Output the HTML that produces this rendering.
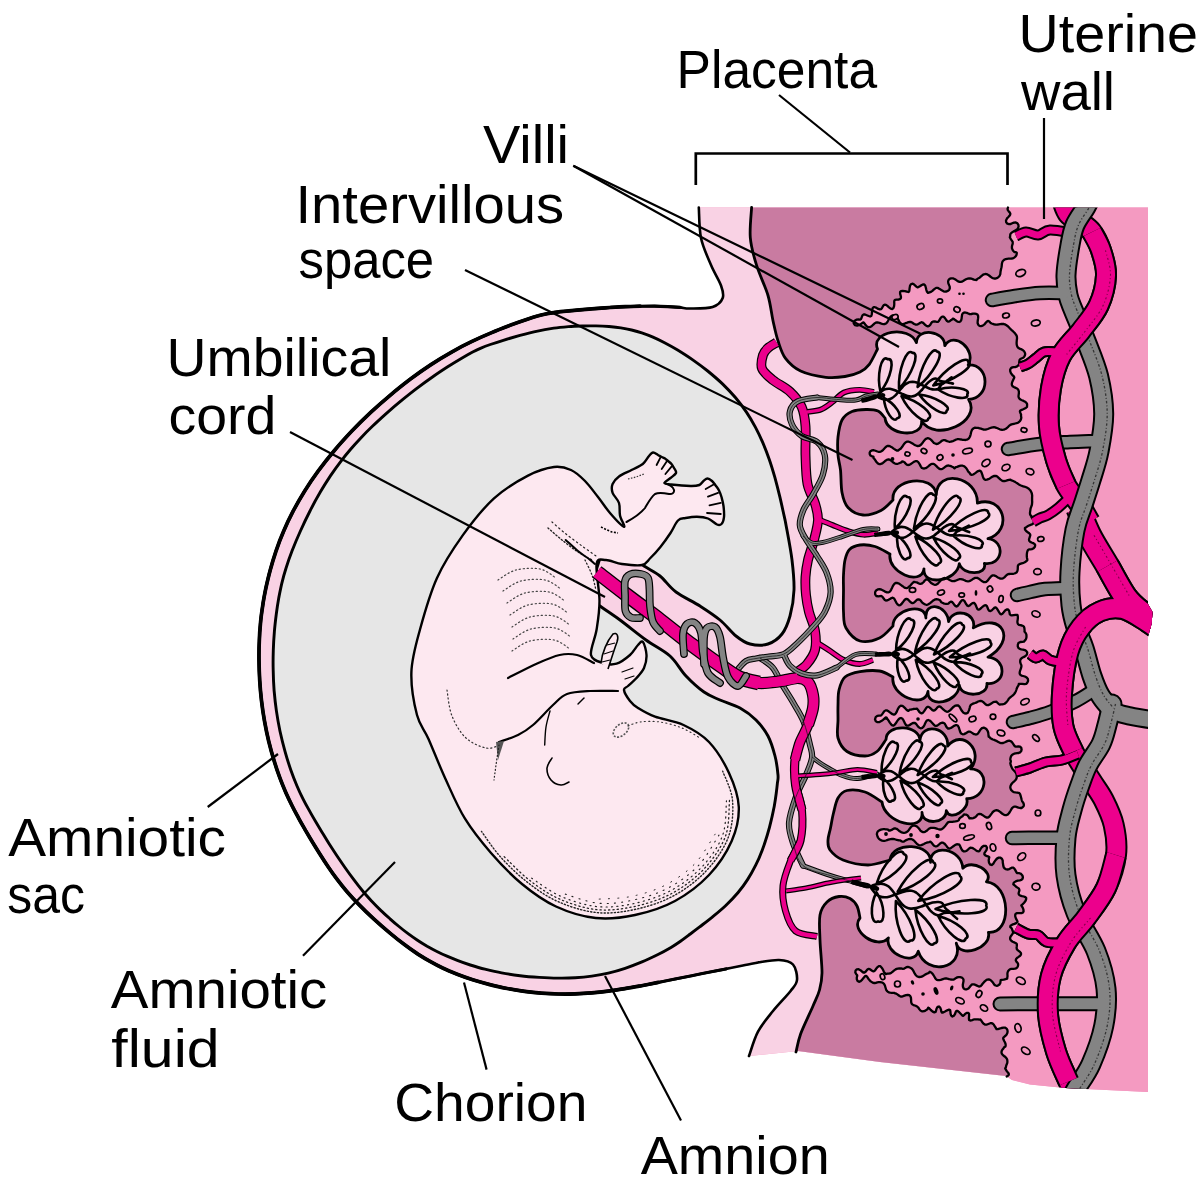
<!DOCTYPE html>
<html><head><meta charset="utf-8"><title>Placenta</title>
<style>html,body{margin:0;padding:0;background:#fff}svg{display:block}text{font-family:"Liberation Sans",sans-serif;fill:#000}</style>
</head><body>
<svg width="1200" height="1193" viewBox="0 0 1200 1193">
<rect width="1200" height="1193" fill="#fff"/>
<path d="M698.8 207.5C699.2 212.6 699 228.4 701 238C703 247.6 707.7 257.1 711 265C714.3 272.9 719 280 721 285.5C723 291 724.1 294.4 722.7 298C721.3 301.6 718.1 305.2 712.6 307C707.1 308.8 695.4 308.4 690 308.5C684.6 308.6 683.8 307.7 680.1 307.4C676.4 307.1 672.1 306.8 667.9 306.6C663.6 306.4 659.1 306.2 654.5 306.1C649.8 306.1 645 306.1 640.1 306.2C635.2 306.3 630.2 306.5 625.2 306.7C620.1 306.9 615.1 307.2 610 307.5C604.9 307.9 599.7 308.2 594.7 308.6C589.6 309 584.4 309.5 579.7 309.9C574.9 310.4 570.2 310.8 566.1 311.2C562.1 311.6 558.5 312 555.3 312.4C552.1 312.8 549.7 313.1 546.9 313.7C544 314.3 541.7 314.8 538.3 315.8C534.9 316.7 531.2 317.9 526.6 319.5C522 321 516.5 322.9 510.7 325.1C504.9 327.3 498.2 329.8 491.7 332.6C485.1 335.3 478.2 338.4 471.5 341.7C464.7 344.9 457.9 348.5 451.2 352.3C444.4 356.1 437.7 360.2 431 364.6C424.3 369 417.6 373.7 410.8 378.7C404.1 383.8 397.3 389.1 390.7 394.8C384 400.4 377.2 406.3 370.7 412.4C364.2 418.5 357.7 424.9 351.6 431.3C345.5 437.8 339.5 444.4 334 451C328.4 457.6 323.2 464.3 318.3 470.9C313.4 477.6 308.8 484.3 304.7 491C300.5 497.8 296.6 504.5 293.1 511.2C289.6 517.9 286.4 524.6 283.6 531.3C280.7 537.9 278.2 544.6 276 551.1C273.8 557.6 271.9 564 270.2 570.2C268.5 576.4 267.1 582.5 265.8 588.4C264.6 594.3 263.5 600 262.7 605.7C261.8 611.5 261 617.1 260.5 623C259.9 628.9 259.5 634.9 259.3 641.2C259 647.4 258.9 653.8 259 660.4C259.1 666.9 259.3 673.7 259.7 680.4C260.1 687.1 260.7 693.9 261.5 700.7C262.3 707.5 263.3 714.3 264.5 721.1C265.7 727.8 267.1 734.6 268.7 741.2C270.3 747.7 272.1 754.3 274 760.4C275.8 766.5 277.8 772.3 279.8 777.7C281.8 783.1 283.9 788.1 285.9 792.8C288 797.5 290.1 801.8 292.2 806C294.3 810.3 296.5 814.2 298.7 818.3C300.9 822.4 303.2 826.3 305.5 830.4C307.9 834.4 310.3 838.5 312.7 842.5C315.2 846.6 317.7 850.6 320.3 854.7C322.8 858.7 325.4 862.7 328.1 866.7C330.8 870.7 333.5 874.6 336.6 878.7C339.7 882.8 342.9 886.9 346.6 891.2C350.3 895.5 354.4 900 359 904.6C363.5 909.3 368.6 914.2 373.7 918.9C378.7 923.5 384.2 928.3 389.4 932.6C394.5 936.9 399.6 941 404.4 944.5C409.1 948.1 413.6 951.2 417.9 954.1C422.3 956.9 426.2 959.3 430.5 961.7C434.7 964.1 438.7 966.2 443.2 968.3C447.6 970.4 452.2 972.3 457.2 974.3C462.1 976.2 467.3 978.1 472.7 979.8C478.2 981.5 483.9 983.1 489.7 984.6C495.4 986 501.4 987.4 507.2 988.5C513 989.6 518.9 990.6 524.6 991.4C530.3 992.2 536 992.8 541.6 993.2C547.2 993.6 552.8 993.9 558.4 994C563.9 994.1 569.5 994.1 575 993.9C580.6 993.7 586.1 993.4 591.6 992.9C597.2 992.4 602.7 991.8 608.2 991.1C613.7 990.4 619.3 989.5 624.8 988.6C630.4 987.7 635.9 986.7 641.5 985.7C647 984.6 652.6 983.5 658.2 982.4C663.8 981.3 669.3 980.2 674.9 979.1C680.6 978 686.2 976.8 691.8 975.7C697.5 974.6 703.1 973.5 708.8 972.3C714.5 971.2 720.3 970 726 968.9C731.7 967.8 737.6 966.6 742.9 965.5C748.2 964.5 755.5 963 758 962.5C760.5 962 754.5 962.9 758 962.5C761.5 962.1 773.2 959.7 779 960C784.8 960.3 790 961.2 793 964.5C796 967.8 797.4 975.6 797 980C796.6 984.4 794.6 985.8 790.6 991C786.6 996.2 778.4 1004.2 773 1011C767.6 1017.8 762 1024.1 758 1031.6C754 1039.1 750.5 1051.9 749 1056L798 1051L880 1062L1006 1076L1012 1080L1030 1084.5L1065 1088L1148 1092L1148 207.5Z" fill="#F49AC1" stroke="none" stroke-width="0" />
<path d="M698.8 207.5C699.2 212.6 699 228.4 701 238C703 247.6 707.7 257.1 711 265C714.3 272.9 719 280 721 285.5C723 291 724.1 294.4 722.7 298C721.3 301.6 718.1 305.2 712.6 307C707.1 308.8 695.4 308.4 690 308.5C684.6 308.6 683.8 307.7 680.1 307.4C676.4 307.1 672.1 306.8 667.9 306.6C663.6 306.4 659.1 306.2 654.5 306.1C649.8 306.1 645 306.1 640.1 306.2C635.2 306.3 630.2 306.5 625.2 306.7C620.1 306.9 615.1 307.2 610 307.5C604.9 307.9 599.7 308.2 594.7 308.6C589.6 309 584.4 309.5 579.7 309.9C574.9 310.4 570.2 310.8 566.1 311.2C562.1 311.6 558.5 312 555.3 312.4C552.1 312.8 549.7 313.1 546.9 313.7C544 314.3 541.7 314.8 538.3 315.8C534.9 316.7 531.2 317.9 526.6 319.5C522 321 516.5 322.9 510.7 325.1C504.9 327.3 498.2 329.8 491.7 332.6C485.1 335.3 478.2 338.4 471.5 341.7C464.7 344.9 457.9 348.5 451.2 352.3C444.4 356.1 437.7 360.2 431 364.6C424.3 369 417.6 373.7 410.8 378.7C404.1 383.8 397.3 389.1 390.7 394.8C384 400.4 377.2 406.3 370.7 412.4C364.2 418.5 357.7 424.9 351.6 431.3C345.5 437.8 339.5 444.4 334 451C328.4 457.6 323.2 464.3 318.3 470.9C313.4 477.6 308.8 484.3 304.7 491C300.5 497.8 296.6 504.5 293.1 511.2C289.6 517.9 286.4 524.6 283.6 531.3C280.7 537.9 278.2 544.6 276 551.1C273.8 557.6 271.9 564 270.2 570.2C268.5 576.4 267.1 582.5 265.8 588.4C264.6 594.3 263.5 600 262.7 605.7C261.8 611.5 261 617.1 260.5 623C259.9 628.9 259.5 634.9 259.3 641.2C259 647.4 258.9 653.8 259 660.4C259.1 666.9 259.3 673.7 259.7 680.4C260.1 687.1 260.7 693.9 261.5 700.7C262.3 707.5 263.3 714.3 264.5 721.1C265.7 727.8 267.1 734.6 268.7 741.2C270.3 747.7 272.1 754.3 274 760.4C275.8 766.5 277.8 772.3 279.8 777.7C281.8 783.1 283.9 788.1 285.9 792.8C288 797.5 290.1 801.8 292.2 806C294.3 810.3 296.5 814.2 298.7 818.3C300.9 822.4 303.2 826.3 305.5 830.4C307.9 834.4 310.3 838.5 312.7 842.5C315.2 846.6 317.7 850.6 320.3 854.7C322.8 858.7 325.4 862.7 328.1 866.7C330.8 870.7 333.5 874.6 336.6 878.7C339.7 882.8 342.9 886.9 346.6 891.2C350.3 895.5 354.4 900 359 904.6C363.5 909.3 368.6 914.2 373.7 918.9C378.7 923.5 384.2 928.3 389.4 932.6C394.5 936.9 399.6 941 404.4 944.5C409.1 948.1 413.6 951.2 417.9 954.1C422.3 956.9 426.2 959.3 430.5 961.7C434.7 964.1 438.7 966.2 443.2 968.3C447.6 970.4 452.2 972.3 457.2 974.3C462.1 976.2 467.3 978.1 472.7 979.8C478.2 981.5 483.9 983.1 489.7 984.6C495.4 986 501.4 987.4 507.2 988.5C513 989.6 518.9 990.6 524.6 991.4C530.3 992.2 536 992.8 541.6 993.2C547.2 993.6 552.8 993.9 558.4 994C563.9 994.1 569.5 994.1 575 993.9C580.6 993.7 586.1 993.4 591.6 992.9C597.2 992.4 602.7 991.8 608.2 991.1C613.7 990.4 619.3 989.5 624.8 988.6C630.4 987.7 635.9 986.7 641.5 985.7C647 984.6 652.6 983.5 658.2 982.4C663.8 981.3 669.3 980.2 674.9 979.1C680.6 978 686.2 976.8 691.8 975.7C697.5 974.6 703.1 973.5 708.8 972.3C714.5 971.2 720.3 970 726 968.9C731.7 967.8 737.6 966.6 742.9 965.5C748.2 964.5 755.5 963 758 962.5C760.5 962 754.5 962.9 758 962.5C761.5 962.1 773.2 959.7 779 960C784.8 960.3 790 961.2 793 964.5C796 967.8 797.4 975.6 797 980C796.6 984.4 794.6 985.8 790.6 991C786.6 996.2 778.4 1004.2 773 1011C767.6 1017.8 762 1024.1 758 1031.6C754 1039.1 750.5 1051.9 749 1056L798 1051L880 1062L1006 1076L1040 1085L1040 207.5Z" fill="#F9D2E4"/>
<path d="M1008 207.5L1007.6 208.7L1007.7 209.9L1008.6 211.2L1009.7 212.4L1010.3 213.6L1010.2 214.7L1009.5 215.8L1008.4 217L1007 218.4L1006 220.4L1006.2 222.3L1007.4 223.7L1009.1 224.2L1010.7 224L1012.2 223.3L1013.9 222.6L1015.8 222.4L1017.4 223.3L1018.4 224.9L1018.6 226.6L1018 228.2L1017 229.4L1015.7 230.3L1014.2 231.1L1012.7 231.9L1011.5 232.8L1010.6 233.7L1010.2 234.9L1010.2 236.1L1009.8 237.3L1010.7 238.9L1011.7 240.4L1012.7 241.8L1012.7 242.9L1012.7 243.8L1012.4 244.7L1012.1 245.7L1011.9 247L1012 248.4L1012.6 249.9L1013.3 251L1014.1 251.8L1014.7 252.2L1015.5 252.1L1016.4 252.3L1016.8 252.9L1016.7 254L1016.3 255.3L1015.5 256.5L1014.5 257.4L1013.5 258.1L1012.3 258.5L1011 258.6L1009.7 258.6L1008.4 258.7L1007.1 258.8L1005.8 259.1L1004.6 259.5L1003.6 260.3L1002.7 261.2L1002.2 262.4L1001.9 263.7L1001.8 264.9L1001.7 266.1L1001.5 267.3L1001.2 268.5L1000.9 269.7L1000.7 270.8L1000.5 271.9L1000.4 273L1000.3 274.1L999.8 275.3L999.1 276.5L998 277.5L996.7 278.2L995.3 278.6L994 278.5L992.7 278.1L991.5 277.4L990.3 276.5L989.1 275.5L987.9 274.7L986.6 274.1L985.3 274L984 274.3L982.8 274.9L981.7 275.8L980.7 276.7L979.7 277.6L978.6 278.3L977.5 278.8L976.5 280L975.2 279.9L973.9 279.6L972.6 279.1L971.4 278.7L970.1 278.5L969 278.4L967.8 278.6L966.6 279L965.5 279.6L964.3 280.3L963.1 281L961.9 281.6L960.7 281.9L959.5 281.9L958.3 281.4L957.1 280.7L955.9 279.8L954.5 279L953 278.4L951.2 278.3L949.6 278.9L948.4 280.2L948.1 281.9L948.4 283.5L949.1 285.1L949.7 286.6L949.8 288.3L949.2 289.8L947.9 290.9L946.5 291.5L945 291.6L943.5 291.3L942.2 290.6L940.9 289.8L939.6 288.9L938.4 288.2L937.3 287.8L936.1 287.9L935 288.6L933.7 289.7L932.4 290.9L931 291.9L929.5 292.4L928 292.9L927 291.8L926.3 289.8L925.8 287.5L925.2 285.6L924.2 284.5L922.9 284.4L921.4 285.2L919.9 286.3L918.5 287.1L917.4 287.3L916.3 286.6L915 285.4L913.6 284.2L912.2 283.7L910.9 284.3L910 285.9L909.6 288.1L909.4 290.2L909.1 291.5L908.3 292L906.8 291.6L904.8 291.1L902.6 290.8L901 291.1L900.1 292.1L900.1 293.6L900.6 295.4L901 297L900.8 298.3L899.8 299.2L898.3 299.6L896.5 299.7L895.1 299.9L894.4 300.6L894.2 301.9L894.3 304L894.1 306.2L893.4 308.1L892.2 309L890.7 308.7L889 307.4L887.4 305.9L886 304.8L884.7 304.6L883.6 305.3L882.7 306.7L881.9 308.2L881 309.2L879.8 309.4L878.3 308.9L876.6 307.9L874.9 307.2L873.5 307.2L872.6 308.2L872.2 310.1L872 312.4L871.8 314.5L871.3 316L870.1 316.5L868.6 316L866.7 315.2L865 314.5L863.7 314.4L862.7 315.1L862 316.5L861.5 318L860.9 319.2L860 319.6L858.5 319.5L856.4 319.7L854.4 321L853.7 323.3L854.9 325.1L857.2 325.7L859.5 324.9L861.4 323.6L862.7 322.7L863.7 322.5L864.5 323.4L865.4 324.8L866.7 326.3L868 327.1L869.3 327.2L870.5 326.9L871.6 326.2L872.6 325.2L873.6 324.3L874.6 323.4L875.7 322.7L876.9 322.4L878.1 322.5L879.5 322.9L880.8 323.4L882.2 323.8L883.6 324.1L884.9 324L886 323.5L886.9 322.6L887.8 321.3L888.6 319.8L889.4 318.3L890.4 316.9L891.6 315.9L893 315.4L894.4 315.6L895.9 316.4L897.1 317.7L898.1 319.2L899 320.9L899.7 322.4L900.6 323.3L901.6 324L902.8 324.2L904.2 323.9L905.7 323.1L907.2 322.6L908.5 322.1L909.8 321.8L911 322L912.1 322.5L913.1 323.2L914.2 324L915.4 324.5L916.6 324.6L917.8 324.3L919.1 323.5L920.3 322.7L921.5 322.2L922.6 322.5L923.7 323.4L925 324.8L926.5 325.9L927.9 326.3L929.1 325.9L930.2 324.9L931 323.5L931.8 322.3L932.8 321.6L934.1 321.4L935.4 321.5L936.8 321.9L937.9 321.9L938.9 321L939.8 319.4L940.9 317.7L942.2 316.7L943.5 316.7L944.8 317.8L945.9 319.5L947 321L948.2 321.6L949.4 321.3L950.7 320.3L951.8 319.7L952.9 318.6L954.1 319.1L955.6 320.3L957.4 321.6L959.1 322L960.4 321.5L961.2 320.2L961.6 318.5L961.8 316.6L962.1 314.8L962.7 313.4L963.8 312.7L965.2 312.5L966.8 312.9L968.2 313.5L969.3 314L970.3 314.1L971.4 314L972.9 313.7L974.7 313.6L976.3 313.9L977.5 314.6L978.1 315.7L978.2 317.2L978 319L977.7 321L977.6 323L978.2 324.7L979.3 325.8L980.9 326.1L982.7 325.6L984.4 324.4L985.9 322.6L987.2 321.3L988.3 320.9L989.4 321.5L990.5 322.9L991.7 323.5L992.9 323.9L994.1 324.3L995.3 324.5L996.5 324.6L997.7 324.5L998.9 324.3L1000.1 324.1L1001.3 324L1002.6 323.9L1003.8 324L1004.9 324.4L1006.1 325L1007.1 325.7L1008.1 326.5L1008.9 327.3L1009.6 328.1L1010.2 328.7L1010.8 329.3L1011.4 329.9L1012.3 330.6L1013.2 331.5L1014.2 332.5L1015.2 333.6L1016 334.7L1016.6 335.7L1016.9 336.7L1017 337.7L1017 338.8L1016.8 340L1016.7 341.4L1016.6 343L1016.7 344.5L1017 345.8L1017.5 346.9L1018.2 347.8L1019.1 348.4L1020.3 348.9L1021.7 349.4L1023 350.2L1024.1 351.3L1024.9 352.7L1025.2 354.1L1024.9 355.5L1024.2 356.7L1023.2 357.8L1021.4 358.5L1020.1 359.2L1019.5 360.1L1019.4 361.3L1019.5 362.8L1019.1 364L1018.5 365.1L1017.6 366L1016.7 366.7L1015.2 367L1013.6 367.2L1012 367.5L1010.9 368.3L1010.2 369.5L1010.2 371.2L1010.8 372.9L1011.8 374.4L1013 375.6L1013.9 376.4L1014.3 377.2L1014.1 378.1L1013.5 379.3L1012.8 380.8L1012.1 382.4L1011.8 384L1012 385.3L1012.7 386.3L1013.8 387L1015.2 387.6L1016.5 388.2L1017.6 388.9L1018.3 389.9L1018.8 391.1L1018.9 392.4L1018.8 393.8L1018.6 395.2L1018.5 396.5L1018.8 397.7L1019.4 398.6L1020.5 399.5L1022 400.2L1023.6 400.9L1025.1 401.7L1026.4 402.8L1027.1 404L1027.1 405.5L1027 406.9L1025.3 408.3L1023.2 409.3L1021.3 410.1L1020.1 410.8L1019.9 411.7L1020.4 413L1021.1 414.6L1021 415.9L1021.3 417.5L1021.1 418.9L1020.6 420.1L1019.9 421.2L1019 422L1017.9 422.7L1016.6 423.2L1015.3 423.5L1013.9 423.8L1012.6 424.1L1011.5 424.4L1010.4 424.9L1009.5 425.5L1008.7 426.3L1007.9 427.1L1006.9 428L1005.9 428.7L1004.7 429.3L1003.5 429.7L1002.2 429.9L1001 429.6L999.8 429.3L998.6 428.8L997.5 428.3L996.3 427.8L995.1 427.4L993.9 427.2L992.7 427.3L991.5 427.6L990.3 428L989 428.5L987.8 429L986.5 429.3L985.4 429.6L984.3 429.6L983.3 429.5L982.2 429.1L981 428.7L979.6 428.3L978.1 427.9L976.6 427.8L974.8 427.6L973.7 428.3L972.7 429L971.9 430L971.4 431.3L971 432.7L970.7 434.2L970.3 435.7L969.7 437.1L968.9 438.3L967.9 439.2L966.8 439.7L965.5 440L964.1 439.9L962.7 439.8L961.4 439.5L960 439.3L958.8 439.2L957.6 439.2L956.4 439.5L955.3 439.9L954.2 440.5L953.1 441.1L951.9 441.3L950.8 441.7L949.6 441.8L948.4 441.5L947.1 441.1L945.9 440.6L944.8 440.2L943.6 440.1L942.4 440.5L941.2 441.3L940 442.4L938.7 443.3L937.5 443.9L936.3 444L935.1 443.5L933.9 443L932.8 441.7L931.6 440.4L930.4 439.2L929.1 438.5L927.8 438.2L926.6 438.5L925.4 439.3L924.3 440.5L923.2 441.9L922.2 443.3L921.2 444.5L920.1 445.4L919.1 445.9L917.9 446L916.7 445.8L915.3 445.2L913.9 444.4L912.5 443.5L911.1 442.7L909.7 442L908.4 441.7L907.2 441.7L906 442.1L905 442.9L904 444.1L903.1 445.4L902.2 446.8L901.2 448.1L900.2 449.1L899 449.8L898 450.7L896.7 450.5L895.4 449.8L894 448.9L892.6 447.8L891.2 446.9L889.9 446.2L888.6 445.9L887.4 446L886.3 446.6L885.2 447.6L884.2 448.7L883.2 449.8L882.1 450.8L881 451.5L879.9 451.8L878.7 451.8L877.4 451.5L876.1 451L874.7 450.5L873.3 450.2L871.8 450.4L870.5 451.2L869.7 452.5L869.7 454L870.4 455.4L871.6 456.1L872.7 456.5L873.5 456.7L873.5 457.9L874.2 458.7L874.9 459.7L875.8 461L876.7 462.3L877.8 463.4L879 464L880.3 464.1L881.6 463.7L882.9 462.9L884.2 461.8L885.5 460.7L886.7 459.9L887.9 459.5L889.1 459.5L890.2 460.1L891.4 460.9L892.6 461.9L893.7 462.8L894.9 463.5L896.1 463.8L897.3 463.8L898.5 463.5L899.7 463L901 462.5L902.2 461.5L903.4 461.6L904.6 462.4L905.7 463.6L906.8 464.7L907.9 465L909.1 464.9L910.4 464.3L911.7 463.4L913.1 462.4L914.5 461.5L915.8 461.1L917 461.2L918.1 461.9L919.1 463.3L920 464.9L920.9 466.6L921.9 468L923.1 468.3L924.3 468.5L925.6 468.2L926.9 467.4L928.3 466.3L929.6 465.2L930.9 464.3L932.1 463.8L933.3 463.8L934.4 464.3L935.5 465.2L936.7 466.4L937.9 467.6L939.1 468.6L940.3 469.2L941.5 469.2L942.7 468.7L943.9 467.8L945.1 466.9L946.2 466.1L947.4 465.6L948.6 465.5L949.8 465.8L951.1 466.2L952.2 466.8L953.4 467.3L954.5 468.3L955.8 467.2L957 466.9L958.3 466.4L959.6 465.9L961 465.6L962.3 465.7L963.5 466L964.6 466.6L965.6 467.5L966.5 468.5L967.3 469.8L968 471.1L968.8 472.2L969.8 473.1L970.5 474.4L971.7 474.9L973.2 474.5L974.9 473.4L976.6 472.1L978.2 471.1L979.6 470.7L980.7 471.1L981.5 472.4L982.2 474.3L982.8 476.4L983.5 478.2L984.4 479.4L985.6 479.8L986.9 479.7L988.3 479.2L989.8 478.4L991.2 477.4L992.6 476.6L993.9 476L995 475.8L996.2 476L997.3 476.6L998.4 477.6L999.5 478.6L1000.6 479.6L1001.7 480.4L1002.8 481L1004 481.1L1005.1 481L1006.4 480.6L1007.7 480.2L1009.1 479.8L1010.4 479.6L1011.4 480.4L1012.6 480.7L1013.7 481.2L1014.8 481.7L1015.8 482.4L1016.9 483.1L1017.9 483.7L1018.9 484.4L1019.9 485L1021 485.5L1022.1 485.9L1023.3 486.3L1024.4 486.6L1025.6 487L1026.7 487.5L1027.8 488.1L1028.8 488.8L1029.7 489.7L1030.5 490.6L1031.1 491.7L1031.6 492.8L1031.9 493.9L1032.1 494.9L1032.2 496L1032.1 497L1032.1 498.1L1032.1 499.3L1032.1 500.6L1032.2 501.9L1032.1 503.1L1032 504.3L1031.8 505.3L1031.4 506.3L1031 507.4L1030.6 508.5L1030.4 509.8L1030.2 511.2L1030 512.6L1030 513.8L1030.2 514.7L1030.8 515.6L1031.7 516.5L1032.5 517.6L1033.7 519.1L1034 520.6L1034 522L1033.5 523.2L1032.5 524.1L1031.1 524.7L1029.5 525.3L1028 526L1026.7 526.9L1024.9 528L1025 529.5L1026.2 531L1027.8 532.3L1029.2 533.3L1030.1 534.2L1030.3 535.3L1029.9 536.7L1029.4 538.1L1029 539.5L1029.2 540.7L1030.1 541.7L1031.5 542.5L1033.1 543.1L1034.5 543.9L1035.2 545.1L1034.9 546.7L1033.7 548.2L1031.9 549.1L1030.5 549.4L1029.4 549.4L1028.6 549.6L1027.9 550.2L1027.4 551.3L1027 552.8L1026.8 554.6L1026.8 556.3L1027 557.9L1027.3 559.2L1027.3 560.3L1026.6 560.9L1025.7 561.7L1024.3 562.5L1022.6 563.2L1020.9 563.7L1019.5 564.2L1018.5 564.8L1018 565.5L1017.8 566.6L1017.8 568.1L1017.7 569.7L1017.3 571.2L1016.6 572.5L1015.5 573.1L1014.3 573.5L1013.1 573.8L1011.8 573.9L1010.5 573.9L1009.2 574L1008 574.2L1007 574.8L1006 575.7L1005.1 576.6L1004.1 577.6L1003 578.3L1001.8 578.6L1000.5 578.6L999.2 578.1L997.9 577.4L996.5 576.6L995.2 575.8L994 575.4L992.8 575.4L991.7 575.9L990.6 576.9L989.5 578.2L988.5 579.6L987.4 580.9L986.3 581.8L985.1 582.2L983.9 582.1L982.6 581.5L981.3 580.6L980 579.6L978.8 578.7L977.6 578L976.4 577.8L975.2 577.9L974 578.4L972.8 579.1L971.7 579.9L970.5 580.6L969.3 581.1L968 581.3L966.8 581.2L965.6 580.8L964.5 580.2L963.3 579.7L962.1 579.3L960.9 579.1L959.7 579.2L958.5 579.5L957.3 580L956.1 580.5L954.9 581L953.7 581.2L952.5 581.2L951.3 580.8L950.1 580.2L948.8 579.5L947.6 578.8L946.3 578.3L945 578L943.8 578.2L942.7 578.7L941.6 579.6L940.5 580.8L939.4 582L938.4 583.1L937.3 584.1L936.2 584.7L935 584.8L933.7 584.5L932.4 583.8L931.1 583L929.7 581.4L928.3 580L927 579.3L925.9 579.5L924.8 580.5L923.7 582L922.6 583L921.5 583.7L920.3 583.9L919.1 583.6L917.8 582.9L916.6 582.3L915.4 582.1L914.1 581.8L913 582.6L911.9 583.7L910.8 585L909.7 586.2L908.6 587.2L907.5 587.8L906.4 588.1L905.2 587.9L903.9 587.2L902.6 586.2L901.1 585.1L899.7 584.1L898.2 583.3L896.9 582.9L895.6 583L894.5 583.7L893.6 584.9L892.7 586.4L892 588L891.2 589.6L890.4 591L889.4 592L888.3 592.4L887 592.4L885.6 591.9L884.1 591L882.6 590.2L881.1 589.5L879.4 589.2L877.7 589.4L876.1 590.4L875.1 592.2L875.2 594.4L876.2 596L878.3 596.4L880 596.1L881.2 596L882.1 596.5L883 597.5L883.9 598.8L884.8 599.9L885.9 600.5L887.2 600.4L888.6 599.8L890 598.9L891.5 598L892.7 597.7L893.8 598.2L894.7 599.4L895.6 601.2L896.6 603.1L897.7 604.6L898.9 605.3L900.2 605.1L901.5 604L902.8 602.3L904 600.6L905.2 599.4L906.4 598.9L907.6 599.2L908.8 600.3L910 601.6L911.2 602.6L912.4 603.1L913.6 602.8L914.8 601.9L916 600.7L917.2 599.7L918.4 599.3L919.6 599.6L920.8 600.7L922 602.3L923.2 603.3L924.4 604.1L925.5 604.5L926.7 604.9L927.9 604.5L929.1 603.8L930.4 602.8L931.6 601.8L932.8 600.8L934.1 600L935.3 599.4L936.5 599.2L937.7 599.3L938.9 599.8L940.1 600.3L941.2 602.2L942.4 602.7L943.5 603.3L944.7 603.7L945.9 603.9L947.1 603.9L948.3 603.7L949.6 602.4L950.8 601.6L952 601.9L953.2 603.2L954.3 604.8L955.4 606.1L956.6 606.5L957.8 605.7L959.1 604L960.4 602L961.7 600.4L963 600L964.2 600.7L965.2 602.4L966.3 604.3L967.4 605.7L968.5 606.1L969.8 605.4L971.1 604.2L972.5 603.1L973.8 602.8L974.9 603.6L975.8 605.3L976.6 607.3L977.4 609L978.3 609.7L979.6 609.3L981.2 608L983 606.4L984.7 605.3L986 605.2L986.9 606.1L987.6 607.8L988.3 609.6L989.2 610.8L990.5 611L991.9 610.2L993.3 608.8L994.5 607.7L995.7 607.4L996.8 608.3L997.9 610.1L999.1 612.1L1000.2 613.8L1001.3 614.4L1002.4 613.7L1003.7 612.2L1005.1 610.5L1006.7 609.5L1008.1 609.5L1009.1 610.7L1009.5 612.5L1009.8 614.2L1010.6 615.1L1011.8 615.4L1013.6 615.1L1015.7 614.8L1017.4 614.9L1017.8 616.2L1017.9 617.8L1017.7 619.6L1017.4 621.5L1017.5 622.9L1018 624.1L1019 624.9L1020.4 625.2L1021.9 625.5L1023.2 626L1024 626.8L1024.4 628.1L1024.5 629.4L1024.6 630.6L1024.5 631.6L1025.2 632.3L1025.9 633.3L1026.4 634.6L1026.5 636.1L1026.4 637.7L1026 639L1025.3 640.1L1024.5 640.9L1024 641.7L1022.4 641.8L1020.4 642L1018.4 643.1L1017.8 644.8L1017.8 646.6L1018.5 648L1019.8 648.9L1021.3 649.3L1023 649.6L1024.8 650.1L1026.3 651L1027.2 652.4L1027.1 654L1026.3 655.4L1025 656.4L1023.6 657.1L1022.3 657.8L1021.3 658.5L1020.5 659.5L1020.2 660.8L1020.2 662.1L1020.6 663.4L1021.1 664.5L1021.4 665.5L1021.4 666.6L1021.1 667.9L1020.6 669.3L1020.1 670.7L1019.7 672.3L1019.7 673.7L1020.3 674.8L1021.5 675.6L1023.1 676L1024.9 676.5L1026.7 677.5L1027.9 679L1028.1 680.9L1027.4 682.5L1026.4 683.8L1024.3 684.1L1022.1 683.9L1020.2 683.8L1018.8 684L1018.5 685.4L1017.8 686.4L1017.2 687.5L1016.7 688.7L1016.3 690L1015.9 691.2L1015.3 692.3L1014.7 693.3L1014 694.2L1013.1 695.1L1012.2 695.9L1011.2 696.6L1010.3 697.4L1009.4 698.2L1008.6 699.1L1008 700.1L1007.3 701.1L1006.5 702.1L1005.6 703L1004.6 703.7L1003.4 704.2L1002.2 704.4L1000.9 704.4L999.7 704.7L998.5 703.8L997.4 702.7L996.3 701.6L995.1 701.8L993.9 701.9L992.6 702.6L991.3 703.5L990 704.4L988.7 705L987.4 705.2L986.3 704.8L985.2 704L984.1 702.9L983 701.9L981.9 701.2L980.6 700.9L979.4 701.2L978.2 701.5L977.1 702.1L976 702.6L975 703L973.8 703.4L972.5 703.9L971.4 704.5L970.5 705.4L970 706.4L969.7 707.8L969.3 709.4L968.7 710.9L967.8 712.9L966.2 713.5L964.6 713.4L963.2 712.5L962 711.1L961 709.4L960.1 707.7L959.2 706.4L958.1 705.5L956.9 705.3L955.5 705.6L954.1 706.4L952.8 707.5L951.5 708.9L950.3 710.1L949.1 711.1L948 711.7L946.9 711.8L945.7 711.3L944.5 710.4L943.2 709.3L941.9 708.2L940.6 706.9L939.3 706.4L938.1 706.8L937 707.9L936 709.2L934.9 710.2L933.7 710.6L932.4 710.1L931.1 708.9L929.8 707.7L928.6 706.8L927.4 706.9L926.3 707.9L925.2 709.6L924 711.4L922.8 712.9L921.5 713.4L920.2 712.8L919.1 711.6L918 709.9L916.9 708.6L915.7 708.9L914.5 708.8L913.3 709L912 709.3L910.8 709.6L909.6 709.7L908.4 710.9L907.3 710.4L906.1 709.3L904.8 707.9L903.4 706.6L902.1 705.8L900.8 705.7L899.6 706.4L898.6 707.7L897.6 709.6L896.8 711.6L895.9 713.2L894.9 714.3L893.8 714.6L892.5 714.2L891.1 713.2L889.6 712.1L888.1 711L886.8 710.4L885.6 710.4L884.5 711.1L883.5 712.3L882.6 713.6L881.7 714.8L881 715.5L880.2 715.7L879 715.6L877.3 715.9L875.7 717.2L875 719.3L875.8 721.3L877.5 722.2L879.5 722.1L881.3 721.1L883 719.8L884.4 718.6L885.5 718L886.5 718.1L887.5 719.1L888.6 720.7L889.8 722.6L891.1 724.3L892.3 725.4L893.5 725.6L894.6 724.8L895.8 723.3L897 721.4L898.3 719.6L899.6 718.4L901 718L902.2 718.5L903.3 719.9L904.2 721.8L905.1 723.7L906 725L907.1 725.7L908.3 725.6L909.7 725L911.1 724L912.5 723.2L913.8 722.8L914.9 723L916 723.8L917 725.1L918.1 726.6L919.4 727.7L920.7 728.3L922 728L923.3 726.9L924.3 725.3L925.2 723.3L926.1 721.5L927.1 720.3L928.2 720L929.6 720.5L931.1 721.7L932.5 723.2L933.8 724.6L934.9 725.7L936 726L937 725.7L938.2 724.9L939.6 723.8L941 723L942.4 722.6L943.6 722.8L944.7 723.7L945.5 725L946.2 726.5L947 727.7L948 728.5L949.3 728.5L950.8 728L952.4 727L954 725.9L955.5 725.2L956.8 725.1L957.9 725.8L958.7 727.2L959.3 729L959.9 731L960.6 732.7L961.5 733.8L962.7 734.3L964.1 734.1L965.5 733.4L967 732.5L968.3 731.7L969.5 731.7L970.6 731.9L971.7 732.6L973 733.4L974.3 734.2L975.6 734.5L976.8 734.4L977.9 733.6L978.9 732.2L979.8 730.6L980.9 729.1L982.2 728L983.7 727.6L985.2 728.3L986.6 729.3L987.6 730.8L988.2 732.5L988.4 734.1L988.5 735.5L988.7 736.7L989.7 737.2L990.5 738.2L991.6 738.9L992.9 739.5L994.2 739.9L995.3 740.4L996.4 740.8L997.4 741.4L998.4 742L999.5 742.6L1000.6 743L1001.8 743.2L1003.1 743L1004.3 742.5L1005.5 742L1006.7 741.4L1007.9 740.9L1009.2 740.7L1010.4 741L1011.6 741.8L1012.6 743L1013.5 744.4L1014.3 745.6L1015.1 746.4L1015.9 746.7L1016.9 746.6L1018.3 746.3L1020 746.6L1021.3 747.9L1021.6 749.7L1021.1 751.3L1020 752.4L1018.6 753L1017.1 753.2L1015.6 753.4L1014.2 753.7L1013.1 754.3L1012 755L1011.2 756L1010.7 757.2L1010.4 758.5L1010.3 759.7L1010.8 760.9L1010.8 761.9L1010.3 763.2L1010.6 764.4L1010.9 765.6L1011.4 766.7L1011.9 767.8L1012.5 768.8L1013.2 769.8L1014.1 770.7L1015 771.6L1015.8 772.8L1016.4 774L1016.7 775.4L1016.8 776.7L1016.6 778L1016.1 779.2L1015.3 780.2L1014.3 781.3L1013.2 782.2L1012.1 783.3L1011.2 784.5L1010.5 785.9L1010.3 787.4L1010.6 788.8L1011.3 790.2L1012.4 791.2L1013.7 792.1L1015.5 792.4L1017.2 792.6L1018.6 792.8L1019.5 793.3L1020.1 794.2L1020.5 795.4L1020.9 796.8L1021.3 798.2L1021.6 799.5L1021.9 800.5L1022.2 801.4L1022.9 802.3L1023.6 803.4L1023.9 804.9L1023.6 806.3L1022.6 807.3L1021.5 808L1020 808L1018.4 807.6L1017 807.1L1015.6 806.7L1014.4 806.6L1013.3 807L1012.4 807.8L1011.5 809L1010.7 810.5L1009.8 812L1008.9 813.3L1007.9 814.4L1006.7 815L1005.4 815.1L1004.1 814.8L1002.7 814L1001.4 813L1000.1 811.9L998.8 811L997.6 810.4L996.3 810.2L995.1 810.5L993.9 811.1L992.8 812L991.8 813.4L990.8 814.7L989.8 816.1L988.7 817.1L987.6 817.6L986.4 817.5L985.1 816.9L983.7 815.9L982.3 814.9L980.9 814.1L979.6 813.8L978.4 814.1L977.3 814.9L976.4 816.2L975.4 817L974.3 817.7L973.2 818.1L972 818.3L970.7 818.2L969.5 818.4L968.4 816.5L967.4 815.2L966.4 814.7L965.2 814.6L964 814.4L962.5 816.3L961.2 817.1L960.1 817.9L959.3 818.7L958.9 820L958.4 820.4L957.7 820.8L956.7 821.1L955.4 821.4L953.8 821.6L952.2 821.8L950.8 821.9L949.6 821.9L948.7 822.1L948 822.4L947.3 823.1L946.5 824.2L945.6 825.4L944.5 826.7L943.4 827.9L942.3 828.8L941.3 829.4L940.2 829.5L939.1 829.3L938 829L936.7 828.6L935.3 828.2L933.8 827.9L932.5 827.8L931.1 827.8L930 828.2L929 828.7L928.1 829.5L927.2 830.3L926.3 831.1L925.1 831.8L923.8 832.1L922.6 832L921.4 831.4L920.4 830.6L919.7 829.5L918.9 828.5L918 827.5L917 826.6L915.8 825.9L914.5 825.6L913.1 825.7L911.8 826.3L910.8 827.3L909.9 828.4L909.2 829.5L908.4 830.5L907.6 831.4L906.6 832.2L905.3 832.6L903.9 832.8L902.5 832.6L901 832.1L899.7 831.3L898.6 830.4L897.6 829.5L896.6 828.8L895.6 828.5L894.4 828.4L893.1 829L891.6 829.9L890.2 830.5L889 830.6L888 829.6L886.8 829.4L885.7 829.3L884.5 829.2L883.3 829.2L882.1 829.3L880.9 829.6L879.8 830.1L878.8 830.7L877.9 831.4L877.3 832.3L877 833.3L876.9 834.4L877.2 835.4L877.5 836.5L878 837.6L878.8 838.6L879.7 839.4L880.9 840.1L882.1 840.6L883.3 840.8L884.6 840.8L885.9 840.5L887.1 840.1L888.3 839.7L889.5 839.3L890.7 839.1L891.9 839L893.1 839L894.3 839.2L895.5 839.5L896.7 839.8L897.9 840.1L899.1 840.4L900.3 840.4L901.4 841.2L902.6 841.7L903.8 841.7L905 840.8L906.3 840.1L907.6 839.5L908.8 839.1L910.1 838.9L911.3 839L912.4 839.5L913.6 840.3L914.6 841.3L915.7 842.5L916.7 843.6L917.7 844.5L918.8 845.1L919.9 845.3L921.2 845.1L922.5 844.6L923.9 844L925.2 843.3L926.6 842.7L927.9 842.3L929.1 842.1L930.4 841.7L931.4 842.6L932.4 843.8L933.4 845.1L934.6 846L935.8 846.4L937.1 846.1L938.3 845.3L939.4 844.2L940.6 843.2L941.7 842.6L943 842.7L944.2 843.4L945.4 844.6L946.6 846.1L947.6 847.5L948.6 848.4L949.6 848.6L950.8 848.2L952.1 847.2L953.7 846L955.3 844.9L956.9 844.2L958.2 844.3L959.3 844.7L960.1 846L960.7 847.6L961.5 849.2L962.4 850.5L963.5 851.3L964.8 851.4L966.2 851L967.4 850.1L968.6 849L969.6 848.1L970.7 847.7L971.9 847.8L973.2 848.4L974.7 849.4L976.1 850.4L977.5 851.2L978.6 851.4L979.5 851L980.3 849.4L981.7 847.3L983.8 845.8L985.9 845.9L987 847.6L986.6 849.8L985.4 851.7L984.4 853.2L984.4 854.4L985.4 855.4L987.1 856.2L988.6 856.7L989.3 857.2L989 858.4L988.7 860.3L989 862.7L990.2 864.6L991.7 865L993.2 863.8L994.5 861.7L995.8 859.9L997.2 858.4L998.8 857.6L1000.5 857.7L1001.9 858.7L1002.7 860.4L1002.8 862.7L1003.1 864.3L1003.3 865.9L1003.7 867.2L1004.5 868.3L1005.6 869.1L1007 869.5L1008.5 869.4L1010.2 868.5L1011.7 867.7L1013 867.6L1014 868.2L1014.9 869.4L1015.7 870.9L1016.4 872.2L1017 873L1017.9 873.1L1019.4 873.2L1021.1 873.9L1022.4 875.4L1022.9 877.4L1022.5 878.9L1021.4 879.9L1019.8 880.3L1017.7 880.7L1015.7 881.4L1013.8 882.6L1013.3 884.3L1015 885.6L1016.1 886.7L1017.5 887.6L1018.7 888.4L1019.3 889.5L1019.4 890.7L1018.8 892.3L1018.6 893.7L1019.1 894.8L1020.3 895.6L1022 896.1L1023.8 896.5L1025.3 897.1L1026.2 898.1L1026.1 899.5L1025.3 901.3L1023.9 903L1022.5 904.3L1021.5 905.1L1021.3 905.6L1021.9 906.4L1022.7 907.7L1023.4 909.5L1023.6 911.2L1023 912.5L1021.9 913.1L1020.3 913.2L1018.6 913.1L1017 913.1L1015.7 913.7L1015.2 915L1015.3 916.7L1016 918.6L1016.9 920.3L1017.5 921.5L1017.3 922.4L1016.2 923.1L1014.5 923.9L1012.2 924.7L1010.5 925.7L1010.2 927L1011.7 928.3L1012.2 929.6L1012.6 930.8L1013.2 932L1012.9 933.2L1012.2 934.4L1011.2 935.7L1010.4 936.9L1010.1 938.2L1010.3 939.5L1011.3 940.7L1012.7 941.7L1014.3 942.4L1015.6 943.1L1016.6 943.7L1016.9 944.7L1016.8 946.2L1016.6 947.7L1016.8 949L1017.4 949.9L1018.6 950.8L1020 951.9L1021 953.2L1021 954.6L1020.1 955.8L1018.6 956.9L1017 958L1016 959.2L1015.8 960.4L1016.4 961.6L1017.5 962.8L1018.1 964.1L1018.1 965.3L1017.8 966.5L1017.1 967.6L1016.1 968.3L1014.9 968.7L1013.7 968.8L1012.5 968.8L1011.4 968.9L1010.2 969.2L1009.1 969.9L1008.2 971L1007.6 972.4L1007.4 973.9L1007.5 975.3L1007.5 976.5L1007.3 977.4L1007.2 978.6L1005.6 979.2L1003.8 979.7L1001.8 979.8L1000.7 980.2L1000.5 981.3L1000.3 983.2L999.4 984.5L998.2 985.4L996.9 985.8L995.5 985.5L994.3 984.7L993.1 982.8L992 981.5L990.9 980.4L989.8 979.7L988.6 979.4L987.3 979.6L986 980.3L984.7 981.4L983.5 982.7L982.4 984L981.5 985.3L980.6 986.2L979.6 986.5L978.3 986.3L976.9 985.6L975.4 984.9L973.9 984.4L972.7 984.3L971.6 984.7L970.7 985.7L969.7 987L968.5 988.4L966.8 989.3L965.1 989.4L963.7 988.5L962.9 986.8L962.8 984.8L963.2 982.8L963.5 981.2L963.5 979.6L962.9 978.5L961.9 977.6L960.2 977.2L958.5 977.2L956.9 977.5L955.7 978.2L954.9 978.8L954.1 979.3L953.2 979.6L952 979.6L950.6 979.5L949.2 979.2L948 978.8L946.9 978.5L945.9 978.3L944.8 978.5L943.6 978.8L942.2 979.3L940.7 979.8L939.3 980.1L938 980.2L936.9 979.9L935.9 979.1L935.1 978L934.3 976.5L933.4 975L932.3 973.5L931.1 972.4L929.8 971.7L928.5 973.1L927.3 973.5L926.1 974.1L924.9 974.8L923.7 975.6L922.3 976.4L920.9 976.9L919.5 977L918.1 976.8L916.9 976.2L915.9 975.2L915 974.1L914.4 972.9L913.8 971.7L913.1 970.4L912.4 969.4L911.4 968.4L910.3 967.7L909.1 967.2L907.8 967L906.4 967.2L905.2 967.9L904 968.7L902.9 968.9L901.6 968.5L900.3 968.4L899.1 968.5L897.9 968.6L896.7 968.9L895.6 969.4L894.6 970.1L893.6 970.9L892.5 971.8L891.4 972.7L890.1 973.4L888.8 973.7L887.4 973.7L885.9 974.1L884.8 973.1L883.9 971.8L883.1 970.1L882.3 968.4L881.3 967.2L880.2 966.1L878.8 966.1L877.3 967.3L876 969L874.9 970.6L873.8 971.3L872.6 971.1L871.3 970.2L870 969.3L868.8 968.9L867.6 969.3L866.6 970.5L865.6 971.8L864.5 972.5L863.3 972.5L862 971.5L860.4 970.2L858.6 969.2L856.8 969.3L855.6 970.5L855.3 972.4L856.3 974.3L857.2 975.3L857.2 976L856.8 977.3L856.8 979.3L857.6 981L859 981.8L860.6 981.2L862.2 979.6L863.7 977.7L865 976.2L866.2 975.9L867.2 976.8L868.3 978.7L869.4 979.9L870.5 981.2L871.6 981.9L872.6 982.6L873.7 983L874.8 983L875.9 982.8L877.2 982.4L878.6 982.2L880.1 982.1L881.5 982.3L882.8 982.8L883.8 983.6L884.5 984.7L885 985.8L885.4 987.2L885.8 988.5L886.2 989.8L886.9 990.9L887.8 991.8L889 992.4L890.2 992.7L891.6 992.8L892.9 992.8L894.1 992.8L895.2 993.4L896.3 993.7L897.4 994.4L898.5 995.2L899.5 996L900.6 996.5L901.8 996.6L903.1 996.2L904.5 995.7L906.1 995.1L907.7 994.8L909.2 995.2L910.3 996.1L910.9 997.5L911.1 999.1L911.1 1000.7L911.2 1002.2L911.6 1003.5L912.4 1004.4L913.5 1005.1L914.8 1005.5L916 1005.9L917.1 1006.5L918 1007.3L918.8 1008.3L919.5 1009.4L920.3 1010.4L921.4 1011.1L922.6 1011.4L924.1 1011.2L925.4 1010.6L926.6 1009.8L927.6 1009.1L928.2 1007.6L929.2 1008.3L930.8 1010L932.7 1011.6L934.4 1012.4L935.5 1012L936.1 1010.5L936.6 1008.5L937.6 1006.9L938.9 1006.5L940.2 1007.6L941 1009.7L941.3 1011.6L941.8 1012.6L943 1012.5L945 1011.5L947.2 1010.3L949 1009.7L950.1 1010.1L950.4 1011.6L950.6 1013.8L951.2 1015.6L952.4 1016.5L953.8 1015.8L955 1014L955.7 1012L956.4 1010.8L957.6 1011L959.2 1012.2L960.9 1014L962.3 1015.5L963.1 1015.9L964 1015.1L965.3 1013.7L967 1012.8L968.4 1012.8L969.1 1014.1L969.1 1016.2L968.9 1018.4L969.1 1020L970.2 1020.6L972.2 1020.1L974.3 1019.3L975.7 1019.4L977 1019.4L978.2 1019.4L979.2 1019.6L980.4 1019.5L981.2 1020.4L982 1021.8L983 1023.1L984.1 1024.1L985.2 1024.7L986.4 1024.7L987.7 1024.2L989 1023.7L990.3 1023.2L991.5 1023.1L992.7 1023.6L993.7 1024.5L994.5 1025.8L995.2 1027L995.9 1028L996.5 1029.1L997.8 1029.1L999.5 1028.6L1001.5 1028L1003.5 1027.6L1005.3 1027.7L1006.6 1028.6L1007.4 1030L1007.6 1031.7L1007.2 1033.5L1006.2 1035.2L1004.6 1036.5L1003.4 1037.6L1003.2 1038.6L1003.6 1039.8L1004.2 1041L1004.9 1042.3L1005.5 1043.7L1005.7 1045.1L1005.5 1046.4L1004.2 1047.2L1003.6 1048.2L1002.8 1049.2L1002.1 1050.2L1001.6 1051.3L1001.5 1052.5L1001.8 1053.7L1002.5 1054.7L1003.4 1055.5L1004.4 1056.3L1005.4 1057L1006.2 1057.9L1006.9 1058.9L1007.3 1060.2L1007.4 1061.5L1007.3 1062.8L1006.9 1064L1006.4 1065.1L1006.1 1066.1L1005.9 1067.2L1005.2 1068.3L1005.7 1069.4L1006.5 1070.7L1007.6 1072.1L1008.7 1073.5L1008.8 1074.8L1007.9 1075.8L1006.7 1076.5L1006 1076L1012 1080L1030 1084.5L1065 1088L1148 1092L1148 207.5Z" fill="#F49AC1" stroke="none" stroke-width="0" />
<path d="M751.6 207.5C751.4 212.5 749.5 228 750.3 237.7C751.1 247.3 753.6 255.8 756.6 265.4C759.6 275 765.3 286.3 768 295.5C770.7 304.7 771.3 313.1 773 320.7C774.7 328.2 775.9 334.5 778 340.8C780.1 347.1 781.7 353.4 785.5 358.4C789.3 363.4 793.9 367.9 800.6 371C807.3 374.1 818.4 376.4 825.8 377.3C833.2 378.2 839.3 377.4 845 376.5C850.7 375.6 856 374 860 372C864 370 866.4 368.1 869.3 364.3C872.2 360.5 876.1 351.6 877.5 349C870.2 331 909.2 324.6 916.5 342.6C916.7 327.2 944.9 330.3 944.8 345.7C953.6 330.5 977 349.7 968.2 365C990.3 363.9 990.8 398.4 968.6 399.5C982.4 421.4 935.4 443 921.6 421.1C923.2 438.9 886.6 435.8 885 418C883.8 416.8 881.2 412.4 878 411C874.8 409.6 870.3 409.4 866 409.5C861.7 409.6 856 409.8 852 411.5C848 413.2 844.3 415.8 842 420C839.7 424.2 838.7 431.2 838 437C837.3 442.8 837.6 449.5 838 455C838.4 460.5 839.8 463.8 840.5 470C841.2 476.2 840.8 486.2 842 492.5C843.2 498.8 844.5 503.8 848 507.5C851.5 511.2 857.5 514.5 863 515C868.5 515.5 876 513 881 510.5C886 508 891 501.8 893 500C890.6 478.2 933.9 473 936.3 494.8C936.9 468.2 978 476.4 977.4 503.1C1003.3 494.5 1013.9 530.1 988 538.7C1006.4 541.3 1002.8 566.1 984.4 563.5C987.8 575.5 962.6 575.7 959.3 563.7C957.4 581.6 922.1 586.7 924 568.9C921 587 887 572.1 890 554C887.5 552.8 880 548 875 546.5C870 545 864.2 544.5 860 545C855.8 545.5 852 547 849.5 549.5C847 552 846 555.8 845 560C844 564.2 843.8 570 843.5 575C843.2 580 843.5 583.8 843.5 590C843.5 596.2 843.1 605.7 843.5 612C843.9 618.3 843.2 623.2 846 628C848.8 632.8 854.4 639.3 860 641C865.6 642.7 874 640.5 879.5 638C885 635.5 890.8 628 893 626C892.4 609.4 925.4 601.4 925.9 618C924.4 600.7 947.1 604.3 948.6 621.7C952.6 606.6 977.3 612.8 973.3 627.9C1002.3 611.1 1017.1 640.3 988 657.1C1007.4 658.8 1006.3 685.2 986.9 683.5C988.7 696.7 961.2 698.3 959.3 685.2C958.6 702.8 927.2 709.2 928 691.5C924.7 709.8 889.7 695.3 893 677C890.8 676 885 671.9 879.5 671C874 670.1 865.8 670.7 860 671.7C854.2 672.7 848.5 674 845 677C841.5 680 840.2 685.3 839 690C837.8 694.7 838.2 700 838 705C837.8 710 838 714.5 838 720C838 725.5 836.5 732.8 838 738C839.5 743.2 842.5 748.5 847 751.5C851.5 754.5 860 756 865 756C870 756 873.5 754.2 877 751.5C880.5 748.8 884.5 741.5 886 739.5C886.3 723.2 920.2 724.4 919.9 740.7C921.6 721.7 949.3 727.2 947.6 746.2C962 728 985 750.7 970.6 768.9C990.9 769.3 987 799.1 966.7 798.7C970.3 809.8 949.9 821.7 946.3 810.7C946.5 824 922.2 825.6 922 812.3C924.2 833.3 884.3 823 882 802C879.2 800.3 870.8 793.9 865 792C859.2 790.1 851.5 789.5 847 790.5C842.5 791.5 840.2 794.2 838 798C835.8 801.8 834.8 808 833.5 813C832.2 818 831.4 823.5 830.5 828C829.6 832.5 828.1 836.3 828 840C827.9 843.7 827.5 846.7 830 850C832.5 853.3 836.7 857.5 843 860C849.3 862.5 860.2 865 868 865C875.8 865 886.3 860.8 890 860C891.9 840.6 932.4 842.9 930.5 862.3C929.8 842.4 962.1 848.5 962.8 868.3C971.5 858.2 995.1 871.7 986.4 881.8C1010.8 883.8 1012.7 934.2 988.4 932.3C992.1 948.2 960 959.1 956.3 943.2C964.7 968.6 926.6 976.7 918.2 951.3C914 966.6 884.2 953.2 888.4 937.9C877.6 950.6 849.2 930.8 860 918C859.5 916 858.7 909.2 857 906C855.3 902.8 853 900.1 850 898.5C847 896.9 842.8 895.9 839 896.5C835.2 897.1 830.2 898.9 827 902C823.8 905.1 821.2 908.7 820 915C818.8 921.3 819.7 930.3 820 940C820.3 949.7 822.1 964.7 822 973C821.9 981.3 821 984.5 819.5 990C818 995.5 816.1 998.7 813 1006C809.9 1013.3 803.4 1026.3 800.6 1034C797.8 1041.7 796.8 1049 796 1052L798 1051L880 1062L1006 1076L1006.7 1076.5L1007.9 1075.8L1008.8 1074.8L1008.7 1073.5L1007.6 1072.1L1006.5 1070.7L1005.7 1069.4L1005.2 1068.3L1005.9 1067.2L1006.1 1066.1L1006.4 1065.1L1006.9 1064L1007.3 1062.8L1007.4 1061.5L1007.3 1060.2L1006.9 1058.9L1006.2 1057.9L1005.4 1057L1004.4 1056.3L1003.4 1055.5L1002.5 1054.7L1001.8 1053.7L1001.5 1052.5L1001.6 1051.3L1002.1 1050.2L1002.8 1049.2L1003.6 1048.2L1004.2 1047.2L1005.5 1046.4L1005.7 1045.1L1005.5 1043.7L1004.9 1042.3L1004.2 1041L1003.6 1039.8L1003.2 1038.6L1003.4 1037.6L1004.6 1036.5L1006.2 1035.2L1007.2 1033.5L1007.6 1031.7L1007.4 1030L1006.6 1028.6L1005.3 1027.7L1003.5 1027.6L1001.5 1028L999.5 1028.6L997.8 1029.1L996.5 1029.1L995.9 1028L995.2 1027L994.5 1025.8L993.7 1024.5L992.7 1023.6L991.5 1023.1L990.3 1023.2L989 1023.7L987.7 1024.2L986.4 1024.7L985.2 1024.7L984.1 1024.1L983 1023.1L982 1021.8L981.2 1020.4L980.4 1019.5L979.2 1019.6L978.2 1019.4L977 1019.4L975.7 1019.4L974.3 1019.3L972.2 1020.1L970.2 1020.6L969.1 1020L968.9 1018.4L969.1 1016.2L969.1 1014.1L968.4 1012.8L967 1012.8L965.3 1013.7L964 1015.1L963.1 1015.9L962.3 1015.5L960.9 1014L959.2 1012.2L957.6 1011L956.4 1010.8L955.7 1012L955 1014L953.8 1015.8L952.4 1016.5L951.2 1015.6L950.6 1013.8L950.4 1011.6L950.1 1010.1L949 1009.7L947.2 1010.3L945 1011.5L943 1012.5L941.8 1012.6L941.3 1011.6L941 1009.7L940.2 1007.6L938.9 1006.5L937.6 1006.9L936.6 1008.5L936.1 1010.5L935.5 1012L934.4 1012.4L932.7 1011.6L930.8 1010L929.2 1008.3L928.2 1007.6L927.6 1009.1L926.6 1009.8L925.4 1010.6L924.1 1011.2L922.6 1011.4L921.4 1011.1L920.3 1010.4L919.5 1009.4L918.8 1008.3L918 1007.3L917.1 1006.5L916 1005.9L914.8 1005.5L913.5 1005.1L912.4 1004.4L911.6 1003.5L911.2 1002.2L911.1 1000.7L911.1 999.1L910.9 997.5L910.3 996.1L909.2 995.2L907.7 994.8L906.1 995.1L904.5 995.7L903.1 996.2L901.8 996.6L900.6 996.5L899.5 996L898.5 995.2L897.4 994.4L896.3 993.7L895.2 993.4L894.1 992.8L892.9 992.8L891.6 992.8L890.2 992.7L889 992.4L887.8 991.8L886.9 990.9L886.2 989.8L885.8 988.5L885.4 987.2L885 985.8L884.5 984.7L883.8 983.6L882.8 982.8L881.5 982.3L880.1 982.1L878.6 982.2L877.2 982.4L875.9 982.8L874.8 983L873.7 983L872.6 982.6L871.6 981.9L870.5 981.2L869.4 979.9L868.3 978.7L867.2 976.8L866.2 975.9L865 976.2L863.7 977.7L862.2 979.6L860.6 981.2L859 981.8L857.6 981L856.8 979.3L856.8 977.3L857.2 976L857.2 975.3L856.3 974.3L855.3 972.4L855.6 970.5L856.8 969.3L858.6 969.2L860.4 970.2L862 971.5L863.3 972.5L864.5 972.5L865.6 971.8L866.6 970.5L867.6 969.3L868.8 968.9L870 969.3L871.3 970.2L872.6 971.1L873.8 971.3L874.9 970.6L876 969L877.3 967.3L878.8 966.1L880.2 966.1L881.3 967.2L882.3 968.4L883.1 970.1L883.9 971.8L884.8 973.1L885.9 974.1L887.4 973.7L888.8 973.7L890.1 973.4L891.4 972.7L892.5 971.8L893.6 970.9L894.6 970.1L895.6 969.4L896.7 968.9L897.9 968.6L899.1 968.5L900.3 968.4L901.6 968.5L902.9 968.9L904 968.7L905.2 967.9L906.4 967.2L907.8 967L909.1 967.2L910.3 967.7L911.4 968.4L912.4 969.4L913.1 970.4L913.8 971.7L914.4 972.9L915 974.1L915.9 975.2L916.9 976.2L918.1 976.8L919.5 977L920.9 976.9L922.3 976.4L923.7 975.6L924.9 974.8L926.1 974.1L927.3 973.5L928.5 973.1L929.8 971.7L931.1 972.4L932.3 973.5L933.4 975L934.3 976.5L935.1 978L935.9 979.1L936.9 979.9L938 980.2L939.3 980.1L940.7 979.8L942.2 979.3L943.6 978.8L944.8 978.5L945.9 978.3L946.9 978.5L948 978.8L949.2 979.2L950.6 979.5L952 979.6L953.2 979.6L954.1 979.3L954.9 978.8L955.7 978.2L956.9 977.5L958.5 977.2L960.2 977.2L961.9 977.6L962.9 978.5L963.5 979.6L963.5 981.2L963.2 982.8L962.8 984.8L962.9 986.8L963.7 988.5L965.1 989.4L966.8 989.3L968.5 988.4L969.7 987L970.7 985.7L971.6 984.7L972.7 984.3L973.9 984.4L975.4 984.9L976.9 985.6L978.3 986.3L979.6 986.5L980.6 986.2L981.5 985.3L982.4 984L983.5 982.7L984.7 981.4L986 980.3L987.3 979.6L988.6 979.4L989.8 979.7L990.9 980.4L992 981.5L993.1 982.8L994.3 984.7L995.5 985.5L996.9 985.8L998.2 985.4L999.4 984.5L1000.3 983.2L1000.5 981.3L1000.7 980.2L1001.8 979.8L1003.8 979.7L1005.6 979.2L1007.2 978.6L1007.3 977.4L1007.5 976.5L1007.5 975.3L1007.4 973.9L1007.6 972.4L1008.2 971L1009.1 969.9L1010.2 969.2L1011.4 968.9L1012.5 968.8L1013.7 968.8L1014.9 968.7L1016.1 968.3L1017.1 967.6L1017.8 966.5L1018.1 965.3L1018.1 964.1L1017.5 962.8L1016.4 961.6L1015.8 960.4L1016 959.2L1017 958L1018.6 956.9L1020.1 955.8L1021 954.6L1021 953.2L1020 951.9L1018.6 950.8L1017.4 949.9L1016.8 949L1016.6 947.7L1016.8 946.2L1016.9 944.7L1016.6 943.7L1015.6 943.1L1014.3 942.4L1012.7 941.7L1011.3 940.7L1010.3 939.5L1010.1 938.2L1010.4 936.9L1011.2 935.7L1012.2 934.4L1012.9 933.2L1013.2 932L1012.6 930.8L1012.2 929.6L1011.7 928.3L1010.2 927L1010.5 925.7L1012.2 924.7L1014.5 923.9L1016.2 923.1L1017.3 922.4L1017.5 921.5L1016.9 920.3L1016 918.6L1015.3 916.7L1015.2 915L1015.7 913.7L1017 913.1L1018.6 913.1L1020.3 913.2L1021.9 913.1L1023 912.5L1023.6 911.2L1023.4 909.5L1022.7 907.7L1021.9 906.4L1021.3 905.6L1021.5 905.1L1022.5 904.3L1023.9 903L1025.3 901.3L1026.1 899.5L1026.2 898.1L1025.3 897.1L1023.8 896.5L1022 896.1L1020.3 895.6L1019.1 894.8L1018.6 893.7L1018.8 892.3L1019.4 890.7L1019.3 889.5L1018.7 888.4L1017.5 887.6L1016.1 886.7L1015 885.6L1013.3 884.3L1013.8 882.6L1015.7 881.4L1017.7 880.7L1019.8 880.3L1021.4 879.9L1022.5 878.9L1022.9 877.4L1022.4 875.4L1021.1 873.9L1019.4 873.2L1017.9 873.1L1017 873L1016.4 872.2L1015.7 870.9L1014.9 869.4L1014 868.2L1013 867.6L1011.7 867.7L1010.2 868.5L1008.5 869.4L1007 869.5L1005.6 869.1L1004.5 868.3L1003.7 867.2L1003.3 865.9L1003.1 864.3L1002.8 862.7L1002.7 860.4L1001.9 858.7L1000.5 857.7L998.8 857.6L997.2 858.4L995.8 859.9L994.5 861.7L993.2 863.8L991.7 865L990.2 864.6L989 862.7L988.7 860.3L989 858.4L989.3 857.2L988.6 856.7L987.1 856.2L985.4 855.4L984.4 854.4L984.4 853.2L985.4 851.7L986.6 849.8L987 847.6L985.9 845.9L983.8 845.8L981.7 847.3L980.3 849.4L979.5 851L978.6 851.4L977.5 851.2L976.1 850.4L974.7 849.4L973.2 848.4L971.9 847.8L970.7 847.7L969.6 848.1L968.6 849L967.4 850.1L966.2 851L964.8 851.4L963.5 851.3L962.4 850.5L961.5 849.2L960.7 847.6L960.1 846L959.3 844.7L958.2 844.3L956.9 844.2L955.3 844.9L953.7 846L952.1 847.2L950.8 848.2L949.6 848.6L948.6 848.4L947.6 847.5L946.6 846.1L945.4 844.6L944.2 843.4L943 842.7L941.7 842.6L940.6 843.2L939.4 844.2L938.3 845.3L937.1 846.1L935.8 846.4L934.6 846L933.4 845.1L932.4 843.8L931.4 842.6L930.4 841.7L929.1 842.1L927.9 842.3L926.6 842.7L925.2 843.3L923.9 844L922.5 844.6L921.2 845.1L919.9 845.3L918.8 845.1L917.7 844.5L916.7 843.6L915.7 842.5L914.6 841.3L913.6 840.3L912.4 839.5L911.3 839L910.1 838.9L908.8 839.1L907.6 839.5L906.3 840.1L905 840.8L903.8 841.7L902.6 841.7L901.4 841.2L900.3 840.4L899.1 840.4L897.9 840.1L896.7 839.8L895.5 839.5L894.3 839.2L893.1 839L891.9 839L890.7 839.1L889.5 839.3L888.3 839.7L887.1 840.1L885.9 840.5L884.6 840.8L883.3 840.8L882.1 840.6L880.9 840.1L879.7 839.4L878.8 838.6L878 837.6L877.5 836.5L877.2 835.4L876.9 834.4L877 833.3L877.3 832.3L877.9 831.4L878.8 830.7L879.8 830.1L880.9 829.6L882.1 829.3L883.3 829.2L884.5 829.2L885.7 829.3L886.8 829.4L888 829.6L889 830.6L890.2 830.5L891.6 829.9L893.1 829L894.4 828.4L895.6 828.5L896.6 828.8L897.6 829.5L898.6 830.4L899.7 831.3L901 832.1L902.5 832.6L903.9 832.8L905.3 832.6L906.6 832.2L907.6 831.4L908.4 830.5L909.2 829.5L909.9 828.4L910.8 827.3L911.8 826.3L913.1 825.7L914.5 825.6L915.8 825.9L917 826.6L918 827.5L918.9 828.5L919.7 829.5L920.4 830.6L921.4 831.4L922.6 832L923.8 832.1L925.1 831.8L926.3 831.1L927.2 830.3L928.1 829.5L929 828.7L930 828.2L931.1 827.8L932.5 827.8L933.8 827.9L935.3 828.2L936.7 828.6L938 829L939.1 829.3L940.2 829.5L941.3 829.4L942.3 828.8L943.4 827.9L944.5 826.7L945.6 825.4L946.5 824.2L947.3 823.1L948 822.4L948.7 822.1L949.6 821.9L950.8 821.9L952.2 821.8L953.8 821.6L955.4 821.4L956.7 821.1L957.7 820.8L958.4 820.4L958.9 820L959.3 818.7L960.1 817.9L961.2 817.1L962.5 816.3L964 814.4L965.2 814.6L966.4 814.7L967.4 815.2L968.4 816.5L969.5 818.4L970.7 818.2L972 818.3L973.2 818.1L974.3 817.7L975.4 817L976.4 816.2L977.3 814.9L978.4 814.1L979.6 813.8L980.9 814.1L982.3 814.9L983.7 815.9L985.1 816.9L986.4 817.5L987.6 817.6L988.7 817.1L989.8 816.1L990.8 814.7L991.8 813.4L992.8 812L993.9 811.1L995.1 810.5L996.3 810.2L997.6 810.4L998.8 811L1000.1 811.9L1001.4 813L1002.7 814L1004.1 814.8L1005.4 815.1L1006.7 815L1007.9 814.4L1008.9 813.3L1009.8 812L1010.7 810.5L1011.5 809L1012.4 807.8L1013.3 807L1014.4 806.6L1015.6 806.7L1017 807.1L1018.4 807.6L1020 808L1021.5 808L1022.6 807.3L1023.6 806.3L1023.9 804.9L1023.6 803.4L1022.9 802.3L1022.2 801.4L1021.9 800.5L1021.6 799.5L1021.3 798.2L1020.9 796.8L1020.5 795.4L1020.1 794.2L1019.5 793.3L1018.6 792.8L1017.2 792.6L1015.5 792.4L1013.7 792.1L1012.4 791.2L1011.3 790.2L1010.6 788.8L1010.3 787.4L1010.5 785.9L1011.2 784.5L1012.1 783.3L1013.2 782.2L1014.3 781.3L1015.3 780.2L1016.1 779.2L1016.6 778L1016.8 776.7L1016.7 775.4L1016.4 774L1015.8 772.8L1015 771.6L1014.1 770.7L1013.2 769.8L1012.5 768.8L1011.9 767.8L1011.4 766.7L1010.9 765.6L1010.6 764.4L1010.3 763.2L1010.8 761.9L1010.8 760.9L1010.3 759.7L1010.4 758.5L1010.7 757.2L1011.2 756L1012 755L1013.1 754.3L1014.2 753.7L1015.6 753.4L1017.1 753.2L1018.6 753L1020 752.4L1021.1 751.3L1021.6 749.7L1021.3 747.9L1020 746.6L1018.3 746.3L1016.9 746.6L1015.9 746.7L1015.1 746.4L1014.3 745.6L1013.5 744.4L1012.6 743L1011.6 741.8L1010.4 741L1009.2 740.7L1007.9 740.9L1006.7 741.4L1005.5 742L1004.3 742.5L1003.1 743L1001.8 743.2L1000.6 743L999.5 742.6L998.4 742L997.4 741.4L996.4 740.8L995.3 740.4L994.2 739.9L992.9 739.5L991.6 738.9L990.5 738.2L989.7 737.2L988.7 736.7L988.5 735.5L988.4 734.1L988.2 732.5L987.6 730.8L986.6 729.3L985.2 728.3L983.7 727.6L982.2 728L980.9 729.1L979.8 730.6L978.9 732.2L977.9 733.6L976.8 734.4L975.6 734.5L974.3 734.2L973 733.4L971.7 732.6L970.6 731.9L969.5 731.7L968.3 731.7L967 732.5L965.5 733.4L964.1 734.1L962.7 734.3L961.5 733.8L960.6 732.7L959.9 731L959.3 729L958.7 727.2L957.9 725.8L956.8 725.1L955.5 725.2L954 725.9L952.4 727L950.8 728L949.3 728.5L948 728.5L947 727.7L946.2 726.5L945.5 725L944.7 723.7L943.6 722.8L942.4 722.6L941 723L939.6 723.8L938.2 724.9L937 725.7L936 726L934.9 725.7L933.8 724.6L932.5 723.2L931.1 721.7L929.6 720.5L928.2 720L927.1 720.3L926.1 721.5L925.2 723.3L924.3 725.3L923.3 726.9L922 728L920.7 728.3L919.4 727.7L918.1 726.6L917 725.1L916 723.8L914.9 723L913.8 722.8L912.5 723.2L911.1 724L909.7 725L908.3 725.6L907.1 725.7L906 725L905.1 723.7L904.2 721.8L903.3 719.9L902.2 718.5L901 718L899.6 718.4L898.3 719.6L897 721.4L895.8 723.3L894.6 724.8L893.5 725.6L892.3 725.4L891.1 724.3L889.8 722.6L888.6 720.7L887.5 719.1L886.5 718.1L885.5 718L884.4 718.6L883 719.8L881.3 721.1L879.5 722.1L877.5 722.2L875.8 721.3L875 719.3L875.7 717.2L877.3 715.9L879 715.6L880.2 715.7L881 715.5L881.7 714.8L882.6 713.6L883.5 712.3L884.5 711.1L885.6 710.4L886.8 710.4L888.1 711L889.6 712.1L891.1 713.2L892.5 714.2L893.8 714.6L894.9 714.3L895.9 713.2L896.8 711.6L897.6 709.6L898.6 707.7L899.6 706.4L900.8 705.7L902.1 705.8L903.4 706.6L904.8 707.9L906.1 709.3L907.3 710.4L908.4 710.9L909.6 709.7L910.8 709.6L912 709.3L913.3 709L914.5 708.8L915.7 708.9L916.9 708.6L918 709.9L919.1 711.6L920.2 712.8L921.5 713.4L922.8 712.9L924 711.4L925.2 709.6L926.3 707.9L927.4 706.9L928.6 706.8L929.8 707.7L931.1 708.9L932.4 710.1L933.7 710.6L934.9 710.2L936 709.2L937 707.9L938.1 706.8L939.3 706.4L940.6 706.9L941.9 708.2L943.2 709.3L944.5 710.4L945.7 711.3L946.9 711.8L948 711.7L949.1 711.1L950.3 710.1L951.5 708.9L952.8 707.5L954.1 706.4L955.5 705.6L956.9 705.3L958.1 705.5L959.2 706.4L960.1 707.7L961 709.4L962 711.1L963.2 712.5L964.6 713.4L966.2 713.5L967.8 712.9L968.7 710.9L969.3 709.4L969.7 707.8L970 706.4L970.5 705.4L971.4 704.5L972.5 703.9L973.8 703.4L975 703L976 702.6L977.1 702.1L978.2 701.5L979.4 701.2L980.6 700.9L981.9 701.2L983 701.9L984.1 702.9L985.2 704L986.3 704.8L987.4 705.2L988.7 705L990 704.4L991.3 703.5L992.6 702.6L993.9 701.9L995.1 701.8L996.3 701.6L997.4 702.7L998.5 703.8L999.7 704.7L1000.9 704.4L1002.2 704.4L1003.4 704.2L1004.6 703.7L1005.6 703L1006.5 702.1L1007.3 701.1L1008 700.1L1008.6 699.1L1009.4 698.2L1010.3 697.4L1011.2 696.6L1012.2 695.9L1013.1 695.1L1014 694.2L1014.7 693.3L1015.3 692.3L1015.9 691.2L1016.3 690L1016.7 688.7L1017.2 687.5L1017.8 686.4L1018.5 685.4L1018.8 684L1020.2 683.8L1022.1 683.9L1024.3 684.1L1026.4 683.8L1027.4 682.5L1028.1 680.9L1027.9 679L1026.7 677.5L1024.9 676.5L1023.1 676L1021.5 675.6L1020.3 674.8L1019.7 673.7L1019.7 672.3L1020.1 670.7L1020.6 669.3L1021.1 667.9L1021.4 666.6L1021.4 665.5L1021.1 664.5L1020.6 663.4L1020.2 662.1L1020.2 660.8L1020.5 659.5L1021.3 658.5L1022.3 657.8L1023.6 657.1L1025 656.4L1026.3 655.4L1027.1 654L1027.2 652.4L1026.3 651L1024.8 650.1L1023 649.6L1021.3 649.3L1019.8 648.9L1018.5 648L1017.8 646.6L1017.8 644.8L1018.4 643.1L1020.4 642L1022.4 641.8L1024 641.7L1024.5 640.9L1025.3 640.1L1026 639L1026.4 637.7L1026.5 636.1L1026.4 634.6L1025.9 633.3L1025.2 632.3L1024.5 631.6L1024.6 630.6L1024.5 629.4L1024.4 628.1L1024 626.8L1023.2 626L1021.9 625.5L1020.4 625.2L1019 624.9L1018 624.1L1017.5 622.9L1017.4 621.5L1017.7 619.6L1017.9 617.8L1017.8 616.2L1017.4 614.9L1015.7 614.8L1013.6 615.1L1011.8 615.4L1010.6 615.1L1009.8 614.2L1009.5 612.5L1009.1 610.7L1008.1 609.5L1006.7 609.5L1005.1 610.5L1003.7 612.2L1002.4 613.7L1001.3 614.4L1000.2 613.8L999.1 612.1L997.9 610.1L996.8 608.3L995.7 607.4L994.5 607.7L993.3 608.8L991.9 610.2L990.5 611L989.2 610.8L988.3 609.6L987.6 607.8L986.9 606.1L986 605.2L984.7 605.3L983 606.4L981.2 608L979.6 609.3L978.3 609.7L977.4 609L976.6 607.3L975.8 605.3L974.9 603.6L973.8 602.8L972.5 603.1L971.1 604.2L969.8 605.4L968.5 606.1L967.4 605.7L966.3 604.3L965.2 602.4L964.2 600.7L963 600L961.7 600.4L960.4 602L959.1 604L957.8 605.7L956.6 606.5L955.4 606.1L954.3 604.8L953.2 603.2L952 601.9L950.8 601.6L949.6 602.4L948.3 603.7L947.1 603.9L945.9 603.9L944.7 603.7L943.5 603.3L942.4 602.7L941.2 602.2L940.1 600.3L938.9 599.8L937.7 599.3L936.5 599.2L935.3 599.4L934.1 600L932.8 600.8L931.6 601.8L930.4 602.8L929.1 603.8L927.9 604.5L926.7 604.9L925.5 604.5L924.4 604.1L923.2 603.3L922 602.3L920.8 600.7L919.6 599.6L918.4 599.3L917.2 599.7L916 600.7L914.8 601.9L913.6 602.8L912.4 603.1L911.2 602.6L910 601.6L908.8 600.3L907.6 599.2L906.4 598.9L905.2 599.4L904 600.6L902.8 602.3L901.5 604L900.2 605.1L898.9 605.3L897.7 604.6L896.6 603.1L895.6 601.2L894.7 599.4L893.8 598.2L892.7 597.7L891.5 598L890 598.9L888.6 599.8L887.2 600.4L885.9 600.5L884.8 599.9L883.9 598.8L883 597.5L882.1 596.5L881.2 596L880 596.1L878.3 596.4L876.2 596L875.2 594.4L875.1 592.2L876.1 590.4L877.7 589.4L879.4 589.2L881.1 589.5L882.6 590.2L884.1 591L885.6 591.9L887 592.4L888.3 592.4L889.4 592L890.4 591L891.2 589.6L892 588L892.7 586.4L893.6 584.9L894.5 583.7L895.6 583L896.9 582.9L898.2 583.3L899.7 584.1L901.1 585.1L902.6 586.2L903.9 587.2L905.2 587.9L906.4 588.1L907.5 587.8L908.6 587.2L909.7 586.2L910.8 585L911.9 583.7L913 582.6L914.1 581.8L915.4 582.1L916.6 582.3L917.8 582.9L919.1 583.6L920.3 583.9L921.5 583.7L922.6 583L923.7 582L924.8 580.5L925.9 579.5L927 579.3L928.3 580L929.7 581.4L931.1 583L932.4 583.8L933.7 584.5L935 584.8L936.2 584.7L937.3 584.1L938.4 583.1L939.4 582L940.5 580.8L941.6 579.6L942.7 578.7L943.8 578.2L945 578L946.3 578.3L947.6 578.8L948.8 579.5L950.1 580.2L951.3 580.8L952.5 581.2L953.7 581.2L954.9 581L956.1 580.5L957.3 580L958.5 579.5L959.7 579.2L960.9 579.1L962.1 579.3L963.3 579.7L964.5 580.2L965.6 580.8L966.8 581.2L968 581.3L969.3 581.1L970.5 580.6L971.7 579.9L972.8 579.1L974 578.4L975.2 577.9L976.4 577.8L977.6 578L978.8 578.7L980 579.6L981.3 580.6L982.6 581.5L983.9 582.1L985.1 582.2L986.3 581.8L987.4 580.9L988.5 579.6L989.5 578.2L990.6 576.9L991.7 575.9L992.8 575.4L994 575.4L995.2 575.8L996.5 576.6L997.9 577.4L999.2 578.1L1000.5 578.6L1001.8 578.6L1003 578.3L1004.1 577.6L1005.1 576.6L1006 575.7L1007 574.8L1008 574.2L1009.2 574L1010.5 573.9L1011.8 573.9L1013.1 573.8L1014.3 573.5L1015.5 573.1L1016.6 572.5L1017.3 571.2L1017.7 569.7L1017.8 568.1L1017.8 566.6L1018 565.5L1018.5 564.8L1019.5 564.2L1020.9 563.7L1022.6 563.2L1024.3 562.5L1025.7 561.7L1026.6 560.9L1027.3 560.3L1027.3 559.2L1027 557.9L1026.8 556.3L1026.8 554.6L1027 552.8L1027.4 551.3L1027.9 550.2L1028.6 549.6L1029.4 549.4L1030.5 549.4L1031.9 549.1L1033.7 548.2L1034.9 546.7L1035.2 545.1L1034.5 543.9L1033.1 543.1L1031.5 542.5L1030.1 541.7L1029.2 540.7L1029 539.5L1029.4 538.1L1029.9 536.7L1030.3 535.3L1030.1 534.2L1029.2 533.3L1027.8 532.3L1026.2 531L1025 529.5L1024.9 528L1026.7 526.9L1028 526L1029.5 525.3L1031.1 524.7L1032.5 524.1L1033.5 523.2L1034 522L1034 520.6L1033.7 519.1L1032.5 517.6L1031.7 516.5L1030.8 515.6L1030.2 514.7L1030 513.8L1030 512.6L1030.2 511.2L1030.4 509.8L1030.6 508.5L1031 507.4L1031.4 506.3L1031.8 505.3L1032 504.3L1032.1 503.1L1032.2 501.9L1032.1 500.6L1032.1 499.3L1032.1 498.1L1032.1 497L1032.2 496L1032.1 494.9L1031.9 493.9L1031.6 492.8L1031.1 491.7L1030.5 490.6L1029.7 489.7L1028.8 488.8L1027.8 488.1L1026.7 487.5L1025.6 487L1024.4 486.6L1023.3 486.3L1022.1 485.9L1021 485.5L1019.9 485L1018.9 484.4L1017.9 483.7L1016.9 483.1L1015.8 482.4L1014.8 481.7L1013.7 481.2L1012.6 480.7L1011.4 480.4L1010.4 479.6L1009.1 479.8L1007.7 480.2L1006.4 480.6L1005.1 481L1004 481.1L1002.8 481L1001.7 480.4L1000.6 479.6L999.5 478.6L998.4 477.6L997.3 476.6L996.2 476L995 475.8L993.9 476L992.6 476.6L991.2 477.4L989.8 478.4L988.3 479.2L986.9 479.7L985.6 479.8L984.4 479.4L983.5 478.2L982.8 476.4L982.2 474.3L981.5 472.4L980.7 471.1L979.6 470.7L978.2 471.1L976.6 472.1L974.9 473.4L973.2 474.5L971.7 474.9L970.5 474.4L969.8 473.1L968.8 472.2L968 471.1L967.3 469.8L966.5 468.5L965.6 467.5L964.6 466.6L963.5 466L962.3 465.7L961 465.6L959.6 465.9L958.3 466.4L957 466.9L955.8 467.2L954.5 468.3L953.4 467.3L952.2 466.8L951.1 466.2L949.8 465.8L948.6 465.5L947.4 465.6L946.2 466.1L945.1 466.9L943.9 467.8L942.7 468.7L941.5 469.2L940.3 469.2L939.1 468.6L937.9 467.6L936.7 466.4L935.5 465.2L934.4 464.3L933.3 463.8L932.1 463.8L930.9 464.3L929.6 465.2L928.3 466.3L926.9 467.4L925.6 468.2L924.3 468.5L923.1 468.3L921.9 468L920.9 466.6L920 464.9L919.1 463.3L918.1 461.9L917 461.2L915.8 461.1L914.5 461.5L913.1 462.4L911.7 463.4L910.4 464.3L909.1 464.9L907.9 465L906.8 464.7L905.7 463.6L904.6 462.4L903.4 461.6L902.2 461.5L901 462.5L899.7 463L898.5 463.5L897.3 463.8L896.1 463.8L894.9 463.5L893.7 462.8L892.6 461.9L891.4 460.9L890.2 460.1L889.1 459.5L887.9 459.5L886.7 459.9L885.5 460.7L884.2 461.8L882.9 462.9L881.6 463.7L880.3 464.1L879 464L877.8 463.4L876.7 462.3L875.8 461L874.9 459.7L874.2 458.7L873.5 457.9L873.5 456.7L872.7 456.5L871.6 456.1L870.4 455.4L869.7 454L869.7 452.5L870.5 451.2L871.8 450.4L873.3 450.2L874.7 450.5L876.1 451L877.4 451.5L878.7 451.8L879.9 451.8L881 451.5L882.1 450.8L883.2 449.8L884.2 448.7L885.2 447.6L886.3 446.6L887.4 446L888.6 445.9L889.9 446.2L891.2 446.9L892.6 447.8L894 448.9L895.4 449.8L896.7 450.5L898 450.7L899 449.8L900.2 449.1L901.2 448.1L902.2 446.8L903.1 445.4L904 444.1L905 442.9L906 442.1L907.2 441.7L908.4 441.7L909.7 442L911.1 442.7L912.5 443.5L913.9 444.4L915.3 445.2L916.7 445.8L917.9 446L919.1 445.9L920.1 445.4L921.2 444.5L922.2 443.3L923.2 441.9L924.3 440.5L925.4 439.3L926.6 438.5L927.8 438.2L929.1 438.5L930.4 439.2L931.6 440.4L932.8 441.7L933.9 443L935.1 443.5L936.3 444L937.5 443.9L938.7 443.3L940 442.4L941.2 441.3L942.4 440.5L943.6 440.1L944.8 440.2L945.9 440.6L947.1 441.1L948.4 441.5L949.6 441.8L950.8 441.7L951.9 441.3L953.1 441.1L954.2 440.5L955.3 439.9L956.4 439.5L957.6 439.2L958.8 439.2L960 439.3L961.4 439.5L962.7 439.8L964.1 439.9L965.5 440L966.8 439.7L967.9 439.2L968.9 438.3L969.7 437.1L970.3 435.7L970.7 434.2L971 432.7L971.4 431.3L971.9 430L972.7 429L973.7 428.3L974.8 427.6L976.6 427.8L978.1 427.9L979.6 428.3L981 428.7L982.2 429.1L983.3 429.5L984.3 429.6L985.4 429.6L986.5 429.3L987.8 429L989 428.5L990.3 428L991.5 427.6L992.7 427.3L993.9 427.2L995.1 427.4L996.3 427.8L997.5 428.3L998.6 428.8L999.8 429.3L1001 429.6L1002.2 429.9L1003.5 429.7L1004.7 429.3L1005.9 428.7L1006.9 428L1007.9 427.1L1008.7 426.3L1009.5 425.5L1010.4 424.9L1011.5 424.4L1012.6 424.1L1013.9 423.8L1015.3 423.5L1016.6 423.2L1017.9 422.7L1019 422L1019.9 421.2L1020.6 420.1L1021.1 418.9L1021.3 417.5L1021 415.9L1021.1 414.6L1020.4 413L1019.9 411.7L1020.1 410.8L1021.3 410.1L1023.2 409.3L1025.3 408.3L1027 406.9L1027.1 405.5L1027.1 404L1026.4 402.8L1025.1 401.7L1023.6 400.9L1022 400.2L1020.5 399.5L1019.4 398.6L1018.8 397.7L1018.5 396.5L1018.6 395.2L1018.8 393.8L1018.9 392.4L1018.8 391.1L1018.3 389.9L1017.6 388.9L1016.5 388.2L1015.2 387.6L1013.8 387L1012.7 386.3L1012 385.3L1011.8 384L1012.1 382.4L1012.8 380.8L1013.5 379.3L1014.1 378.1L1014.3 377.2L1013.9 376.4L1013 375.6L1011.8 374.4L1010.8 372.9L1010.2 371.2L1010.2 369.5L1010.9 368.3L1012 367.5L1013.6 367.2L1015.2 367L1016.7 366.7L1017.6 366L1018.5 365.1L1019.1 364L1019.5 362.8L1019.4 361.3L1019.5 360.1L1020.1 359.2L1021.4 358.5L1023.2 357.8L1024.2 356.7L1024.9 355.5L1025.2 354.1L1024.9 352.7L1024.1 351.3L1023 350.2L1021.7 349.4L1020.3 348.9L1019.1 348.4L1018.2 347.8L1017.5 346.9L1017 345.8L1016.7 344.5L1016.6 343L1016.7 341.4L1016.8 340L1017 338.8L1017 337.7L1016.9 336.7L1016.6 335.7L1016 334.7L1015.2 333.6L1014.2 332.5L1013.2 331.5L1012.3 330.6L1011.4 329.9L1010.8 329.3L1010.2 328.7L1009.6 328.1L1008.9 327.3L1008.1 326.5L1007.1 325.7L1006.1 325L1004.9 324.4L1003.8 324L1002.6 323.9L1001.3 324L1000.1 324.1L998.9 324.3L997.7 324.5L996.5 324.6L995.3 324.5L994.1 324.3L992.9 323.9L991.7 323.5L990.5 322.9L989.4 321.5L988.3 320.9L987.2 321.3L985.9 322.6L984.4 324.4L982.7 325.6L980.9 326.1L979.3 325.8L978.2 324.7L977.6 323L977.7 321L978 319L978.2 317.2L978.1 315.7L977.5 314.6L976.3 313.9L974.7 313.6L972.9 313.7L971.4 314L970.3 314.1L969.3 314L968.2 313.5L966.8 312.9L965.2 312.5L963.8 312.7L962.7 313.4L962.1 314.8L961.8 316.6L961.6 318.5L961.2 320.2L960.4 321.5L959.1 322L957.4 321.6L955.6 320.3L954.1 319.1L952.9 318.6L951.8 319.7L950.7 320.3L949.4 321.3L948.2 321.6L947 321L945.9 319.5L944.8 317.8L943.5 316.7L942.2 316.7L940.9 317.7L939.8 319.4L938.9 321L937.9 321.9L936.8 321.9L935.4 321.5L934.1 321.4L932.8 321.6L931.8 322.3L931 323.5L930.2 324.9L929.1 325.9L927.9 326.3L926.5 325.9L925 324.8L923.7 323.4L922.6 322.5L921.5 322.2L920.3 322.7L919.1 323.5L917.8 324.3L916.6 324.6L915.4 324.5L914.2 324L913.1 323.2L912.1 322.5L911 322L909.8 321.8L908.5 322.1L907.2 322.6L905.7 323.1L904.2 323.9L902.8 324.2L901.6 324L900.6 323.3L899.7 322.4L899 320.9L898.1 319.2L897.1 317.7L895.9 316.4L894.4 315.6L893 315.4L891.6 315.9L890.4 316.9L889.4 318.3L888.6 319.8L887.8 321.3L886.9 322.6L886 323.5L884.9 324L883.6 324.1L882.2 323.8L880.8 323.4L879.5 322.9L878.1 322.5L876.9 322.4L875.7 322.7L874.6 323.4L873.6 324.3L872.6 325.2L871.6 326.2L870.5 326.9L869.3 327.2L868 327.1L866.7 326.3L865.4 324.8L864.5 323.4L863.7 322.5L862.7 322.7L861.4 323.6L859.5 324.9L857.2 325.7L854.9 325.1L853.7 323.3L854.4 321L856.4 319.7L858.5 319.5L860 319.6L860.9 319.2L861.5 318L862 316.5L862.7 315.1L863.7 314.4L865 314.5L866.7 315.2L868.6 316L870.1 316.5L871.3 316L871.8 314.5L872 312.4L872.2 310.1L872.6 308.2L873.5 307.2L874.9 307.2L876.6 307.9L878.3 308.9L879.8 309.4L881 309.2L881.9 308.2L882.7 306.7L883.6 305.3L884.7 304.6L886 304.8L887.4 305.9L889 307.4L890.7 308.7L892.2 309L893.4 308.1L894.1 306.2L894.3 304L894.2 301.9L894.4 300.6L895.1 299.9L896.5 299.7L898.3 299.6L899.8 299.2L900.8 298.3L901 297L900.6 295.4L900.1 293.6L900.1 292.1L901 291.1L902.6 290.8L904.8 291.1L906.8 291.6L908.3 292L909.1 291.5L909.4 290.2L909.6 288.1L910 285.9L910.9 284.3L912.2 283.7L913.6 284.2L915 285.4L916.3 286.6L917.4 287.3L918.5 287.1L919.9 286.3L921.4 285.2L922.9 284.4L924.2 284.5L925.2 285.6L925.8 287.5L926.3 289.8L927 291.8L928 292.9L929.5 292.4L931 291.9L932.4 290.9L933.7 289.7L935 288.6L936.1 287.9L937.3 287.8L938.4 288.2L939.6 288.9L940.9 289.8L942.2 290.6L943.5 291.3L945 291.6L946.5 291.5L947.9 290.9L949.2 289.8L949.8 288.3L949.7 286.6L949.1 285.1L948.4 283.5L948.1 281.9L948.4 280.2L949.6 278.9L951.2 278.3L953 278.4L954.5 279L955.9 279.8L957.1 280.7L958.3 281.4L959.5 281.9L960.7 281.9L961.9 281.6L963.1 281L964.3 280.3L965.5 279.6L966.6 279L967.8 278.6L969 278.4L970.1 278.5L971.4 278.7L972.6 279.1L973.9 279.6L975.2 279.9L976.5 280L977.5 278.8L978.6 278.3L979.7 277.6L980.7 276.7L981.7 275.8L982.8 274.9L984 274.3L985.3 274L986.6 274.1L987.9 274.7L989.1 275.5L990.3 276.5L991.5 277.4L992.7 278.1L994 278.5L995.3 278.6L996.7 278.2L998 277.5L999.1 276.5L999.8 275.3L1000.3 274.1L1000.4 273L1000.5 271.9L1000.7 270.8L1000.9 269.7L1001.2 268.5L1001.5 267.3L1001.7 266.1L1001.8 264.9L1001.9 263.7L1002.2 262.4L1002.7 261.2L1003.6 260.3L1004.6 259.5L1005.8 259.1L1007.1 258.8L1008.4 258.7L1009.7 258.6L1011 258.6L1012.3 258.5L1013.5 258.1L1014.5 257.4L1015.5 256.5L1016.3 255.3L1016.7 254L1016.8 252.9L1016.4 252.3L1015.5 252.1L1014.7 252.2L1014.1 251.8L1013.3 251L1012.6 249.9L1012 248.4L1011.9 247L1012.1 245.7L1012.4 244.7L1012.7 243.8L1012.7 242.9L1012.7 241.8L1011.7 240.4L1010.7 238.9L1009.8 237.3L1010.2 236.1L1010.2 234.9L1010.6 233.7L1011.5 232.8L1012.7 231.9L1014.2 231.1L1015.7 230.3L1017 229.4L1018 228.2L1018.6 226.6L1018.4 224.9L1017.4 223.3L1015.8 222.4L1013.9 222.6L1012.2 223.3L1010.7 224L1009.1 224.2L1007.4 223.7L1006.2 222.3L1006 220.4L1007 218.4L1008.4 217L1009.5 215.8L1010.2 214.7L1010.3 213.6L1009.7 212.4L1008.6 211.2L1007.7 209.9L1007.6 208.7L1008 207.5Z" fill="#C97BA1" stroke="none" stroke-width="0" />
<path d="M1008 207.5L1007.6 208.7L1007.7 209.9L1008.6 211.2L1009.7 212.4L1010.3 213.6L1010.2 214.7L1009.5 215.8L1008.4 217L1007 218.4L1006 220.4L1006.2 222.3L1007.4 223.7L1009.1 224.2L1010.7 224L1012.2 223.3L1013.9 222.6L1015.8 222.4L1017.4 223.3L1018.4 224.9L1018.6 226.6L1018 228.2L1017 229.4L1015.7 230.3L1014.2 231.1L1012.7 231.9L1011.5 232.8L1010.6 233.7L1010.2 234.9L1010.2 236.1L1009.8 237.3L1010.7 238.9L1011.7 240.4L1012.7 241.8L1012.7 242.9L1012.7 243.8L1012.4 244.7L1012.1 245.7L1011.9 247L1012 248.4L1012.6 249.9L1013.3 251L1014.1 251.8L1014.7 252.2L1015.5 252.1L1016.4 252.3L1016.8 252.9L1016.7 254L1016.3 255.3L1015.5 256.5L1014.5 257.4L1013.5 258.1L1012.3 258.5L1011 258.6L1009.7 258.6L1008.4 258.7L1007.1 258.8L1005.8 259.1L1004.6 259.5L1003.6 260.3L1002.7 261.2L1002.2 262.4L1001.9 263.7L1001.8 264.9L1001.7 266.1L1001.5 267.3L1001.2 268.5L1000.9 269.7L1000.7 270.8L1000.5 271.9L1000.4 273L1000.3 274.1L999.8 275.3L999.1 276.5L998 277.5L996.7 278.2L995.3 278.6L994 278.5L992.7 278.1L991.5 277.4L990.3 276.5L989.1 275.5L987.9 274.7L986.6 274.1L985.3 274L984 274.3L982.8 274.9L981.7 275.8L980.7 276.7L979.7 277.6L978.6 278.3L977.5 278.8L976.5 280L975.2 279.9L973.9 279.6L972.6 279.1L971.4 278.7L970.1 278.5L969 278.4L967.8 278.6L966.6 279L965.5 279.6L964.3 280.3L963.1 281L961.9 281.6L960.7 281.9L959.5 281.9L958.3 281.4L957.1 280.7L955.9 279.8L954.5 279L953 278.4L951.2 278.3L949.6 278.9L948.4 280.2L948.1 281.9L948.4 283.5L949.1 285.1L949.7 286.6L949.8 288.3L949.2 289.8L947.9 290.9L946.5 291.5L945 291.6L943.5 291.3L942.2 290.6L940.9 289.8L939.6 288.9L938.4 288.2L937.3 287.8L936.1 287.9L935 288.6L933.7 289.7L932.4 290.9L931 291.9L929.5 292.4L928 292.9L927 291.8L926.3 289.8L925.8 287.5L925.2 285.6L924.2 284.5L922.9 284.4L921.4 285.2L919.9 286.3L918.5 287.1L917.4 287.3L916.3 286.6L915 285.4L913.6 284.2L912.2 283.7L910.9 284.3L910 285.9L909.6 288.1L909.4 290.2L909.1 291.5L908.3 292L906.8 291.6L904.8 291.1L902.6 290.8L901 291.1L900.1 292.1L900.1 293.6L900.6 295.4L901 297L900.8 298.3L899.8 299.2L898.3 299.6L896.5 299.7L895.1 299.9L894.4 300.6L894.2 301.9L894.3 304L894.1 306.2L893.4 308.1L892.2 309L890.7 308.7L889 307.4L887.4 305.9L886 304.8L884.7 304.6L883.6 305.3L882.7 306.7L881.9 308.2L881 309.2L879.8 309.4L878.3 308.9L876.6 307.9L874.9 307.2L873.5 307.2L872.6 308.2L872.2 310.1L872 312.4L871.8 314.5L871.3 316L870.1 316.5L868.6 316L866.7 315.2L865 314.5L863.7 314.4L862.7 315.1L862 316.5L861.5 318L860.9 319.2L860 319.6L858.5 319.5L856.4 319.7L854.4 321L853.7 323.3L854.9 325.1L857.2 325.7L859.5 324.9L861.4 323.6L862.7 322.7L863.7 322.5L864.5 323.4L865.4 324.8L866.7 326.3L868 327.1L869.3 327.2L870.5 326.9L871.6 326.2L872.6 325.2L873.6 324.3L874.6 323.4L875.7 322.7L876.9 322.4L878.1 322.5L879.5 322.9L880.8 323.4L882.2 323.8L883.6 324.1L884.9 324L886 323.5L886.9 322.6L887.8 321.3L888.6 319.8L889.4 318.3L890.4 316.9L891.6 315.9L893 315.4L894.4 315.6L895.9 316.4L897.1 317.7L898.1 319.2L899 320.9L899.7 322.4L900.6 323.3L901.6 324L902.8 324.2L904.2 323.9L905.7 323.1L907.2 322.6L908.5 322.1L909.8 321.8L911 322L912.1 322.5L913.1 323.2L914.2 324L915.4 324.5L916.6 324.6L917.8 324.3L919.1 323.5L920.3 322.7L921.5 322.2L922.6 322.5L923.7 323.4L925 324.8L926.5 325.9L927.9 326.3L929.1 325.9L930.2 324.9L931 323.5L931.8 322.3L932.8 321.6L934.1 321.4L935.4 321.5L936.8 321.9L937.9 321.9L938.9 321L939.8 319.4L940.9 317.7L942.2 316.7L943.5 316.7L944.8 317.8L945.9 319.5L947 321L948.2 321.6L949.4 321.3L950.7 320.3L951.8 319.7L952.9 318.6L954.1 319.1L955.6 320.3L957.4 321.6L959.1 322L960.4 321.5L961.2 320.2L961.6 318.5L961.8 316.6L962.1 314.8L962.7 313.4L963.8 312.7L965.2 312.5L966.8 312.9L968.2 313.5L969.3 314L970.3 314.1L971.4 314L972.9 313.7L974.7 313.6L976.3 313.9L977.5 314.6L978.1 315.7L978.2 317.2L978 319L977.7 321L977.6 323L978.2 324.7L979.3 325.8L980.9 326.1L982.7 325.6L984.4 324.4L985.9 322.6L987.2 321.3L988.3 320.9L989.4 321.5L990.5 322.9L991.7 323.5L992.9 323.9L994.1 324.3L995.3 324.5L996.5 324.6L997.7 324.5L998.9 324.3L1000.1 324.1L1001.3 324L1002.6 323.9L1003.8 324L1004.9 324.4L1006.1 325L1007.1 325.7L1008.1 326.5L1008.9 327.3L1009.6 328.1L1010.2 328.7L1010.8 329.3L1011.4 329.9L1012.3 330.6L1013.2 331.5L1014.2 332.5L1015.2 333.6L1016 334.7L1016.6 335.7L1016.9 336.7L1017 337.7L1017 338.8L1016.8 340L1016.7 341.4L1016.6 343L1016.7 344.5L1017 345.8L1017.5 346.9L1018.2 347.8L1019.1 348.4L1020.3 348.9L1021.7 349.4L1023 350.2L1024.1 351.3L1024.9 352.7L1025.2 354.1L1024.9 355.5L1024.2 356.7L1023.2 357.8L1021.4 358.5L1020.1 359.2L1019.5 360.1L1019.4 361.3L1019.5 362.8L1019.1 364L1018.5 365.1L1017.6 366L1016.7 366.7L1015.2 367L1013.6 367.2L1012 367.5L1010.9 368.3L1010.2 369.5L1010.2 371.2L1010.8 372.9L1011.8 374.4L1013 375.6L1013.9 376.4L1014.3 377.2L1014.1 378.1L1013.5 379.3L1012.8 380.8L1012.1 382.4L1011.8 384L1012 385.3L1012.7 386.3L1013.8 387L1015.2 387.6L1016.5 388.2L1017.6 388.9L1018.3 389.9L1018.8 391.1L1018.9 392.4L1018.8 393.8L1018.6 395.2L1018.5 396.5L1018.8 397.7L1019.4 398.6L1020.5 399.5L1022 400.2L1023.6 400.9L1025.1 401.7L1026.4 402.8L1027.1 404L1027.1 405.5L1027 406.9L1025.3 408.3L1023.2 409.3L1021.3 410.1L1020.1 410.8L1019.9 411.7L1020.4 413L1021.1 414.6L1021 415.9L1021.3 417.5L1021.1 418.9L1020.6 420.1L1019.9 421.2L1019 422L1017.9 422.7L1016.6 423.2L1015.3 423.5L1013.9 423.8L1012.6 424.1L1011.5 424.4L1010.4 424.9L1009.5 425.5L1008.7 426.3L1007.9 427.1L1006.9 428L1005.9 428.7L1004.7 429.3L1003.5 429.7L1002.2 429.9L1001 429.6L999.8 429.3L998.6 428.8L997.5 428.3L996.3 427.8L995.1 427.4L993.9 427.2L992.7 427.3L991.5 427.6L990.3 428L989 428.5L987.8 429L986.5 429.3L985.4 429.6L984.3 429.6L983.3 429.5L982.2 429.1L981 428.7L979.6 428.3L978.1 427.9L976.6 427.8L974.8 427.6L973.7 428.3L972.7 429L971.9 430L971.4 431.3L971 432.7L970.7 434.2L970.3 435.7L969.7 437.1L968.9 438.3L967.9 439.2L966.8 439.7L965.5 440L964.1 439.9L962.7 439.8L961.4 439.5L960 439.3L958.8 439.2L957.6 439.2L956.4 439.5L955.3 439.9L954.2 440.5L953.1 441.1L951.9 441.3L950.8 441.7L949.6 441.8L948.4 441.5L947.1 441.1L945.9 440.6L944.8 440.2L943.6 440.1L942.4 440.5L941.2 441.3L940 442.4L938.7 443.3L937.5 443.9L936.3 444L935.1 443.5L933.9 443L932.8 441.7L931.6 440.4L930.4 439.2L929.1 438.5L927.8 438.2L926.6 438.5L925.4 439.3L924.3 440.5L923.2 441.9L922.2 443.3L921.2 444.5L920.1 445.4L919.1 445.9L917.9 446L916.7 445.8L915.3 445.2L913.9 444.4L912.5 443.5L911.1 442.7L909.7 442L908.4 441.7L907.2 441.7L906 442.1L905 442.9L904 444.1L903.1 445.4L902.2 446.8L901.2 448.1L900.2 449.1L899 449.8L898 450.7L896.7 450.5L895.4 449.8L894 448.9L892.6 447.8L891.2 446.9L889.9 446.2L888.6 445.9L887.4 446L886.3 446.6L885.2 447.6L884.2 448.7L883.2 449.8L882.1 450.8L881 451.5L879.9 451.8L878.7 451.8L877.4 451.5L876.1 451L874.7 450.5L873.3 450.2L871.8 450.4L870.5 451.2L869.7 452.5L869.7 454L870.4 455.4L871.6 456.1L872.7 456.5L873.5 456.7L873.5 457.9L874.2 458.7L874.9 459.7L875.8 461L876.7 462.3L877.8 463.4L879 464L880.3 464.1L881.6 463.7L882.9 462.9L884.2 461.8L885.5 460.7L886.7 459.9L887.9 459.5L889.1 459.5L890.2 460.1L891.4 460.9L892.6 461.9L893.7 462.8L894.9 463.5L896.1 463.8L897.3 463.8L898.5 463.5L899.7 463L901 462.5L902.2 461.5L903.4 461.6L904.6 462.4L905.7 463.6L906.8 464.7L907.9 465L909.1 464.9L910.4 464.3L911.7 463.4L913.1 462.4L914.5 461.5L915.8 461.1L917 461.2L918.1 461.9L919.1 463.3L920 464.9L920.9 466.6L921.9 468L923.1 468.3L924.3 468.5L925.6 468.2L926.9 467.4L928.3 466.3L929.6 465.2L930.9 464.3L932.1 463.8L933.3 463.8L934.4 464.3L935.5 465.2L936.7 466.4L937.9 467.6L939.1 468.6L940.3 469.2L941.5 469.2L942.7 468.7L943.9 467.8L945.1 466.9L946.2 466.1L947.4 465.6L948.6 465.5L949.8 465.8L951.1 466.2L952.2 466.8L953.4 467.3L954.5 468.3L955.8 467.2L957 466.9L958.3 466.4L959.6 465.9L961 465.6L962.3 465.7L963.5 466L964.6 466.6L965.6 467.5L966.5 468.5L967.3 469.8L968 471.1L968.8 472.2L969.8 473.1L970.5 474.4L971.7 474.9L973.2 474.5L974.9 473.4L976.6 472.1L978.2 471.1L979.6 470.7L980.7 471.1L981.5 472.4L982.2 474.3L982.8 476.4L983.5 478.2L984.4 479.4L985.6 479.8L986.9 479.7L988.3 479.2L989.8 478.4L991.2 477.4L992.6 476.6L993.9 476L995 475.8L996.2 476L997.3 476.6L998.4 477.6L999.5 478.6L1000.6 479.6L1001.7 480.4L1002.8 481L1004 481.1L1005.1 481L1006.4 480.6L1007.7 480.2L1009.1 479.8L1010.4 479.6L1011.4 480.4L1012.6 480.7L1013.7 481.2L1014.8 481.7L1015.8 482.4L1016.9 483.1L1017.9 483.7L1018.9 484.4L1019.9 485L1021 485.5L1022.1 485.9L1023.3 486.3L1024.4 486.6L1025.6 487L1026.7 487.5L1027.8 488.1L1028.8 488.8L1029.7 489.7L1030.5 490.6L1031.1 491.7L1031.6 492.8L1031.9 493.9L1032.1 494.9L1032.2 496L1032.1 497L1032.1 498.1L1032.1 499.3L1032.1 500.6L1032.2 501.9L1032.1 503.1L1032 504.3L1031.8 505.3L1031.4 506.3L1031 507.4L1030.6 508.5L1030.4 509.8L1030.2 511.2L1030 512.6L1030 513.8L1030.2 514.7L1030.8 515.6L1031.7 516.5L1032.5 517.6L1033.7 519.1L1034 520.6L1034 522L1033.5 523.2L1032.5 524.1L1031.1 524.7L1029.5 525.3L1028 526L1026.7 526.9L1024.9 528L1025 529.5L1026.2 531L1027.8 532.3L1029.2 533.3L1030.1 534.2L1030.3 535.3L1029.9 536.7L1029.4 538.1L1029 539.5L1029.2 540.7L1030.1 541.7L1031.5 542.5L1033.1 543.1L1034.5 543.9L1035.2 545.1L1034.9 546.7L1033.7 548.2L1031.9 549.1L1030.5 549.4L1029.4 549.4L1028.6 549.6L1027.9 550.2L1027.4 551.3L1027 552.8L1026.8 554.6L1026.8 556.3L1027 557.9L1027.3 559.2L1027.3 560.3L1026.6 560.9L1025.7 561.7L1024.3 562.5L1022.6 563.2L1020.9 563.7L1019.5 564.2L1018.5 564.8L1018 565.5L1017.8 566.6L1017.8 568.1L1017.7 569.7L1017.3 571.2L1016.6 572.5L1015.5 573.1L1014.3 573.5L1013.1 573.8L1011.8 573.9L1010.5 573.9L1009.2 574L1008 574.2L1007 574.8L1006 575.7L1005.1 576.6L1004.1 577.6L1003 578.3L1001.8 578.6L1000.5 578.6L999.2 578.1L997.9 577.4L996.5 576.6L995.2 575.8L994 575.4L992.8 575.4L991.7 575.9L990.6 576.9L989.5 578.2L988.5 579.6L987.4 580.9L986.3 581.8L985.1 582.2L983.9 582.1L982.6 581.5L981.3 580.6L980 579.6L978.8 578.7L977.6 578L976.4 577.8L975.2 577.9L974 578.4L972.8 579.1L971.7 579.9L970.5 580.6L969.3 581.1L968 581.3L966.8 581.2L965.6 580.8L964.5 580.2L963.3 579.7L962.1 579.3L960.9 579.1L959.7 579.2L958.5 579.5L957.3 580L956.1 580.5L954.9 581L953.7 581.2L952.5 581.2L951.3 580.8L950.1 580.2L948.8 579.5L947.6 578.8L946.3 578.3L945 578L943.8 578.2L942.7 578.7L941.6 579.6L940.5 580.8L939.4 582L938.4 583.1L937.3 584.1L936.2 584.7L935 584.8L933.7 584.5L932.4 583.8L931.1 583L929.7 581.4L928.3 580L927 579.3L925.9 579.5L924.8 580.5L923.7 582L922.6 583L921.5 583.7L920.3 583.9L919.1 583.6L917.8 582.9L916.6 582.3L915.4 582.1L914.1 581.8L913 582.6L911.9 583.7L910.8 585L909.7 586.2L908.6 587.2L907.5 587.8L906.4 588.1L905.2 587.9L903.9 587.2L902.6 586.2L901.1 585.1L899.7 584.1L898.2 583.3L896.9 582.9L895.6 583L894.5 583.7L893.6 584.9L892.7 586.4L892 588L891.2 589.6L890.4 591L889.4 592L888.3 592.4L887 592.4L885.6 591.9L884.1 591L882.6 590.2L881.1 589.5L879.4 589.2L877.7 589.4L876.1 590.4L875.1 592.2L875.2 594.4L876.2 596L878.3 596.4L880 596.1L881.2 596L882.1 596.5L883 597.5L883.9 598.8L884.8 599.9L885.9 600.5L887.2 600.4L888.6 599.8L890 598.9L891.5 598L892.7 597.7L893.8 598.2L894.7 599.4L895.6 601.2L896.6 603.1L897.7 604.6L898.9 605.3L900.2 605.1L901.5 604L902.8 602.3L904 600.6L905.2 599.4L906.4 598.9L907.6 599.2L908.8 600.3L910 601.6L911.2 602.6L912.4 603.1L913.6 602.8L914.8 601.9L916 600.7L917.2 599.7L918.4 599.3L919.6 599.6L920.8 600.7L922 602.3L923.2 603.3L924.4 604.1L925.5 604.5L926.7 604.9L927.9 604.5L929.1 603.8L930.4 602.8L931.6 601.8L932.8 600.8L934.1 600L935.3 599.4L936.5 599.2L937.7 599.3L938.9 599.8L940.1 600.3L941.2 602.2L942.4 602.7L943.5 603.3L944.7 603.7L945.9 603.9L947.1 603.9L948.3 603.7L949.6 602.4L950.8 601.6L952 601.9L953.2 603.2L954.3 604.8L955.4 606.1L956.6 606.5L957.8 605.7L959.1 604L960.4 602L961.7 600.4L963 600L964.2 600.7L965.2 602.4L966.3 604.3L967.4 605.7L968.5 606.1L969.8 605.4L971.1 604.2L972.5 603.1L973.8 602.8L974.9 603.6L975.8 605.3L976.6 607.3L977.4 609L978.3 609.7L979.6 609.3L981.2 608L983 606.4L984.7 605.3L986 605.2L986.9 606.1L987.6 607.8L988.3 609.6L989.2 610.8L990.5 611L991.9 610.2L993.3 608.8L994.5 607.7L995.7 607.4L996.8 608.3L997.9 610.1L999.1 612.1L1000.2 613.8L1001.3 614.4L1002.4 613.7L1003.7 612.2L1005.1 610.5L1006.7 609.5L1008.1 609.5L1009.1 610.7L1009.5 612.5L1009.8 614.2L1010.6 615.1L1011.8 615.4L1013.6 615.1L1015.7 614.8L1017.4 614.9L1017.8 616.2L1017.9 617.8L1017.7 619.6L1017.4 621.5L1017.5 622.9L1018 624.1L1019 624.9L1020.4 625.2L1021.9 625.5L1023.2 626L1024 626.8L1024.4 628.1L1024.5 629.4L1024.6 630.6L1024.5 631.6L1025.2 632.3L1025.9 633.3L1026.4 634.6L1026.5 636.1L1026.4 637.7L1026 639L1025.3 640.1L1024.5 640.9L1024 641.7L1022.4 641.8L1020.4 642L1018.4 643.1L1017.8 644.8L1017.8 646.6L1018.5 648L1019.8 648.9L1021.3 649.3L1023 649.6L1024.8 650.1L1026.3 651L1027.2 652.4L1027.1 654L1026.3 655.4L1025 656.4L1023.6 657.1L1022.3 657.8L1021.3 658.5L1020.5 659.5L1020.2 660.8L1020.2 662.1L1020.6 663.4L1021.1 664.5L1021.4 665.5L1021.4 666.6L1021.1 667.9L1020.6 669.3L1020.1 670.7L1019.7 672.3L1019.7 673.7L1020.3 674.8L1021.5 675.6L1023.1 676L1024.9 676.5L1026.7 677.5L1027.9 679L1028.1 680.9L1027.4 682.5L1026.4 683.8L1024.3 684.1L1022.1 683.9L1020.2 683.8L1018.8 684L1018.5 685.4L1017.8 686.4L1017.2 687.5L1016.7 688.7L1016.3 690L1015.9 691.2L1015.3 692.3L1014.7 693.3L1014 694.2L1013.1 695.1L1012.2 695.9L1011.2 696.6L1010.3 697.4L1009.4 698.2L1008.6 699.1L1008 700.1L1007.3 701.1L1006.5 702.1L1005.6 703L1004.6 703.7L1003.4 704.2L1002.2 704.4L1000.9 704.4L999.7 704.7L998.5 703.8L997.4 702.7L996.3 701.6L995.1 701.8L993.9 701.9L992.6 702.6L991.3 703.5L990 704.4L988.7 705L987.4 705.2L986.3 704.8L985.2 704L984.1 702.9L983 701.9L981.9 701.2L980.6 700.9L979.4 701.2L978.2 701.5L977.1 702.1L976 702.6L975 703L973.8 703.4L972.5 703.9L971.4 704.5L970.5 705.4L970 706.4L969.7 707.8L969.3 709.4L968.7 710.9L967.8 712.9L966.2 713.5L964.6 713.4L963.2 712.5L962 711.1L961 709.4L960.1 707.7L959.2 706.4L958.1 705.5L956.9 705.3L955.5 705.6L954.1 706.4L952.8 707.5L951.5 708.9L950.3 710.1L949.1 711.1L948 711.7L946.9 711.8L945.7 711.3L944.5 710.4L943.2 709.3L941.9 708.2L940.6 706.9L939.3 706.4L938.1 706.8L937 707.9L936 709.2L934.9 710.2L933.7 710.6L932.4 710.1L931.1 708.9L929.8 707.7L928.6 706.8L927.4 706.9L926.3 707.9L925.2 709.6L924 711.4L922.8 712.9L921.5 713.4L920.2 712.8L919.1 711.6L918 709.9L916.9 708.6L915.7 708.9L914.5 708.8L913.3 709L912 709.3L910.8 709.6L909.6 709.7L908.4 710.9L907.3 710.4L906.1 709.3L904.8 707.9L903.4 706.6L902.1 705.8L900.8 705.7L899.6 706.4L898.6 707.7L897.6 709.6L896.8 711.6L895.9 713.2L894.9 714.3L893.8 714.6L892.5 714.2L891.1 713.2L889.6 712.1L888.1 711L886.8 710.4L885.6 710.4L884.5 711.1L883.5 712.3L882.6 713.6L881.7 714.8L881 715.5L880.2 715.7L879 715.6L877.3 715.9L875.7 717.2L875 719.3L875.8 721.3L877.5 722.2L879.5 722.1L881.3 721.1L883 719.8L884.4 718.6L885.5 718L886.5 718.1L887.5 719.1L888.6 720.7L889.8 722.6L891.1 724.3L892.3 725.4L893.5 725.6L894.6 724.8L895.8 723.3L897 721.4L898.3 719.6L899.6 718.4L901 718L902.2 718.5L903.3 719.9L904.2 721.8L905.1 723.7L906 725L907.1 725.7L908.3 725.6L909.7 725L911.1 724L912.5 723.2L913.8 722.8L914.9 723L916 723.8L917 725.1L918.1 726.6L919.4 727.7L920.7 728.3L922 728L923.3 726.9L924.3 725.3L925.2 723.3L926.1 721.5L927.1 720.3L928.2 720L929.6 720.5L931.1 721.7L932.5 723.2L933.8 724.6L934.9 725.7L936 726L937 725.7L938.2 724.9L939.6 723.8L941 723L942.4 722.6L943.6 722.8L944.7 723.7L945.5 725L946.2 726.5L947 727.7L948 728.5L949.3 728.5L950.8 728L952.4 727L954 725.9L955.5 725.2L956.8 725.1L957.9 725.8L958.7 727.2L959.3 729L959.9 731L960.6 732.7L961.5 733.8L962.7 734.3L964.1 734.1L965.5 733.4L967 732.5L968.3 731.7L969.5 731.7L970.6 731.9L971.7 732.6L973 733.4L974.3 734.2L975.6 734.5L976.8 734.4L977.9 733.6L978.9 732.2L979.8 730.6L980.9 729.1L982.2 728L983.7 727.6L985.2 728.3L986.6 729.3L987.6 730.8L988.2 732.5L988.4 734.1L988.5 735.5L988.7 736.7L989.7 737.2L990.5 738.2L991.6 738.9L992.9 739.5L994.2 739.9L995.3 740.4L996.4 740.8L997.4 741.4L998.4 742L999.5 742.6L1000.6 743L1001.8 743.2L1003.1 743L1004.3 742.5L1005.5 742L1006.7 741.4L1007.9 740.9L1009.2 740.7L1010.4 741L1011.6 741.8L1012.6 743L1013.5 744.4L1014.3 745.6L1015.1 746.4L1015.9 746.7L1016.9 746.6L1018.3 746.3L1020 746.6L1021.3 747.9L1021.6 749.7L1021.1 751.3L1020 752.4L1018.6 753L1017.1 753.2L1015.6 753.4L1014.2 753.7L1013.1 754.3L1012 755L1011.2 756L1010.7 757.2L1010.4 758.5L1010.3 759.7L1010.8 760.9L1010.8 761.9L1010.3 763.2L1010.6 764.4L1010.9 765.6L1011.4 766.7L1011.9 767.8L1012.5 768.8L1013.2 769.8L1014.1 770.7L1015 771.6L1015.8 772.8L1016.4 774L1016.7 775.4L1016.8 776.7L1016.6 778L1016.1 779.2L1015.3 780.2L1014.3 781.3L1013.2 782.2L1012.1 783.3L1011.2 784.5L1010.5 785.9L1010.3 787.4L1010.6 788.8L1011.3 790.2L1012.4 791.2L1013.7 792.1L1015.5 792.4L1017.2 792.6L1018.6 792.8L1019.5 793.3L1020.1 794.2L1020.5 795.4L1020.9 796.8L1021.3 798.2L1021.6 799.5L1021.9 800.5L1022.2 801.4L1022.9 802.3L1023.6 803.4L1023.9 804.9L1023.6 806.3L1022.6 807.3L1021.5 808L1020 808L1018.4 807.6L1017 807.1L1015.6 806.7L1014.4 806.6L1013.3 807L1012.4 807.8L1011.5 809L1010.7 810.5L1009.8 812L1008.9 813.3L1007.9 814.4L1006.7 815L1005.4 815.1L1004.1 814.8L1002.7 814L1001.4 813L1000.1 811.9L998.8 811L997.6 810.4L996.3 810.2L995.1 810.5L993.9 811.1L992.8 812L991.8 813.4L990.8 814.7L989.8 816.1L988.7 817.1L987.6 817.6L986.4 817.5L985.1 816.9L983.7 815.9L982.3 814.9L980.9 814.1L979.6 813.8L978.4 814.1L977.3 814.9L976.4 816.2L975.4 817L974.3 817.7L973.2 818.1L972 818.3L970.7 818.2L969.5 818.4L968.4 816.5L967.4 815.2L966.4 814.7L965.2 814.6L964 814.4L962.5 816.3L961.2 817.1L960.1 817.9L959.3 818.7L958.9 820L958.4 820.4L957.7 820.8L956.7 821.1L955.4 821.4L953.8 821.6L952.2 821.8L950.8 821.9L949.6 821.9L948.7 822.1L948 822.4L947.3 823.1L946.5 824.2L945.6 825.4L944.5 826.7L943.4 827.9L942.3 828.8L941.3 829.4L940.2 829.5L939.1 829.3L938 829L936.7 828.6L935.3 828.2L933.8 827.9L932.5 827.8L931.1 827.8L930 828.2L929 828.7L928.1 829.5L927.2 830.3L926.3 831.1L925.1 831.8L923.8 832.1L922.6 832L921.4 831.4L920.4 830.6L919.7 829.5L918.9 828.5L918 827.5L917 826.6L915.8 825.9L914.5 825.6L913.1 825.7L911.8 826.3L910.8 827.3L909.9 828.4L909.2 829.5L908.4 830.5L907.6 831.4L906.6 832.2L905.3 832.6L903.9 832.8L902.5 832.6L901 832.1L899.7 831.3L898.6 830.4L897.6 829.5L896.6 828.8L895.6 828.5L894.4 828.4L893.1 829L891.6 829.9L890.2 830.5L889 830.6L888 829.6L886.8 829.4L885.7 829.3L884.5 829.2L883.3 829.2L882.1 829.3L880.9 829.6L879.8 830.1L878.8 830.7L877.9 831.4L877.3 832.3L877 833.3L876.9 834.4L877.2 835.4L877.5 836.5L878 837.6L878.8 838.6L879.7 839.4L880.9 840.1L882.1 840.6L883.3 840.8L884.6 840.8L885.9 840.5L887.1 840.1L888.3 839.7L889.5 839.3L890.7 839.1L891.9 839L893.1 839L894.3 839.2L895.5 839.5L896.7 839.8L897.9 840.1L899.1 840.4L900.3 840.4L901.4 841.2L902.6 841.7L903.8 841.7L905 840.8L906.3 840.1L907.6 839.5L908.8 839.1L910.1 838.9L911.3 839L912.4 839.5L913.6 840.3L914.6 841.3L915.7 842.5L916.7 843.6L917.7 844.5L918.8 845.1L919.9 845.3L921.2 845.1L922.5 844.6L923.9 844L925.2 843.3L926.6 842.7L927.9 842.3L929.1 842.1L930.4 841.7L931.4 842.6L932.4 843.8L933.4 845.1L934.6 846L935.8 846.4L937.1 846.1L938.3 845.3L939.4 844.2L940.6 843.2L941.7 842.6L943 842.7L944.2 843.4L945.4 844.6L946.6 846.1L947.6 847.5L948.6 848.4L949.6 848.6L950.8 848.2L952.1 847.2L953.7 846L955.3 844.9L956.9 844.2L958.2 844.3L959.3 844.7L960.1 846L960.7 847.6L961.5 849.2L962.4 850.5L963.5 851.3L964.8 851.4L966.2 851L967.4 850.1L968.6 849L969.6 848.1L970.7 847.7L971.9 847.8L973.2 848.4L974.7 849.4L976.1 850.4L977.5 851.2L978.6 851.4L979.5 851L980.3 849.4L981.7 847.3L983.8 845.8L985.9 845.9L987 847.6L986.6 849.8L985.4 851.7L984.4 853.2L984.4 854.4L985.4 855.4L987.1 856.2L988.6 856.7L989.3 857.2L989 858.4L988.7 860.3L989 862.7L990.2 864.6L991.7 865L993.2 863.8L994.5 861.7L995.8 859.9L997.2 858.4L998.8 857.6L1000.5 857.7L1001.9 858.7L1002.7 860.4L1002.8 862.7L1003.1 864.3L1003.3 865.9L1003.7 867.2L1004.5 868.3L1005.6 869.1L1007 869.5L1008.5 869.4L1010.2 868.5L1011.7 867.7L1013 867.6L1014 868.2L1014.9 869.4L1015.7 870.9L1016.4 872.2L1017 873L1017.9 873.1L1019.4 873.2L1021.1 873.9L1022.4 875.4L1022.9 877.4L1022.5 878.9L1021.4 879.9L1019.8 880.3L1017.7 880.7L1015.7 881.4L1013.8 882.6L1013.3 884.3L1015 885.6L1016.1 886.7L1017.5 887.6L1018.7 888.4L1019.3 889.5L1019.4 890.7L1018.8 892.3L1018.6 893.7L1019.1 894.8L1020.3 895.6L1022 896.1L1023.8 896.5L1025.3 897.1L1026.2 898.1L1026.1 899.5L1025.3 901.3L1023.9 903L1022.5 904.3L1021.5 905.1L1021.3 905.6L1021.9 906.4L1022.7 907.7L1023.4 909.5L1023.6 911.2L1023 912.5L1021.9 913.1L1020.3 913.2L1018.6 913.1L1017 913.1L1015.7 913.7L1015.2 915L1015.3 916.7L1016 918.6L1016.9 920.3L1017.5 921.5L1017.3 922.4L1016.2 923.1L1014.5 923.9L1012.2 924.7L1010.5 925.7L1010.2 927L1011.7 928.3L1012.2 929.6L1012.6 930.8L1013.2 932L1012.9 933.2L1012.2 934.4L1011.2 935.7L1010.4 936.9L1010.1 938.2L1010.3 939.5L1011.3 940.7L1012.7 941.7L1014.3 942.4L1015.6 943.1L1016.6 943.7L1016.9 944.7L1016.8 946.2L1016.6 947.7L1016.8 949L1017.4 949.9L1018.6 950.8L1020 951.9L1021 953.2L1021 954.6L1020.1 955.8L1018.6 956.9L1017 958L1016 959.2L1015.8 960.4L1016.4 961.6L1017.5 962.8L1018.1 964.1L1018.1 965.3L1017.8 966.5L1017.1 967.6L1016.1 968.3L1014.9 968.7L1013.7 968.8L1012.5 968.8L1011.4 968.9L1010.2 969.2L1009.1 969.9L1008.2 971L1007.6 972.4L1007.4 973.9L1007.5 975.3L1007.5 976.5L1007.3 977.4L1007.2 978.6L1005.6 979.2L1003.8 979.7L1001.8 979.8L1000.7 980.2L1000.5 981.3L1000.3 983.2L999.4 984.5L998.2 985.4L996.9 985.8L995.5 985.5L994.3 984.7L993.1 982.8L992 981.5L990.9 980.4L989.8 979.7L988.6 979.4L987.3 979.6L986 980.3L984.7 981.4L983.5 982.7L982.4 984L981.5 985.3L980.6 986.2L979.6 986.5L978.3 986.3L976.9 985.6L975.4 984.9L973.9 984.4L972.7 984.3L971.6 984.7L970.7 985.7L969.7 987L968.5 988.4L966.8 989.3L965.1 989.4L963.7 988.5L962.9 986.8L962.8 984.8L963.2 982.8L963.5 981.2L963.5 979.6L962.9 978.5L961.9 977.6L960.2 977.2L958.5 977.2L956.9 977.5L955.7 978.2L954.9 978.8L954.1 979.3L953.2 979.6L952 979.6L950.6 979.5L949.2 979.2L948 978.8L946.9 978.5L945.9 978.3L944.8 978.5L943.6 978.8L942.2 979.3L940.7 979.8L939.3 980.1L938 980.2L936.9 979.9L935.9 979.1L935.1 978L934.3 976.5L933.4 975L932.3 973.5L931.1 972.4L929.8 971.7L928.5 973.1L927.3 973.5L926.1 974.1L924.9 974.8L923.7 975.6L922.3 976.4L920.9 976.9L919.5 977L918.1 976.8L916.9 976.2L915.9 975.2L915 974.1L914.4 972.9L913.8 971.7L913.1 970.4L912.4 969.4L911.4 968.4L910.3 967.7L909.1 967.2L907.8 967L906.4 967.2L905.2 967.9L904 968.7L902.9 968.9L901.6 968.5L900.3 968.4L899.1 968.5L897.9 968.6L896.7 968.9L895.6 969.4L894.6 970.1L893.6 970.9L892.5 971.8L891.4 972.7L890.1 973.4L888.8 973.7L887.4 973.7L885.9 974.1L884.8 973.1L883.9 971.8L883.1 970.1L882.3 968.4L881.3 967.2L880.2 966.1L878.8 966.1L877.3 967.3L876 969L874.9 970.6L873.8 971.3L872.6 971.1L871.3 970.2L870 969.3L868.8 968.9L867.6 969.3L866.6 970.5L865.6 971.8L864.5 972.5L863.3 972.5L862 971.5L860.4 970.2L858.6 969.2L856.8 969.3L855.6 970.5L855.3 972.4L856.3 974.3L857.2 975.3L857.2 976L856.8 977.3L856.8 979.3L857.6 981L859 981.8L860.6 981.2L862.2 979.6L863.7 977.7L865 976.2L866.2 975.9L867.2 976.8L868.3 978.7L869.4 979.9L870.5 981.2L871.6 981.9L872.6 982.6L873.7 983L874.8 983L875.9 982.8L877.2 982.4L878.6 982.2L880.1 982.1L881.5 982.3L882.8 982.8L883.8 983.6L884.5 984.7L885 985.8L885.4 987.2L885.8 988.5L886.2 989.8L886.9 990.9L887.8 991.8L889 992.4L890.2 992.7L891.6 992.8L892.9 992.8L894.1 992.8L895.2 993.4L896.3 993.7L897.4 994.4L898.5 995.2L899.5 996L900.6 996.5L901.8 996.6L903.1 996.2L904.5 995.7L906.1 995.1L907.7 994.8L909.2 995.2L910.3 996.1L910.9 997.5L911.1 999.1L911.1 1000.7L911.2 1002.2L911.6 1003.5L912.4 1004.4L913.5 1005.1L914.8 1005.5L916 1005.9L917.1 1006.5L918 1007.3L918.8 1008.3L919.5 1009.4L920.3 1010.4L921.4 1011.1L922.6 1011.4L924.1 1011.2L925.4 1010.6L926.6 1009.8L927.6 1009.1L928.2 1007.6L929.2 1008.3L930.8 1010L932.7 1011.6L934.4 1012.4L935.5 1012L936.1 1010.5L936.6 1008.5L937.6 1006.9L938.9 1006.5L940.2 1007.6L941 1009.7L941.3 1011.6L941.8 1012.6L943 1012.5L945 1011.5L947.2 1010.3L949 1009.7L950.1 1010.1L950.4 1011.6L950.6 1013.8L951.2 1015.6L952.4 1016.5L953.8 1015.8L955 1014L955.7 1012L956.4 1010.8L957.6 1011L959.2 1012.2L960.9 1014L962.3 1015.5L963.1 1015.9L964 1015.1L965.3 1013.7L967 1012.8L968.4 1012.8L969.1 1014.1L969.1 1016.2L968.9 1018.4L969.1 1020L970.2 1020.6L972.2 1020.1L974.3 1019.3L975.7 1019.4L977 1019.4L978.2 1019.4L979.2 1019.6L980.4 1019.5L981.2 1020.4L982 1021.8L983 1023.1L984.1 1024.1L985.2 1024.7L986.4 1024.7L987.7 1024.2L989 1023.7L990.3 1023.2L991.5 1023.1L992.7 1023.6L993.7 1024.5L994.5 1025.8L995.2 1027L995.9 1028L996.5 1029.1L997.8 1029.1L999.5 1028.6L1001.5 1028L1003.5 1027.6L1005.3 1027.7L1006.6 1028.6L1007.4 1030L1007.6 1031.7L1007.2 1033.5L1006.2 1035.2L1004.6 1036.5L1003.4 1037.6L1003.2 1038.6L1003.6 1039.8L1004.2 1041L1004.9 1042.3L1005.5 1043.7L1005.7 1045.1L1005.5 1046.4L1004.2 1047.2L1003.6 1048.2L1002.8 1049.2L1002.1 1050.2L1001.6 1051.3L1001.5 1052.5L1001.8 1053.7L1002.5 1054.7L1003.4 1055.5L1004.4 1056.3L1005.4 1057L1006.2 1057.9L1006.9 1058.9L1007.3 1060.2L1007.4 1061.5L1007.3 1062.8L1006.9 1064L1006.4 1065.1L1006.1 1066.1L1005.9 1067.2L1005.2 1068.3L1005.7 1069.4L1006.5 1070.7L1007.6 1072.1L1008.7 1073.5L1008.8 1074.8L1007.9 1075.8L1006.7 1076.5" fill="none" stroke="#000" stroke-width="2.3" stroke-linejoin="round" stroke-linecap="round"/>
<path d="M751.6 207.5C751.4 212.5 749.5 228 750.3 237.7C751.1 247.3 753.6 255.8 756.6 265.4C759.6 275 765.3 286.3 768 295.5C770.7 304.7 771.3 313.1 773 320.7C774.7 328.2 775.9 334.5 778 340.8C780.1 347.1 781.7 353.4 785.5 358.4C789.3 363.4 793.9 367.9 800.6 371C807.3 374.1 818.4 376.4 825.8 377.3C833.2 378.2 839.3 377.4 845 376.5C850.7 375.6 856 374 860 372C864 370 866.4 368.1 869.3 364.3C872.2 360.5 876.1 351.6 877.5 349C870.2 331 909.2 324.6 916.5 342.6C916.7 327.2 944.9 330.3 944.8 345.7C953.6 330.5 977 349.7 968.2 365C990.3 363.9 990.8 398.4 968.6 399.5C982.4 421.4 935.4 443 921.6 421.1C923.2 438.9 886.6 435.8 885 418C883.8 416.8 881.2 412.4 878 411C874.8 409.6 870.3 409.4 866 409.5C861.7 409.6 856 409.8 852 411.5C848 413.2 844.3 415.8 842 420C839.7 424.2 838.7 431.2 838 437C837.3 442.8 837.6 449.5 838 455C838.4 460.5 839.8 463.8 840.5 470C841.2 476.2 840.8 486.2 842 492.5C843.2 498.8 844.5 503.8 848 507.5C851.5 511.2 857.5 514.5 863 515C868.5 515.5 876 513 881 510.5C886 508 891 501.8 893 500C890.6 478.2 933.9 473 936.3 494.8C936.9 468.2 978 476.4 977.4 503.1C1003.3 494.5 1013.9 530.1 988 538.7C1006.4 541.3 1002.8 566.1 984.4 563.5C987.8 575.5 962.6 575.7 959.3 563.7C957.4 581.6 922.1 586.7 924 568.9C921 587 887 572.1 890 554C887.5 552.8 880 548 875 546.5C870 545 864.2 544.5 860 545C855.8 545.5 852 547 849.5 549.5C847 552 846 555.8 845 560C844 564.2 843.8 570 843.5 575C843.2 580 843.5 583.8 843.5 590C843.5 596.2 843.1 605.7 843.5 612C843.9 618.3 843.2 623.2 846 628C848.8 632.8 854.4 639.3 860 641C865.6 642.7 874 640.5 879.5 638C885 635.5 890.8 628 893 626C892.4 609.4 925.4 601.4 925.9 618C924.4 600.7 947.1 604.3 948.6 621.7C952.6 606.6 977.3 612.8 973.3 627.9C1002.3 611.1 1017.1 640.3 988 657.1C1007.4 658.8 1006.3 685.2 986.9 683.5C988.7 696.7 961.2 698.3 959.3 685.2C958.6 702.8 927.2 709.2 928 691.5C924.7 709.8 889.7 695.3 893 677C890.8 676 885 671.9 879.5 671C874 670.1 865.8 670.7 860 671.7C854.2 672.7 848.5 674 845 677C841.5 680 840.2 685.3 839 690C837.8 694.7 838.2 700 838 705C837.8 710 838 714.5 838 720C838 725.5 836.5 732.8 838 738C839.5 743.2 842.5 748.5 847 751.5C851.5 754.5 860 756 865 756C870 756 873.5 754.2 877 751.5C880.5 748.8 884.5 741.5 886 739.5C886.3 723.2 920.2 724.4 919.9 740.7C921.6 721.7 949.3 727.2 947.6 746.2C962 728 985 750.7 970.6 768.9C990.9 769.3 987 799.1 966.7 798.7C970.3 809.8 949.9 821.7 946.3 810.7C946.5 824 922.2 825.6 922 812.3C924.2 833.3 884.3 823 882 802C879.2 800.3 870.8 793.9 865 792C859.2 790.1 851.5 789.5 847 790.5C842.5 791.5 840.2 794.2 838 798C835.8 801.8 834.8 808 833.5 813C832.2 818 831.4 823.5 830.5 828C829.6 832.5 828.1 836.3 828 840C827.9 843.7 827.5 846.7 830 850C832.5 853.3 836.7 857.5 843 860C849.3 862.5 860.2 865 868 865C875.8 865 886.3 860.8 890 860C891.9 840.6 932.4 842.9 930.5 862.3C929.8 842.4 962.1 848.5 962.8 868.3C971.5 858.2 995.1 871.7 986.4 881.8C1010.8 883.8 1012.7 934.2 988.4 932.3C992.1 948.2 960 959.1 956.3 943.2C964.7 968.6 926.6 976.7 918.2 951.3C914 966.6 884.2 953.2 888.4 937.9C877.6 950.6 849.2 930.8 860 918C859.5 916 858.7 909.2 857 906C855.3 902.8 853 900.1 850 898.5C847 896.9 842.8 895.9 839 896.5C835.2 897.1 830.2 898.9 827 902C823.8 905.1 821.2 908.7 820 915C818.8 921.3 819.7 930.3 820 940C820.3 949.7 822.1 964.7 822 973C821.9 981.3 821 984.5 819.5 990C818 995.5 816.1 998.7 813 1006C809.9 1013.3 803.4 1026.3 800.6 1034C797.8 1041.7 796.8 1049 796 1052" fill="none" stroke="#000" stroke-width="2.8" stroke-linejoin="round" stroke-linecap="round"/>
<path d="M698.8 207.5C699.2 212.6 699 228.4 701 238C703 247.6 707.7 257.1 711 265C714.3 272.9 719 280 721 285.5C723 291 724.1 294.4 722.7 298C721.3 301.6 718.1 305.2 712.6 307C707.1 308.8 695.4 308.4 690 308.5C684.6 308.6 683.8 307.7 680.1 307.4C676.4 307.1 672.1 306.8 667.9 306.6C663.6 306.4 659.1 306.2 654.5 306.1C649.8 306.1 645 306.1 640.1 306.2C635.2 306.3 630.2 306.5 625.2 306.7C620.1 306.9 615.1 307.2 610 307.5C604.9 307.9 599.7 308.2 594.7 308.6C589.6 309 584.4 309.5 579.7 309.9C574.9 310.4 570.2 310.8 566.1 311.2C562.1 311.6 558.5 312 555.3 312.4C552.1 312.8 549.7 313.1 546.9 313.7C544 314.3 541.7 314.8 538.3 315.8C534.9 316.7 531.2 317.9 526.6 319.5C522 321 516.5 322.9 510.7 325.1C504.9 327.3 498.2 329.8 491.7 332.6C485.1 335.3 478.2 338.4 471.5 341.7C464.7 344.9 457.9 348.5 451.2 352.3C444.4 356.1 437.7 360.2 431 364.6C424.3 369 417.6 373.7 410.8 378.7C404.1 383.8 397.3 389.1 390.7 394.8C384 400.4 377.2 406.3 370.7 412.4C364.2 418.5 357.7 424.9 351.6 431.3C345.5 437.8 339.5 444.4 334 451C328.4 457.6 323.2 464.3 318.3 470.9C313.4 477.6 308.8 484.3 304.7 491C300.5 497.8 296.6 504.5 293.1 511.2C289.6 517.9 286.4 524.6 283.6 531.3C280.7 537.9 278.2 544.6 276 551.1C273.8 557.6 271.9 564 270.2 570.2C268.5 576.4 267.1 582.5 265.8 588.4C264.6 594.3 263.5 600 262.7 605.7C261.8 611.5 261 617.1 260.5 623C259.9 628.9 259.5 634.9 259.3 641.2C259 647.4 258.9 653.8 259 660.4C259.1 666.9 259.3 673.7 259.7 680.4C260.1 687.1 260.7 693.9 261.5 700.7C262.3 707.5 263.3 714.3 264.5 721.1C265.7 727.8 267.1 734.6 268.7 741.2C270.3 747.7 272.1 754.3 274 760.4C275.8 766.5 277.8 772.3 279.8 777.7C281.8 783.1 283.9 788.1 285.9 792.8C288 797.5 290.1 801.8 292.2 806C294.3 810.3 296.5 814.2 298.7 818.3C300.9 822.4 303.2 826.3 305.5 830.4C307.9 834.4 310.3 838.5 312.7 842.5C315.2 846.6 317.7 850.6 320.3 854.7C322.8 858.7 325.4 862.7 328.1 866.7C330.8 870.7 333.5 874.6 336.6 878.7C339.7 882.8 342.9 886.9 346.6 891.2C350.3 895.5 354.4 900 359 904.6C363.5 909.3 368.6 914.2 373.7 918.9C378.7 923.5 384.2 928.3 389.4 932.6C394.5 936.9 399.6 941 404.4 944.5C409.1 948.1 413.6 951.2 417.9 954.1C422.3 956.9 426.2 959.3 430.5 961.7C434.7 964.1 438.7 966.2 443.2 968.3C447.6 970.4 452.2 972.3 457.2 974.3C462.1 976.2 467.3 978.1 472.7 979.8C478.2 981.5 483.9 983.1 489.7 984.6C495.4 986 501.4 987.4 507.2 988.5C513 989.6 518.9 990.6 524.6 991.4C530.3 992.2 536 992.8 541.6 993.2C547.2 993.6 552.8 993.9 558.4 994C563.9 994.1 569.5 994.1 575 993.9C580.6 993.7 586.1 993.4 591.6 992.9C597.2 992.4 602.7 991.8 608.2 991.1C613.7 990.4 619.3 989.5 624.8 988.6C630.4 987.7 635.9 986.7 641.5 985.7C647 984.6 652.6 983.5 658.2 982.4C663.8 981.3 669.3 980.2 674.9 979.1C680.6 978 686.2 976.8 691.8 975.7C697.5 974.6 703.1 973.5 708.8 972.3C714.5 971.2 720.3 970 726 968.9C731.7 967.8 737.6 966.6 742.9 965.5C748.2 964.5 755.5 963 758 962.5C760.5 962 754.5 962.9 758 962.5C761.5 962.1 773.2 959.7 779 960C784.8 960.3 790 961.2 793 964.5C796 967.8 797.4 975.6 797 980C796.6 984.4 794.6 985.8 790.6 991C786.6 996.2 778.4 1004.2 773 1011C767.6 1017.8 762 1024.1 758 1031.6C754 1039.1 750.5 1051.9 749 1056" fill="none" stroke="#000" stroke-width="2.6" stroke-linejoin="round" stroke-linecap="round"/>
<path d="M640.1 306.2C637.6 306.3 630.2 306.5 625.2 306.7C620.1 306.9 615.1 307.2 610 307.5C604.9 307.9 599.7 308.2 594.7 308.6C589.6 309 584.4 309.5 579.7 309.9C574.9 310.4 570.2 310.8 566.1 311.2C562.1 311.6 558.5 312 555.3 312.4C552.1 312.8 549.7 313.1 546.9 313.7C544 314.3 541.7 314.8 538.3 315.8C534.9 316.7 531.2 317.9 526.6 319.5C522 321 516.5 322.9 510.7 325.1C504.9 327.3 498.2 329.8 491.7 332.6C485.1 335.3 478.2 338.4 471.5 341.7C464.7 344.9 457.9 348.5 451.2 352.3C444.4 356.1 437.7 360.2 431 364.6C424.3 369 417.6 373.7 410.8 378.7C404.1 383.8 397.3 389.1 390.7 394.8C384 400.4 377.2 406.3 370.7 412.4C364.2 418.5 357.7 424.9 351.6 431.3C345.5 437.8 339.5 444.4 334 451C328.4 457.6 323.2 464.3 318.3 470.9C313.4 477.6 308.8 484.3 304.7 491C300.5 497.8 296.6 504.5 293.1 511.2C289.6 517.9 286.4 524.6 283.6 531.3C280.7 537.9 278.2 544.6 276 551.1C273.8 557.6 271.9 564 270.2 570.2C268.5 576.4 267.1 582.5 265.8 588.4C264.6 594.3 263.5 600 262.7 605.7C261.8 611.5 261 617.1 260.5 623C259.9 628.9 259.5 634.9 259.3 641.2C259 647.4 258.9 653.8 259 660.4C259.1 666.9 259.3 673.7 259.7 680.4C260.1 687.1 260.7 693.9 261.5 700.7C262.3 707.5 263.3 714.3 264.5 721.1C265.7 727.8 267.1 734.6 268.7 741.2C270.3 747.7 272.1 754.3 274 760.4C275.8 766.5 277.8 772.3 279.8 777.7C281.8 783.1 283.9 788.1 285.9 792.8C288 797.5 290.1 801.8 292.2 806C294.3 810.3 296.5 814.2 298.7 818.3C300.9 822.4 303.2 826.3 305.5 830.4C307.9 834.4 310.3 838.5 312.7 842.5C315.2 846.6 317.7 850.6 320.3 854.7C322.8 858.7 325.4 862.7 328.1 866.7C330.8 870.7 333.5 874.6 336.6 878.7C339.7 882.8 342.9 886.9 346.6 891.2C350.3 895.5 354.4 900 359 904.6C363.5 909.3 368.6 914.2 373.7 918.9C378.7 923.5 384.2 928.3 389.4 932.6C394.5 936.9 399.6 941 404.4 944.5C409.1 948.1 413.6 951.2 417.9 954.1C422.3 956.9 426.2 959.3 430.5 961.7C434.7 964.1 438.7 966.2 443.2 968.3C447.6 970.4 452.2 972.3 457.2 974.3C462.1 976.2 467.3 978.1 472.7 979.8C478.2 981.5 483.9 983.1 489.7 984.6C495.4 986 501.4 987.4 507.2 988.5C513 989.6 518.9 990.6 524.6 991.4C530.3 992.2 536 992.8 541.6 993.2C547.2 993.6 552.8 993.9 558.4 994C563.9 994.1 569.5 994.1 575 993.9C580.6 993.7 586.1 993.4 591.6 992.9C597.2 992.4 602.7 991.8 608.2 991.1C613.7 990.4 619.3 989.5 624.8 988.6C630.4 987.7 635.9 986.7 641.5 985.7C647 984.6 655.4 983 658.2 982.4" fill="none" stroke="#000" stroke-width="3.7" stroke-linejoin="round" stroke-linecap="round"/>
<path d="M680.1 307.4C678.1 307.2 672.1 306.8 667.9 306.6C663.6 306.4 659.1 306.2 654.5 306.1C649.8 306.1 645 306.1 640.1 306.2C635.2 306.3 630.2 306.5 625.2 306.7C620.1 306.9 615.1 307.2 610 307.5C604.9 307.9 599.7 308.2 594.7 308.6C589.6 309 584.4 309.5 579.7 309.9C574.9 310.4 570.2 310.8 566.1 311.2C562.1 311.6 558.5 312 555.3 312.4C552.1 312.8 549.7 313.1 546.9 313.7C544 314.3 541.7 314.8 538.3 315.8C534.9 316.7 531.2 317.9 526.6 319.5C522 321 516.5 322.9 510.7 325.1C504.9 327.3 498.2 329.8 491.7 332.6C485.1 335.3 478.2 338.4 471.5 341.7C464.7 344.9 457.9 348.5 451.2 352.3C444.4 356.1 437.7 360.2 431 364.6C424.3 369 417.6 373.7 410.8 378.7C404.1 383.8 397.3 389.1 390.7 394.8C384 400.4 377.2 406.3 370.7 412.4C364.2 418.5 357.7 424.9 351.6 431.3C345.5 437.8 339.5 444.4 334 451C328.4 457.6 323.2 464.3 318.3 470.9C313.4 477.6 308.8 484.3 304.7 491C300.5 497.8 296.6 504.5 293.1 511.2C289.6 517.9 286.4 524.6 283.6 531.3C280.7 537.9 278.2 544.6 276 551.1C273.8 557.6 271.9 564 270.2 570.2C268.5 576.4 267.1 582.5 265.8 588.4C264.6 594.3 263.5 600 262.7 605.7C261.8 611.5 261 617.1 260.5 623C259.9 628.9 259.5 634.9 259.3 641.2C259 647.4 258.9 653.8 259 660.4C259.1 666.9 259.3 673.7 259.7 680.4C260.1 687.1 260.7 693.9 261.5 700.7C262.3 707.5 263.3 714.3 264.5 721.1C265.7 727.8 267.1 734.6 268.7 741.2C270.3 747.7 272.1 754.3 274 760.4C275.8 766.5 277.8 772.3 279.8 777.7C281.8 783.1 283.9 788.1 285.9 792.8C288 797.5 290.1 801.8 292.2 806C294.3 810.3 296.5 814.2 298.7 818.3C300.9 822.4 303.2 826.3 305.5 830.4C307.9 834.4 310.3 838.5 312.7 842.5C315.2 846.6 317.7 850.6 320.3 854.7C322.8 858.7 325.4 862.7 328.1 866.7C330.8 870.7 333.5 874.6 336.6 878.7C339.7 882.8 342.9 886.9 346.6 891.2C350.3 895.5 354.4 900 359 904.6C363.5 909.3 368.6 914.2 373.7 918.9C378.7 923.5 384.2 928.3 389.4 932.6C394.5 936.9 399.6 941 404.4 944.5C409.1 948.1 413.6 951.2 417.9 954.1C422.3 956.9 426.2 959.3 430.5 961.7C434.7 964.1 438.7 966.2 443.2 968.3C447.6 970.4 452.2 972.3 457.2 974.3C462.1 976.2 467.3 978.1 472.7 979.8C478.2 981.5 483.9 983.1 489.7 984.6C495.4 986 501.4 987.4 507.2 988.5C513 989.6 518.9 990.6 524.6 991.4C530.3 992.2 536 992.8 541.6 993.2C547.2 993.6 552.8 993.9 558.4 994C563.9 994.1 569.5 994.1 575 993.9C580.6 993.7 586.1 993.4 591.6 992.9C597.2 992.4 602.7 991.8 608.2 991.1C613.7 990.4 619.3 989.5 624.8 988.6C630.4 987.7 635.9 986.7 641.5 985.7C647 984.6 652.6 983.5 658.2 982.4C663.8 981.3 669.3 980.2 674.9 979.1C680.6 978 686.2 976.8 691.8 975.7C697.5 974.6 703.1 973.5 708.8 972.3C714.5 971.2 723.2 969.5 726 968.9" fill="none" stroke="#000" stroke-width="3.1" stroke-linejoin="round" stroke-linecap="round"/>
<ellipse cx="895" cy="317" rx="3.2" ry="2.4" transform="rotate(-20 895 317)" fill="#F49AC1" stroke="#000" stroke-width="1.7"/>
<ellipse cx="920.5" cy="306.5" rx="3.6" ry="2.8" transform="rotate(-20 920.5 306.5)" fill="#F49AC1" stroke="#000" stroke-width="1.7"/>
<ellipse cx="940" cy="301" rx="2.6" ry="2.2" transform="rotate(0 940 301)" fill="#F49AC1" stroke="#000" stroke-width="1.7"/>
<ellipse cx="957" cy="309.5" rx="3.2" ry="2.6" transform="rotate(30 957 309.5)" fill="#F49AC1" stroke="#000" stroke-width="1.7"/>
<ellipse cx="959.5" cy="293.7" rx="1.3" ry="1.3" transform="rotate(0 959.5 293.7)" fill="#000"/>
<ellipse cx="963.5" cy="293.7" rx="1.3" ry="1.3" transform="rotate(0 963.5 293.7)" fill="#000"/>
<ellipse cx="1006" cy="315.5" rx="3.4" ry="2.4" transform="rotate(-10 1006 315.5)" fill="#F49AC1" stroke="#000" stroke-width="1.7"/>
<ellipse cx="1020.7" cy="273" rx="5" ry="3.3" transform="rotate(-20 1020.7 273)" fill="#F49AC1" stroke="#000" stroke-width="1.7"/>
<ellipse cx="1035.8" cy="323" rx="4.5" ry="3" transform="rotate(-10 1035.8 323)" fill="#F49AC1" stroke="#000" stroke-width="1.7"/>
<ellipse cx="892.5" cy="459" rx="1.9" ry="1.9" transform="rotate(0 892.5 459)" fill="#000"/>
<ellipse cx="907.5" cy="454" rx="2.6" ry="2" transform="rotate(10 907.5 454)" fill="#F49AC1" stroke="#000" stroke-width="1.7"/>
<ellipse cx="924" cy="451" rx="3" ry="2.4" transform="rotate(30 924 451)" fill="#F49AC1" stroke="#000" stroke-width="1.7"/>
<ellipse cx="940" cy="457.5" rx="3" ry="2.6" transform="rotate(-30 940 457.5)" fill="#F49AC1" stroke="#000" stroke-width="1.7"/>
<ellipse cx="953" cy="455" rx="1.8" ry="1.8" transform="rotate(0 953 455)" fill="#000"/>
<ellipse cx="967.5" cy="451" rx="5" ry="2.6" transform="rotate(-15 967.5 451)" fill="#F49AC1" stroke="#000" stroke-width="1.7"/>
<ellipse cx="988" cy="444" rx="3" ry="2.8" transform="rotate(0 988 444)" fill="#F49AC1" stroke="#000" stroke-width="1.7"/>
<ellipse cx="986" cy="463" rx="4.5" ry="3" transform="rotate(-35 986 463)" fill="#F49AC1" stroke="#000" stroke-width="1.7"/>
<ellipse cx="1006" cy="467.5" rx="4.2" ry="3" transform="rotate(-25 1006 467.5)" fill="#F49AC1" stroke="#000" stroke-width="1.7"/>
<ellipse cx="1030" cy="471.7" rx="4" ry="3" transform="rotate(20 1030 471.7)" fill="#F49AC1" stroke="#000" stroke-width="1.7"/>
<ellipse cx="1024" cy="430" rx="3" ry="2.2" transform="rotate(10 1024 430)" fill="#F49AC1" stroke="#000" stroke-width="1.7"/>
<ellipse cx="912.5" cy="590" rx="3.2" ry="2.4" transform="rotate(0 912.5 590)" fill="#F49AC1" stroke="#000" stroke-width="1.7"/>
<ellipse cx="941" cy="592.5" rx="3.6" ry="2.4" transform="rotate(-20 941 592.5)" fill="#F49AC1" stroke="#000" stroke-width="1.7"/>
<ellipse cx="961.7" cy="595" rx="2.8" ry="2.2" transform="rotate(0 961.7 595)" fill="#F49AC1" stroke="#000" stroke-width="1.7"/>
<ellipse cx="976" cy="593" rx="1.4" ry="3" transform="rotate(0 976 593)" fill="#000"/>
<ellipse cx="990" cy="589" rx="2.6" ry="3" transform="rotate(-30 990 589)" fill="#F49AC1" stroke="#000" stroke-width="1.7"/>
<ellipse cx="1001" cy="599" rx="2.2" ry="3.4" transform="rotate(10 1001 599)" fill="#F49AC1" stroke="#000" stroke-width="1.7"/>
<ellipse cx="1037.5" cy="571.7" rx="3.8" ry="3" transform="rotate(0 1037.5 571.7)" fill="#F49AC1" stroke="#000" stroke-width="1.7"/>
<ellipse cx="1036" cy="614" rx="4.2" ry="3" transform="rotate(20 1036 614)" fill="#F49AC1" stroke="#000" stroke-width="1.7"/>
<ellipse cx="886" cy="718" rx="1.8" ry="1.8" transform="rotate(0 886 718)" fill="#000"/>
<ellipse cx="918" cy="719" rx="1.8" ry="1.8" transform="rotate(0 918 719)" fill="#000"/>
<ellipse cx="953" cy="718" rx="5" ry="2" transform="rotate(45 953 718)" fill="#F49AC1" stroke="#000" stroke-width="1.7"/>
<ellipse cx="972.5" cy="719" rx="3.6" ry="2.6" transform="rotate(-20 972.5 719)" fill="#F49AC1" stroke="#000" stroke-width="1.7"/>
<ellipse cx="993" cy="716.7" rx="2.8" ry="2.6" transform="rotate(0 993 716.7)" fill="#F49AC1" stroke="#000" stroke-width="1.7"/>
<ellipse cx="1001" cy="733" rx="4" ry="2.8" transform="rotate(20 1001 733)" fill="#F49AC1" stroke="#000" stroke-width="1.7"/>
<ellipse cx="1025" cy="701.7" rx="4.5" ry="2.8" transform="rotate(-25 1025 701.7)" fill="#F49AC1" stroke="#000" stroke-width="1.7"/>
<ellipse cx="1036" cy="738" rx="4" ry="2.4" transform="rotate(45 1036 738)" fill="#F49AC1" stroke="#000" stroke-width="1.7"/>
<ellipse cx="886" cy="834" rx="1.9" ry="1.9" transform="rotate(0 886 834)" fill="#000"/>
<ellipse cx="911" cy="835" rx="1.9" ry="1.9" transform="rotate(0 911 835)" fill="#000"/>
<ellipse cx="937.5" cy="836" rx="2.2" ry="2.2" transform="rotate(0 937.5 836)" fill="#000"/>
<ellipse cx="962.5" cy="826" rx="2.8" ry="2.4" transform="rotate(0 962.5 826)" fill="#F49AC1" stroke="#000" stroke-width="1.7"/>
<ellipse cx="969" cy="837.5" rx="5.5" ry="2.2" transform="rotate(-15 969 837.5)" fill="#F49AC1" stroke="#000" stroke-width="1.7"/>
<ellipse cx="989" cy="826" rx="2.4" ry="3.6" transform="rotate(-20 989 826)" fill="#F49AC1" stroke="#000" stroke-width="1.7"/>
<ellipse cx="993" cy="847.5" rx="2.8" ry="3.8" transform="rotate(-15 993 847.5)" fill="#F49AC1" stroke="#000" stroke-width="1.7"/>
<ellipse cx="1021.7" cy="856.7" rx="4.5" ry="3.2" transform="rotate(-40 1021.7 856.7)" fill="#F49AC1" stroke="#000" stroke-width="1.7"/>
<ellipse cx="1038" cy="813" rx="2.8" ry="3" transform="rotate(0 1038 813)" fill="#F49AC1" stroke="#000" stroke-width="1.7"/>
<ellipse cx="1036" cy="886.7" rx="4" ry="3.4" transform="rotate(10 1036 886.7)" fill="#F49AC1" stroke="#000" stroke-width="1.7"/>
<ellipse cx="882.5" cy="976.7" rx="2.2" ry="3" transform="rotate(-20 882.5 976.7)" fill="#F49AC1" stroke="#000" stroke-width="1.7"/>
<ellipse cx="897.5" cy="984" rx="3" ry="3" transform="rotate(0 897.5 984)" fill="#F49AC1" stroke="#000" stroke-width="1.7"/>
<ellipse cx="912.5" cy="982.5" rx="1.6" ry="2.2" transform="rotate(-30 912.5 982.5)" fill="#000"/>
<ellipse cx="923" cy="994" rx="1.8" ry="1.8" transform="rotate(0 923 994)" fill="#000"/>
<ellipse cx="936" cy="991" rx="2.2" ry="4" transform="rotate(-20 936 991)" fill="#000"/>
<ellipse cx="951.7" cy="988" rx="1.6" ry="2.6" transform="rotate(20 951.7 988)" fill="#000"/>
<ellipse cx="960" cy="1000.8" rx="4.5" ry="2.8" transform="rotate(25 960 1000.8)" fill="#F49AC1" stroke="#000" stroke-width="1.7"/>
<ellipse cx="979" cy="994" rx="2.6" ry="3.6" transform="rotate(30 979 994)" fill="#F49AC1" stroke="#000" stroke-width="1.7"/>
<ellipse cx="984" cy="1008" rx="4" ry="2.8" transform="rotate(35 984 1008)" fill="#F49AC1" stroke="#000" stroke-width="1.7"/>
<ellipse cx="1020.8" cy="980.8" rx="4.8" ry="3.2" transform="rotate(30 1020.8 980.8)" fill="#F49AC1" stroke="#000" stroke-width="1.7"/>
<ellipse cx="1018" cy="1028" rx="3" ry="4.4" transform="rotate(-15 1018 1028)" fill="#F49AC1" stroke="#000" stroke-width="1.7"/>
<ellipse cx="1025.8" cy="1050.8" rx="4.8" ry="3" transform="rotate(35 1025.8 1050.8)" fill="#F49AC1" stroke="#000" stroke-width="1.7"/>
<ellipse cx="1040.8" cy="539" rx="3.2" ry="2.4" transform="rotate(-10 1040.8 539)" fill="#F49AC1" stroke="#000" stroke-width="1.7"/>
<path d="M777.4 783.1C777.1 786.2 776.7 789.7 776.2 793.5C775.7 797.3 775.1 801.5 774.3 805.9C773.4 810.3 772.5 815.1 771.3 819.9C770.2 824.8 768.9 829.9 767.3 835C765.8 840 764.1 845.2 762.2 850.2C760.3 855.3 758.2 860.3 755.7 865.2C753.3 870 750.7 874.8 747.7 879.4C744.8 884 741.5 888.5 737.9 892.8C734.2 897.2 730.1 901.4 725.8 905.5C721.6 909.5 716.7 913.5 712.3 917.1C707.8 920.8 703.2 924.2 699.3 927.2C695.4 930.2 692 932.7 688.9 935C685.8 937.4 683.5 939.2 680.5 941.2C677.5 943.3 674.7 945.2 671 947.4C667.2 949.6 662.8 952.1 658 954.5C653.1 956.9 647.5 959.6 642 961.9C636.5 964.2 630.7 966.4 625.1 968.3C619.4 970.2 613.8 971.8 608.3 973.1C602.7 974.4 597.3 975.3 591.8 976.1C586.3 976.9 580.8 977.4 575.1 977.7C569.5 978.1 563.8 978.2 557.8 978.1C551.8 978.1 545.6 977.8 539.3 977.4C533 977 526.4 976.5 520.1 975.7C513.9 975 507.5 974 501.6 972.9C495.7 971.9 490.1 970.5 484.9 969.2C479.7 967.9 474.8 966.4 470.3 965C465.8 963.5 461.8 962.1 457.9 960.6C454 959.1 450.5 957.7 447 956.2C443.5 954.7 440.2 953.2 436.9 951.5C433.6 949.9 430.3 948.1 427.1 946.3C423.9 944.4 420.6 942.4 417.5 940.3C414.3 938.2 411.2 936 408.1 933.7C405 931.4 402 929 399 926.5C395.9 924 393 921.5 390 918.8C387 916.1 384 913.4 381 910.6C378 907.7 375 904.7 372 901.5C369 898.2 365.9 894.8 362.9 891.2C359.9 887.6 356.9 883.8 354 879.9C351 876 348.1 872 345.3 868C342.4 863.9 339.6 859.8 336.9 855.8C334.3 851.8 331.6 847.7 329.1 843.8C326.6 839.9 324.3 836 322 832.2C319.7 828.4 317.5 824.7 315.3 821C313.2 817.4 311.1 813.8 309.1 810.1C307 806.4 305 802.8 303 798.8C300.9 794.7 298.9 790.5 296.9 785.7C294.9 780.9 292.8 775.6 290.8 769.9C288.8 764.2 286.8 757.8 285 751.3C283.2 744.9 281.5 738 280 731.2C278.6 724.5 277.4 717.7 276.4 710.9C275.4 704.1 274.7 697.3 274.1 690.5C273.6 683.8 273.3 676.9 273.2 670.2C273 663.5 273.1 656.7 273.3 650.3C273.5 643.8 273.9 637.4 274.4 631.4C274.9 625.3 275.6 619.5 276.3 614C277 608.5 277.8 603.3 278.7 598.2C279.7 593.1 280.6 588.3 281.8 583.3C283 578.3 284.3 573.5 286 568.2C287.7 562.8 289.6 557.2 292 551C294.4 544.9 297.2 538.1 300.2 531.5C303.2 524.8 306.6 517.6 310 511C313.3 504.4 316.9 497.9 320.3 492.1C323.7 486.2 327.1 480.9 330.4 475.9C333.8 470.9 337 466.4 340.3 462.1C343.6 457.7 346.8 453.8 350.2 449.8C353.5 445.8 356.9 442.1 360.6 438.2C364.3 434.2 368.2 430.3 372.4 426.3C376.6 422.2 381.2 418 385.9 413.8C390.6 409.6 395.6 405.3 400.7 401.1C405.9 396.9 411.2 392.6 416.5 388.6C421.8 384.6 427.3 380.6 432.5 377C437.7 373.3 442.9 369.9 447.7 366.8C452.6 363.7 457.2 360.9 461.3 358.5C465.4 356.1 468.9 354.1 472.2 352.3C475.5 350.6 477.9 349.4 481 348.1C484 346.8 486.6 345.8 490.3 344.5C494.1 343.2 498.3 341.8 503.3 340.3C508.2 338.8 514.2 337 520 335.4C525.7 333.9 532 332.3 537.6 331.1C543.3 329.8 548.7 328.9 553.8 328.1C558.9 327.4 563.6 327 568.4 326.6C573.1 326.2 577.7 326.1 582.3 326C586.9 325.8 591.6 325.8 596 325.9C600.4 326 604.8 326.2 609 326.5C613.1 326.9 617 327.3 620.8 327.9C624.5 328.5 628.1 329.2 631.6 330C635.1 330.9 638.4 331.8 641.8 332.9C645.3 334.1 648.7 335.3 652.4 336.9C656.1 338.5 659.9 340.3 664.1 342.5C668.3 344.7 672.9 347.2 677.6 350C682.3 352.9 687.4 356.1 692.4 359.6C697.4 363.1 702.7 367 707.7 371C712.7 375.1 717.8 379.4 722.5 383.9C727.1 388.4 731.6 393.1 735.6 397.8C739.6 402.6 743.3 407.5 746.6 412.4C749.9 417.3 752.8 422.4 755.5 427.4C758.2 432.5 760.6 437.6 762.9 442.9C765.1 448.2 767.2 453.5 769.2 459.2C771.2 464.9 773 470.9 774.8 477.2C776.5 483.4 778.2 490.1 779.8 496.7C781.4 503.3 783.2 511.9 784.3 516.6C785.3 521.3 784.7 517.8 786 525C787.3 532.2 790.7 549.2 792 560C793.3 570.8 794.3 580.7 794 590C793.7 599.3 792 608.7 790 616C788 623.3 785.7 629.3 782 634C778.3 638.7 773.3 642.3 768 644C762.7 645.7 755.3 645.3 750 644C744.7 642.7 741 640 736 636C731 632 726 625 720 620C714 615 707.3 610.7 700 606C692.7 601.3 682.7 597 676 592C669.3 587 665.3 580.3 660 576C654.7 571.7 649.3 569.5 644 566C638.7 562.5 634.3 558.3 628 555C621.7 551.7 612.3 538.8 606 546C599.7 553.2 591 588 590 598C589 608 595 602.3 600 606C605 609.7 612.3 614.3 620 620C627.7 625.7 637.7 634 646 640C654.3 646 663.3 650 670 656C676.7 662 680.3 670 686 676C691.7 682 698.3 688 704 692C709.7 696 714 697.3 720 700C726 702.7 734 704.7 740 708C746 711.3 751.3 715.3 756 720C760.7 724.7 764.8 730 768 736C771.2 742 773.3 749.5 775 756C776.7 762.5 777.6 770.5 778 775C778.4 779.5 777.7 780 777.4 783.1Z" fill="#E6E6E6" stroke="#000" stroke-width="2.9" stroke-linejoin="round"/>
<path d="M554 467C561.2 466.1 565.8 467.7 571 470C576.2 472.3 580.5 476.5 585 481C589.5 485.5 593.8 491.7 598 497C602.2 502.3 605.7 508 610 513C614.3 518 622.3 526.4 624 526.8C625.7 527.2 620.8 519.4 620 515.4C619.2 511.4 620.2 506.8 619 503C617.8 499.2 613.7 496 612.6 492.8C611.5 489.6 611.5 486.7 612.6 484C613.7 481.3 615.9 478.8 619 476.5C622.1 474.2 627.5 472.1 631.5 470C635.5 467.9 639.9 466.3 642.8 464C645.7 461.7 647.3 457.9 649 456C650.7 454.1 651.5 452.7 653 452.5C654.5 452.3 656.5 454.2 658 455C659.5 455.8 660.5 456.4 661.7 457C662.9 457.6 664 457.8 665 458.5C666 459.2 666.9 460.1 668 461C669.1 461.9 670.5 462.8 671.5 464C672.5 465.2 673.2 466.5 674 468C674.8 469.5 676.6 471.3 676 473C675.4 474.7 672.4 476.3 670.5 478C668.6 479.7 664.4 481.9 664.5 483C664.6 484.1 666.6 484 671 484.5C675.4 485 685.9 485.9 690.6 486C695.3 486.1 697.2 485.8 699.4 485C701.5 484.2 702.1 482.1 703.5 481C704.9 479.9 706.1 478.5 707.5 478.5C708.9 478.5 710.6 479.8 712 481C713.4 482.2 714.8 484.4 716 486C717.2 487.6 718.1 488.7 719 490.5C719.9 492.3 720.8 494.4 721.5 497C722.2 499.6 723.1 502.7 723.5 506C723.9 509.3 724.3 514 724 517C723.7 520 722.7 522.8 721.5 524C720.3 525.2 719.2 525.4 717 524.5C714.8 523.6 711.3 519.8 708 518.5C704.7 517.2 700.7 516.8 697 516.7C693.3 516.6 688.8 517.4 685.6 518C682.4 518.6 680.5 518 678 520.5C675.5 523 673.4 528.6 670.5 533C667.6 537.4 663.8 542.7 660.4 546.9C657 551.1 653.5 555 650.4 558C647.3 561 646.7 564 642 565C637.3 566 628 564.8 622 564C616 563.2 610.2 560 606 560C601.8 560 597.7 557.2 596.6 564C595.5 570.8 599.5 590.1 599.5 601C599.5 611.9 598 620.5 596.6 629.5C595.2 638.5 589.9 649.4 591 655C592.1 660.6 598.7 661.5 603 663C607.3 664.5 612.1 665 616.6 663.7C621.1 662.4 626.4 658.1 630 655C633.6 651.9 635.8 647.2 638 645C640.2 642.8 641.6 640.3 643 642C644.4 643.7 646.3 650.7 646.5 655C646.7 659.3 645.7 664.2 644 668C642.3 671.8 639.2 675 636.5 678C633.8 681 630.1 684 628 686C625.9 688 623.7 687.5 624 690C624.3 692.5 627.7 698 630 701C632.3 704 633.8 705.4 638 708C642.2 710.6 647.4 713.9 655 716.7C662.6 719.5 674.5 720.8 683.5 725C692.5 729.2 701.4 734 709 742C716.6 750 724 762.2 729 773C734 783.8 738.3 795.7 738.8 807C739.2 818.3 736.7 829.7 731.7 841C726.7 852.3 718.5 865 709 875C699.5 885 687.3 894.3 675 901C662.7 907.7 648.2 912.2 635 915C621.8 917.8 608.9 919.4 595.7 918C582.5 916.6 568.3 912.2 556 906.5C543.7 900.8 532.9 893 522 884C511.1 875 500.3 863.6 490.8 852.7C481.3 841.8 472.6 831 465 818.7C457.4 806.4 451.6 792.3 445.5 779C439.4 765.7 433.2 749.7 428.5 739C423.8 728.3 419.9 726.2 417 715C414.1 703.8 410.9 686.2 411.4 672C411.9 657.8 415.7 645.2 420 629.5C424.3 613.8 429.9 593.7 437 578C444.1 562.3 453.2 548.7 462.7 535.4C472.2 522.1 483.1 508.4 494 498.4C504.9 488.4 518 480.8 528 475.6C538 470.4 546.8 467.9 554 467Z" fill="#FDE8F0" stroke="#000" stroke-width="2.4" stroke-linejoin="round"/>
<path d="M499 742C502.2 740.8 512.3 737.8 518 735C523.7 732.2 527.2 730 533 725C538.8 720 547.3 710.2 553 705C558.7 699.8 560.8 696.3 567 694C573.2 691.7 581.5 691.5 590 691C598.5 690.5 613.3 691 618 691" fill="none" stroke="#000" stroke-width="2.2" stroke-linecap="round"/>
<path d="M550 711C549.3 713.7 546.9 721.3 546 727C545.1 732.7 544.9 742 544.7 745" fill="none" stroke="#000" stroke-width="1.4" stroke-linecap="round"/>
<path d="M508 678C512.8 675.6 528 667.5 536.6 663.7C545.2 659.9 552.9 656.5 559.6 655C566.3 653.5 571.3 653.7 577 655C582.7 656.3 591.2 661.7 594 663" fill="none" stroke="#000" stroke-width="2.2" stroke-linecap="round"/>
<path d="M552 758C551.2 759.7 547.2 764.3 547 768C546.8 771.7 548.7 777.2 551 780C553.3 782.8 558 784.7 561 785C564 785.3 567.7 782.5 569 782" fill="none" stroke="#000" stroke-width="1.6" stroke-linecap="round"/>
<ellipse cx="621" cy="730" rx="9" ry="5.5" transform="rotate(-40 621 730)" fill="none" stroke="#555" stroke-width="1.6" stroke-dasharray="2 1.5"/>
<path d="M664.5 483C668 484 673 486.5 674 490C674.5 493 672 494.5 669 494C664 493 659 492 655 494C651 497 648 503 645 508C641 513 634 518 626.5 522" fill="none" stroke="#000" stroke-width="2.0" stroke-linecap="round"/>
<path d="M656.6 465L660.4 457.6M661.7 469L666.7 461.4M665.4 474L671.7 466.4" fill="none" stroke="#000" stroke-width="1.8" stroke-linecap="round"/>
<path d="M705.7 489L714.5 484M708 496.6L718 492.8M709.5 505.4L720.8 502.9M707 513L720.8 514" fill="none" stroke="#000" stroke-width="1.8" stroke-linecap="round"/>
<path d="M722.7 771.1C724.3 776 731.6 789.3 732.5 800.3C733.4 811.3 732.7 825.4 728.3 837.2C723.9 849 715.3 861.3 706 871.1C696.8 880.9 684.9 889.8 672.9 896.2C661 902.6 647 906.9 634.2 909.6C621.4 912.3 608.9 913.9 596.2 912.5C583.4 911.2 569.3 906.6 557.7 901.5C546.2 896.3 536.2 889.2 526.7 881.7C517.1 874.2 507.8 865 500.2 856.6C492.7 848.2 484.6 835.6 481.5 831.4" fill="none" stroke="#222" stroke-width="1.4" stroke-dasharray="1.2 2.2" stroke-linecap="round"/>
<path d="M729.5 800.5C728.8 806.5 729.7 825 725.4 836.5C721 848 712.5 860 703.5 869.5C694.5 879 682.8 887.6 671.2 893.8C659.5 899.9 645.9 904 633.5 906.7C621 909.3 608.9 910.9 596.6 909.6C584.2 908.3 570.5 903.8 559.2 898.9C548 893.9 538.3 887 528.9 879.8C519.6 872.5 507.3 859.5 503 855.5" fill="none" stroke="#222" stroke-width="1.3" stroke-dasharray="1.2 3.1" stroke-linecap="round"/>
<path d="M726.5 800.8C725.8 806.6 726.7 824.7 722.4 835.9C718.2 847.1 709.8 858.7 701 867.9C692.1 877.1 680.8 885.4 669.4 891.3C658 897.3 644.8 901.2 632.8 903.8C620.7 906.3 609 907.8 597 906.6C585 905.3 571.7 901 560.7 896.3C549.8 891.5 536.1 880.9 531.2 877.8" fill="none" stroke="#222" stroke-width="1.2" stroke-dasharray="1.1 4.3" stroke-linecap="round"/>
<path d="M719 835.1C715.5 840.2 706.6 857.1 698 866C689.4 874.9 678.3 882.8 667.3 888.5C656.3 894.2 643.6 897.9 631.9 900.4C620.3 902.8 609 904.3 597.4 903.1C585.9 901.9 568.3 894.9 562.4 893.2" fill="none" stroke="#222" stroke-width="1.1" stroke-dasharray="1.1 6.1" stroke-linecap="round"/>
<path d="M715.1 834.2C711.7 839.1 703 855.4 694.7 863.9C686.3 872.4 675.6 879.8 665 885.3C654.4 890.7 642.2 894.2 631 896.5C619.8 898.8 603.5 898.7 598 899.2" fill="none" stroke="#222" stroke-width="1.0" stroke-dasharray="1 8.3" stroke-linecap="round"/>
<path d="M498 580C501 578.3 509 571.8 516 570C523 568.2 533.3 567.7 540 569C546.7 570.3 553.3 576.5 556 578" fill="none" stroke="#444" stroke-width="1.2" stroke-dasharray="1.2 2.8" stroke-linecap="round"/>
<path d="M503 591C506 589.3 514 582.8 521 581C528 579.2 538.3 578.7 545 580C551.7 581.3 558.3 587.5 561 589" fill="none" stroke="#444" stroke-width="1.2" stroke-dasharray="1.2 2.8" stroke-linecap="round"/>
<path d="M507 603C510 601.3 518 594.8 525 593C532 591.2 542.3 590.7 549 592C555.7 593.3 562.3 599.5 565 601" fill="none" stroke="#444" stroke-width="1.2" stroke-dasharray="1.2 2.8" stroke-linecap="round"/>
<path d="M510 615C513 613.3 521 606.8 528 605C535 603.2 545.3 602.7 552 604C558.7 605.3 565.3 611.5 568 613" fill="none" stroke="#444" stroke-width="1.2" stroke-dasharray="1.2 2.8" stroke-linecap="round"/>
<path d="M512 627C515 625.3 523 618.8 530 617C537 615.2 547.3 614.7 554 616C560.7 617.3 567.3 623.5 570 625" fill="none" stroke="#444" stroke-width="1.2" stroke-dasharray="1.2 2.8" stroke-linecap="round"/>
<path d="M513 639C516 637.3 524 630.8 531 629C538 627.2 548.3 626.7 555 628C561.7 629.3 568.3 635.5 571 637" fill="none" stroke="#444" stroke-width="1.2" stroke-dasharray="1.2 2.8" stroke-linecap="round"/>
<path d="M512 651C515 649.3 523 642.8 530 641C537 639.2 547.3 638.7 554 640C560.7 641.3 567.3 647.5 570 649" fill="none" stroke="#444" stroke-width="1.2" stroke-dasharray="1.2 2.8" stroke-linecap="round"/>
<path d="M447 690C447.8 694.3 448.8 708 452 716C455.2 724 460.3 732.7 466 738C471.7 743.3 480.3 746.8 486 748C491.7 749.2 497.7 745.5 500 745" fill="none" stroke="#333" stroke-width="1.2" stroke-dasharray="1.2 2.8" stroke-linecap="round"/>
<path d="M496 742L504 741L498 760Z" fill="#555" stroke="none" stroke-width="0" />
<path d="M499 745C498.5 748.3 496.8 759.2 496 765C495.2 770.8 494.3 777.5 494 780" fill="none" stroke="#222" stroke-width="1.2" stroke-dasharray="1 2.5" stroke-linecap="round"/>
<path d="M548 528C550.3 530 557 536 562 540C567 544 573 548.7 578 552C583 555.3 589.7 558.7 592 560" fill="none" stroke="#222" stroke-width="1.4" stroke-dasharray="1.3 2.2" stroke-linecap="round"/>
<path d="M552 522C554.3 524 561 530 566 534C571 538 577 542.3 582 546C587 549.7 593.7 554.3 596 556" fill="none" stroke="#222" stroke-width="1.2" stroke-dasharray="1.3 3.2" stroke-linecap="round"/>
<path d="M585 560C586.2 562.5 590.2 570 592 575C593.8 580 595.3 587.5 596 590" fill="none" stroke="#222" stroke-width="1.3" stroke-dasharray="1.2 2.4" stroke-linecap="round"/>
<path d="M601 527L607 530L612 532L618 533" fill="none" stroke="#000" stroke-width="1.6" stroke-dasharray="2 1.5"/>
<path d="M628 479L636 477L644 474" fill="none" stroke="#333" stroke-width="1.2" stroke-dasharray="1.5 1.5"/>
<g transform="translate(2 8) scale(1.0)">
<path d="M599 655C600 645 605 633 611 626C615 624 617 628 615 634C612 642 609 652 606 661" fill="#FDE8F0" stroke="#000" stroke-width="1.6" />
<path d="M602 646L611 643M605 637L613 635M600 654L608 652" fill="none" stroke="#000" stroke-width="1.1" />
</g>
<path d="M622 672L633 668M625 679L634 676" fill="none" stroke="#000" stroke-width="1.2" stroke-linecap="round"/>
<path d="M584 698L578 704" fill="none" stroke="#000" stroke-width="1.4" stroke-linecap="round"/>
<path d="M628 726C630 725.3 634.7 722.7 640 722C645.3 721.3 653 721 660 722C667 723 675.3 725.3 682 728C688.7 730.7 697 736.3 700 738" fill="none" stroke="#333" stroke-width="1.1" stroke-dasharray="1.1 3.2" stroke-linecap="round"/>
<path d="M565.7 540C567.8 541.8 574 547.7 578 551C582 554.3 587 557.4 589.8 559.6C592.6 561.8 594.1 563.3 595 564" fill="none" stroke="#000" stroke-width="2.0" stroke-linecap="round"/>
<clipPath id="blockclip"><path d="M690 207.5H1148V604L1152.6 612L1151.5 624L1148 637V1092L1065 1088L1030 1084.5L1012 1080L1006 1076L880 1062L798 1051L690 1060Z"/></clipPath>
<g clip-path="url(#blockclip)">
<path d="M1062 200C1063 202.3 1065 210.3 1068 214C1071 217.7 1076 219 1080 222C1084 225 1088.5 227.3 1092 232C1095.5 236.7 1098.7 243.1 1101 250.3C1103.3 257.5 1106.4 266.2 1106 275.4C1105.6 284.6 1102.8 296.4 1098.6 305.6C1094.4 314.8 1087.3 322.4 1081 330.8C1074.7 339.2 1066 346.3 1061 355.9C1056 365.5 1052.9 376.9 1050.9 388.6C1048.9 400.3 1048.2 414.4 1049 426.3C1049.8 438.2 1053.2 450.2 1056 460C1058.8 469.8 1062 477.5 1066 485C1070 492.5 1076 498.8 1080 505C1084 511.2 1088.3 519.2 1090 522" fill="none" stroke="#000" stroke-width="22.0" stroke-linecap="butt" stroke-linejoin="round"/>
<path d="M1078 508C1079.9 512.5 1084.6 525.6 1089.5 535.3C1094.4 545 1101.5 555.7 1107.5 566C1113.5 576.3 1119.9 589.3 1125.5 597C1131.1 604.7 1135.9 608.2 1141 612C1146.1 615.8 1153.5 618.7 1156 620" fill="none" stroke="#000" stroke-width="25.5" stroke-linecap="butt" stroke-linejoin="round"/>
<path d="M1158 630C1156.2 628.7 1152.8 625.5 1147 622C1141.2 618.5 1130.8 610.8 1123 609C1115.2 607.2 1107 608.5 1100 611.5C1093 614.5 1086.2 620.2 1081 627C1075.8 633.8 1071.7 640.9 1068.5 652C1065.3 663.1 1062.8 681.3 1062 693.7C1061.2 706.1 1061.5 716.8 1063.4 726.4C1065.3 736 1068.9 742.7 1073.5 751.6C1078.1 760.5 1086 771.9 1091 780C1096 788.1 1099.9 792.5 1103.7 800C1107.5 807.5 1111.7 815.8 1113.7 825C1115.8 834.2 1117.3 844.5 1116 855C1114.7 865.5 1111 877.5 1106 888C1101 898.5 1092.7 908.8 1086 918C1079.3 927.2 1071.8 933.3 1066 943C1060.2 952.7 1053.9 964.2 1050.9 976C1047.9 987.8 1047.2 1001.1 1048 1013.7C1048.8 1026.3 1052.6 1040.1 1056 1051.4C1059.4 1062.7 1065.2 1073.5 1068.5 1081.6C1071.8 1089.7 1074.8 1096.9 1076 1100" fill="none" stroke="#000" stroke-width="22.0" stroke-linecap="butt" stroke-linejoin="round"/>
<path d="M1072 233C1068.3 232.5 1055.7 229.7 1050 230C1044.3 230.3 1042 234.7 1038 235C1034 235.3 1029.7 231.8 1026 232C1022.3 232.2 1017.7 235.3 1016 236" fill="none" stroke="#000" stroke-width="11.0" stroke-linecap="butt" stroke-linejoin="round"/>
<path d="M1056 352C1054 352 1047.3 351 1044 352C1040.7 353 1038.7 356 1036 358C1033.3 360 1030.7 362.5 1028 364C1025.3 365.5 1021.3 366.5 1020 367" fill="none" stroke="#000" stroke-width="11.0" stroke-linecap="butt" stroke-linejoin="round"/>
<path d="M1079 491C1077.2 492.3 1071.5 496.2 1068 499C1064.5 501.8 1061.3 505.3 1058 508C1054.7 510.7 1051 513.3 1048 515C1045 516.7 1042.5 516.8 1040 518C1037.5 519.2 1034.2 521.3 1033 522" fill="none" stroke="#000" stroke-width="11.0" stroke-linecap="butt" stroke-linejoin="round"/>
<path d="M1060 662C1058.3 661.7 1052.8 661.2 1050 660C1047.2 658.8 1045.3 655.3 1043 655C1040.7 654.7 1038.2 658.2 1036 658C1033.8 657.8 1031 654.7 1030 654" fill="none" stroke="#000" stroke-width="11.0" stroke-linecap="butt" stroke-linejoin="round"/>
<path d="M1078 754C1075.3 755 1067.3 758.7 1062 760C1056.7 761.3 1051.3 760.7 1046 762C1040.7 763.3 1035 766.3 1030 768C1025 769.7 1018.3 771.3 1016 772" fill="none" stroke="#000" stroke-width="11.0" stroke-linecap="butt" stroke-linejoin="round"/>
<path d="M1058 943C1056 942.8 1049.3 943.3 1046 942C1042.7 940.7 1041 936.3 1038 935C1035 933.7 1031.7 935.2 1028 934C1024.3 932.8 1018 929 1016 928" fill="none" stroke="#000" stroke-width="11.0" stroke-linecap="butt" stroke-linejoin="round"/>
<path d="M1062 200C1063 202.3 1065 210.3 1068 214C1071 217.7 1076 219 1080 222C1084 225 1088.5 227.3 1092 232C1095.5 236.7 1098.7 243.1 1101 250.3C1103.3 257.5 1106.4 266.2 1106 275.4C1105.6 284.6 1102.8 296.4 1098.6 305.6C1094.4 314.8 1087.3 322.4 1081 330.8C1074.7 339.2 1066 346.3 1061 355.9C1056 365.5 1052.9 376.9 1050.9 388.6C1048.9 400.3 1048.2 414.4 1049 426.3C1049.8 438.2 1053.2 450.2 1056 460C1058.8 469.8 1062 477.5 1066 485C1070 492.5 1076 498.8 1080 505C1084 511.2 1088.3 519.2 1090 522" fill="none" stroke="#EC008C" stroke-width="18" stroke-linecap="butt" stroke-linejoin="round"/>
<path d="M1078 508C1079.9 512.5 1084.6 525.6 1089.5 535.3C1094.4 545 1101.5 555.7 1107.5 566C1113.5 576.3 1119.9 589.3 1125.5 597C1131.1 604.7 1135.9 608.2 1141 612C1146.1 615.8 1153.5 618.7 1156 620" fill="none" stroke="#EC008C" stroke-width="21.5" stroke-linecap="butt" stroke-linejoin="round"/>
<path d="M1158 630C1156.2 628.7 1152.8 625.5 1147 622C1141.2 618.5 1130.8 610.8 1123 609C1115.2 607.2 1107 608.5 1100 611.5C1093 614.5 1086.2 620.2 1081 627C1075.8 633.8 1071.7 640.9 1068.5 652C1065.3 663.1 1062.8 681.3 1062 693.7C1061.2 706.1 1061.5 716.8 1063.4 726.4C1065.3 736 1068.9 742.7 1073.5 751.6C1078.1 760.5 1086 771.9 1091 780C1096 788.1 1099.9 792.5 1103.7 800C1107.5 807.5 1111.7 815.8 1113.7 825C1115.8 834.2 1117.3 844.5 1116 855C1114.7 865.5 1111 877.5 1106 888C1101 898.5 1092.7 908.8 1086 918C1079.3 927.2 1071.8 933.3 1066 943C1060.2 952.7 1053.9 964.2 1050.9 976C1047.9 987.8 1047.2 1001.1 1048 1013.7C1048.8 1026.3 1052.6 1040.1 1056 1051.4C1059.4 1062.7 1065.2 1073.5 1068.5 1081.6C1071.8 1089.7 1074.8 1096.9 1076 1100" fill="none" stroke="#EC008C" stroke-width="18" stroke-linecap="butt" stroke-linejoin="round"/>
<path d="M1072 233C1068.3 232.5 1055.7 229.7 1050 230C1044.3 230.3 1042 234.7 1038 235C1034 235.3 1029.7 231.8 1026 232C1022.3 232.2 1017.7 235.3 1016 236" fill="none" stroke="#EC008C" stroke-width="7" stroke-linecap="butt" stroke-linejoin="round"/>
<path d="M1056 352C1054 352 1047.3 351 1044 352C1040.7 353 1038.7 356 1036 358C1033.3 360 1030.7 362.5 1028 364C1025.3 365.5 1021.3 366.5 1020 367" fill="none" stroke="#EC008C" stroke-width="7" stroke-linecap="butt" stroke-linejoin="round"/>
<path d="M1079 491C1077.2 492.3 1071.5 496.2 1068 499C1064.5 501.8 1061.3 505.3 1058 508C1054.7 510.7 1051 513.3 1048 515C1045 516.7 1042.5 516.8 1040 518C1037.5 519.2 1034.2 521.3 1033 522" fill="none" stroke="#EC008C" stroke-width="7" stroke-linecap="butt" stroke-linejoin="round"/>
<path d="M1060 662C1058.3 661.7 1052.8 661.2 1050 660C1047.2 658.8 1045.3 655.3 1043 655C1040.7 654.7 1038.2 658.2 1036 658C1033.8 657.8 1031 654.7 1030 654" fill="none" stroke="#EC008C" stroke-width="7" stroke-linecap="butt" stroke-linejoin="round"/>
<path d="M1078 754C1075.3 755 1067.3 758.7 1062 760C1056.7 761.3 1051.3 760.7 1046 762C1040.7 763.3 1035 766.3 1030 768C1025 769.7 1018.3 771.3 1016 772" fill="none" stroke="#EC008C" stroke-width="7" stroke-linecap="butt" stroke-linejoin="round"/>
<path d="M1058 943C1056 942.8 1049.3 943.3 1046 942C1042.7 940.7 1041 936.3 1038 935C1035 933.7 1031.7 935.2 1028 934C1024.3 932.8 1018 929 1016 928" fill="none" stroke="#EC008C" stroke-width="7" stroke-linecap="butt" stroke-linejoin="round"/>
<path d="M1092 195C1091 197 1088.8 202 1086 207C1083.2 212 1077.7 218.7 1075 225C1072.3 231.3 1071.5 236.7 1070 245C1068.5 253.3 1066.3 266.7 1066 275C1065.7 283.3 1066.8 289.1 1068 295C1069.2 300.9 1070.5 303 1073.5 310.6C1076.5 318.2 1081.8 329.9 1086 340.8C1090.2 351.7 1095.6 363.9 1098.6 376C1101.5 388.1 1103.6 401.1 1103.7 413.7C1103.8 426.3 1101.1 440.3 1099 451.4C1096.9 462.4 1093.7 471.1 1091 480C1088.3 488.9 1085.7 496.7 1083 505C1080.3 513.3 1077.2 518.8 1075 530C1072.8 541.2 1070.7 559.5 1070 572C1069.3 584.5 1070 595.8 1071 605C1072 614.2 1073.8 620.3 1076 627.5C1078.2 634.7 1081.3 639.9 1084 648C1086.7 656.1 1089.3 668.2 1092 676C1094.7 683.8 1097 689.7 1100 695C1103 700.3 1108.3 705.8 1110 708" fill="none" stroke="#000" stroke-width="21.0" stroke-linecap="round" stroke-linejoin="round"/>
<path d="M1104 700C1105.6 701.8 1109.4 708.3 1113.7 711C1118 713.7 1122.3 714.3 1130 716C1137.7 717.7 1155 720.2 1160 721" fill="none" stroke="#000" stroke-width="19.3" stroke-linecap="round" stroke-linejoin="round"/>
<path d="M1112 704C1111.2 707.5 1108.8 718.3 1107 725C1105.2 731.7 1104.2 737.3 1101 744C1097.8 750.7 1091.5 758.2 1088 765C1084.5 771.8 1082.7 777.5 1080 785C1077.3 792.5 1074.3 801.2 1072 810C1069.7 818.8 1067 826.8 1066 837.7C1065 848.6 1064.3 862.9 1066 875.4C1067.7 887.9 1071 900.4 1076 913C1081 925.6 1091 938.4 1096 951C1101 963.6 1104.7 976.1 1106 988.6C1107.3 1001.1 1106.2 1013.4 1103.7 1026C1101.2 1038.6 1095.6 1053.5 1091 1064C1086.4 1074.5 1079.5 1083 1076 1089C1072.5 1095 1071 1098.2 1070 1100" fill="none" stroke="#000" stroke-width="21.0" stroke-linecap="round" stroke-linejoin="round"/>
<path d="M1064 293C1060 293 1048.2 292.5 1040 293C1031.8 293.5 1023 294.8 1015 296C1007 297.2 995.8 299.3 992 300" fill="none" stroke="#000" stroke-width="14.5" stroke-linecap="round" stroke-linejoin="round"/>
<path d="M1096 441C1091.7 441.2 1079.3 441.5 1070 442C1060.7 442.5 1050.3 442.8 1040 444C1029.7 445.2 1013.3 448.2 1008 449" fill="none" stroke="#000" stroke-width="14.5" stroke-linecap="round" stroke-linejoin="round"/>
<path d="M1068 588C1064.2 588.2 1051.3 588.3 1045 589C1038.7 589.7 1034.7 591 1030 592C1025.3 593 1019.2 594.5 1017 595" fill="none" stroke="#000" stroke-width="14.5" stroke-linecap="round" stroke-linejoin="round"/>
<path d="M1094 690C1091 691.8 1083.3 697.3 1076 701C1068.7 704.7 1057.7 709.2 1050 712C1042.3 714.8 1036.2 716.3 1030 718C1023.8 719.7 1015.8 721.3 1013 722" fill="none" stroke="#000" stroke-width="14.5" stroke-linecap="round" stroke-linejoin="round"/>
<path d="M1064 837.7C1060 837.7 1048.7 837.7 1040 837.7C1031.3 837.8 1016.7 838 1012 838" fill="none" stroke="#000" stroke-width="14.5" stroke-linecap="round" stroke-linejoin="round"/>
<path d="M1103 1003.7C1097.5 1003.7 1082.2 1003.7 1070 1003.7C1057.8 1003.7 1041.7 1003.7 1030 1003.7C1018.3 1003.8 1005 1004 1000 1004" fill="none" stroke="#000" stroke-width="15.0" stroke-linecap="round" stroke-linejoin="round"/>
<path d="M1092 195C1091 197 1088.8 202 1086 207C1083.2 212 1077.7 218.7 1075 225C1072.3 231.3 1071.5 236.7 1070 245C1068.5 253.3 1066.3 266.7 1066 275C1065.7 283.3 1066.8 289.1 1068 295C1069.2 300.9 1070.5 303 1073.5 310.6C1076.5 318.2 1081.8 329.9 1086 340.8C1090.2 351.7 1095.6 363.9 1098.6 376C1101.5 388.1 1103.6 401.1 1103.7 413.7C1103.8 426.3 1101.1 440.3 1099 451.4C1096.9 462.4 1093.7 471.1 1091 480C1088.3 488.9 1085.7 496.7 1083 505C1080.3 513.3 1077.2 518.8 1075 530C1072.8 541.2 1070.7 559.5 1070 572C1069.3 584.5 1070 595.8 1071 605C1072 614.2 1073.8 620.3 1076 627.5C1078.2 634.7 1081.3 639.9 1084 648C1086.7 656.1 1089.3 668.2 1092 676C1094.7 683.8 1097 689.7 1100 695C1103 700.3 1108.3 705.8 1110 708" fill="none" stroke="#848484" stroke-width="17" stroke-linecap="round" stroke-linejoin="round"/>
<path d="M1104 700C1105.6 701.8 1109.4 708.3 1113.7 711C1118 713.7 1122.3 714.3 1130 716C1137.7 717.7 1155 720.2 1160 721" fill="none" stroke="#848484" stroke-width="15.3" stroke-linecap="round" stroke-linejoin="round"/>
<path d="M1112 704C1111.2 707.5 1108.8 718.3 1107 725C1105.2 731.7 1104.2 737.3 1101 744C1097.8 750.7 1091.5 758.2 1088 765C1084.5 771.8 1082.7 777.5 1080 785C1077.3 792.5 1074.3 801.2 1072 810C1069.7 818.8 1067 826.8 1066 837.7C1065 848.6 1064.3 862.9 1066 875.4C1067.7 887.9 1071 900.4 1076 913C1081 925.6 1091 938.4 1096 951C1101 963.6 1104.7 976.1 1106 988.6C1107.3 1001.1 1106.2 1013.4 1103.7 1026C1101.2 1038.6 1095.6 1053.5 1091 1064C1086.4 1074.5 1079.5 1083 1076 1089C1072.5 1095 1071 1098.2 1070 1100" fill="none" stroke="#848484" stroke-width="17" stroke-linecap="round" stroke-linejoin="round"/>
<path d="M1064 293C1060 293 1048.2 292.5 1040 293C1031.8 293.5 1023 294.8 1015 296C1007 297.2 995.8 299.3 992 300" fill="none" stroke="#848484" stroke-width="10.5" stroke-linecap="round" stroke-linejoin="round"/>
<path d="M1096 441C1091.7 441.2 1079.3 441.5 1070 442C1060.7 442.5 1050.3 442.8 1040 444C1029.7 445.2 1013.3 448.2 1008 449" fill="none" stroke="#848484" stroke-width="10.5" stroke-linecap="round" stroke-linejoin="round"/>
<path d="M1068 588C1064.2 588.2 1051.3 588.3 1045 589C1038.7 589.7 1034.7 591 1030 592C1025.3 593 1019.2 594.5 1017 595" fill="none" stroke="#848484" stroke-width="10.5" stroke-linecap="round" stroke-linejoin="round"/>
<path d="M1094 690C1091 691.8 1083.3 697.3 1076 701C1068.7 704.7 1057.7 709.2 1050 712C1042.3 714.8 1036.2 716.3 1030 718C1023.8 719.7 1015.8 721.3 1013 722" fill="none" stroke="#848484" stroke-width="10.5" stroke-linecap="round" stroke-linejoin="round"/>
<path d="M1064 837.7C1060 837.7 1048.7 837.7 1040 837.7C1031.3 837.8 1016.7 838 1012 838" fill="none" stroke="#848484" stroke-width="10.5" stroke-linecap="round" stroke-linejoin="round"/>
<path d="M1103 1003.7C1097.5 1003.7 1082.2 1003.7 1070 1003.7C1057.8 1003.7 1041.7 1003.7 1030 1003.7C1018.3 1003.8 1005 1004 1000 1004" fill="none" stroke="#848484" stroke-width="11" stroke-linecap="round" stroke-linejoin="round"/>
<path d="M1095.5 195C1094.5 197 1092.3 202 1089.5 207C1086.7 212 1081.2 218.7 1078.5 225C1075.8 231.3 1075 236.7 1073.5 245C1072 253.3 1069.8 266.7 1069.5 275C1069.2 283.3 1070.2 289.1 1071.5 295C1072.8 300.9 1074 303 1077 310.6C1080 318.2 1085.3 329.9 1089.5 340.8C1093.7 351.7 1099.1 363.9 1102.1 376C1105 388.1 1107.1 401.1 1107.2 413.7C1107.3 426.3 1104.6 440.3 1102.5 451.4C1100.4 462.4 1097.2 471.1 1094.5 480C1091.8 488.9 1089.2 496.7 1086.5 505C1083.8 513.3 1080.7 518.8 1078.5 530C1076.3 541.2 1074.2 559.5 1073.5 572C1072.8 584.5 1073.5 595.8 1074.5 605C1075.5 614.2 1077.3 620.3 1079.5 627.5C1081.7 634.7 1084.8 639.9 1087.5 648C1090.2 656.1 1092.8 668.2 1095.5 676C1098.2 683.8 1100.5 689.7 1103.5 695C1106.5 700.3 1111.8 705.8 1113.5 708" fill="none" stroke="#222" stroke-width="1.3" stroke-dasharray="2.5 2 1 2" opacity="0.8"/>
<path d="M1115.5 704C1114.7 707.5 1112.3 718.3 1110.5 725C1108.7 731.7 1107.7 737.3 1104.5 744C1101.3 750.7 1095 758.2 1091.5 765C1088 771.8 1086.2 777.5 1083.5 785C1080.8 792.5 1077.8 801.2 1075.5 810C1073.2 818.8 1070.5 826.8 1069.5 837.7C1068.5 848.6 1067.8 862.9 1069.5 875.4C1071.2 887.9 1074.5 900.4 1079.5 913C1084.5 925.6 1094.5 938.4 1099.5 951C1104.5 963.6 1108.2 976.1 1109.5 988.6C1110.8 1001.1 1109.7 1013.4 1107.2 1026C1104.7 1038.6 1099.1 1053.5 1094.5 1064C1089.9 1074.5 1083 1083 1079.5 1089C1076 1095 1074.5 1098.2 1073.5 1100" fill="none" stroke="#222" stroke-width="1.3" stroke-dasharray="2.5 2 1 2" opacity="0.8"/>
<path d="M1092 232C1093.5 235.1 1098.7 243.1 1101 250.3C1103.3 257.5 1106.4 266.2 1106 275.4C1105.6 284.6 1102.8 296.4 1098.6 305.6C1094.4 314.8 1087.3 322.4 1081 330.8C1074.7 339.2 1066 346.3 1061 355.9C1056 365.5 1052.9 376.9 1050.9 388.6C1048.9 400.3 1048.2 414.4 1049 426.3C1049.8 438.2 1053.2 450.2 1056 460C1058.8 469.8 1064.3 480.8 1066 485" fill="none" stroke="#000" stroke-width="22.0" stroke-linecap="butt" stroke-linejoin="round"/>
<path d="M1056 352C1054 352 1047.3 351 1044 352C1040.7 353 1038.7 356 1036 358C1033.3 360 1030.7 362.5 1028 364C1025.3 365.5 1021.3 366.5 1020 367" fill="none" stroke="#000" stroke-width="11.0" stroke-linecap="butt" stroke-linejoin="round"/>
<path d="M1092 232C1093.5 235.1 1098.7 243.1 1101 250.3C1103.3 257.5 1106.4 266.2 1106 275.4C1105.6 284.6 1102.8 296.4 1098.6 305.6C1094.4 314.8 1087.3 322.4 1081 330.8C1074.7 339.2 1066 346.3 1061 355.9C1056 365.5 1052.9 376.9 1050.9 388.6C1048.9 400.3 1048.2 414.4 1049 426.3C1049.8 438.2 1053.2 450.2 1056 460C1058.8 469.8 1064.3 480.8 1066 485" fill="none" stroke="#EC008C" stroke-width="18" stroke-linecap="butt" stroke-linejoin="round"/>
<path d="M1056 352C1054 352 1047.3 351 1044 352C1040.7 353 1038.7 356 1036 358C1033.3 360 1030.7 362.5 1028 364C1025.3 365.5 1021.3 366.5 1020 367" fill="none" stroke="#EC008C" stroke-width="7" stroke-linecap="butt" stroke-linejoin="round"/>
<path d="M1107.5 566C1110.5 571.2 1119.9 589.3 1125.5 597C1131.1 604.7 1135.9 608.2 1141 612C1146.1 615.8 1153.5 618.7 1156 620" fill="none" stroke="#000" stroke-width="25.5" stroke-linecap="butt" stroke-linejoin="round"/>
<path d="M1158 630C1156.2 628.7 1152.8 625.5 1147 622C1141.2 618.5 1130.8 610.8 1123 609C1115.2 607.2 1107 608.5 1100 611.5C1093 614.5 1086.2 620.2 1081 627C1075.8 633.8 1071.7 640.9 1068.5 652C1065.3 663.1 1062.8 681.3 1062 693.7C1061.2 706.1 1061.5 716.8 1063.4 726.4C1065.3 736 1071.8 747.4 1073.5 751.6" fill="none" stroke="#000" stroke-width="22.0" stroke-linecap="butt" stroke-linejoin="round"/>
<path d="M1060 662C1058.3 661.7 1052.8 661.2 1050 660C1047.2 658.8 1045.3 655.3 1043 655C1040.7 654.7 1038.2 658.2 1036 658C1033.8 657.8 1031 654.7 1030 654" fill="none" stroke="#000" stroke-width="11.0" stroke-linecap="butt" stroke-linejoin="round"/>
<path d="M1078 754C1075.3 755 1067.3 758.7 1062 760C1056.7 761.3 1051.3 760.7 1046 762C1040.7 763.3 1035 766.3 1030 768C1025 769.7 1018.3 771.3 1016 772" fill="none" stroke="#000" stroke-width="11.0" stroke-linecap="butt" stroke-linejoin="round"/>
<path d="M1107.5 566C1110.5 571.2 1119.9 589.3 1125.5 597C1131.1 604.7 1135.9 608.2 1141 612C1146.1 615.8 1153.5 618.7 1156 620" fill="none" stroke="#EC008C" stroke-width="21.5" stroke-linecap="butt" stroke-linejoin="round"/>
<path d="M1158 630C1156.2 628.7 1152.8 625.5 1147 622C1141.2 618.5 1130.8 610.8 1123 609C1115.2 607.2 1107 608.5 1100 611.5C1093 614.5 1086.2 620.2 1081 627C1075.8 633.8 1071.7 640.9 1068.5 652C1065.3 663.1 1062.8 681.3 1062 693.7C1061.2 706.1 1061.5 716.8 1063.4 726.4C1065.3 736 1071.8 747.4 1073.5 751.6" fill="none" stroke="#EC008C" stroke-width="18" stroke-linecap="butt" stroke-linejoin="round"/>
<path d="M1060 662C1058.3 661.7 1052.8 661.2 1050 660C1047.2 658.8 1045.3 655.3 1043 655C1040.7 654.7 1038.2 658.2 1036 658C1033.8 657.8 1031 654.7 1030 654" fill="none" stroke="#EC008C" stroke-width="7" stroke-linecap="butt" stroke-linejoin="round"/>
<path d="M1078 754C1075.3 755 1067.3 758.7 1062 760C1056.7 761.3 1051.3 760.7 1046 762C1040.7 763.3 1035 766.3 1030 768C1025 769.7 1018.3 771.3 1016 772" fill="none" stroke="#EC008C" stroke-width="7" stroke-linecap="butt" stroke-linejoin="round"/>
<path d="M1116 855C1114.3 860.5 1111 877.5 1106 888C1101 898.5 1092.7 908.8 1086 918C1079.3 927.2 1071.8 933.3 1066 943C1060.2 952.7 1053.9 964.2 1050.9 976C1047.9 987.8 1047.2 1001.1 1048 1013.7C1048.8 1026.3 1052.6 1040.1 1056 1051.4C1059.4 1062.7 1066.4 1076.6 1068.5 1081.6" fill="none" stroke="#000" stroke-width="22.0" stroke-linecap="butt" stroke-linejoin="round"/>
<path d="M1058 943C1056 942.8 1049.3 943.3 1046 942C1042.7 940.7 1041 936.3 1038 935C1035 933.7 1031.7 935.2 1028 934C1024.3 932.8 1018 929 1016 928" fill="none" stroke="#000" stroke-width="11.0" stroke-linecap="butt" stroke-linejoin="round"/>
<path d="M1116 855C1114.3 860.5 1111 877.5 1106 888C1101 898.5 1092.7 908.8 1086 918C1079.3 927.2 1071.8 933.3 1066 943C1060.2 952.7 1053.9 964.2 1050.9 976C1047.9 987.8 1047.2 1001.1 1048 1013.7C1048.8 1026.3 1052.6 1040.1 1056 1051.4C1059.4 1062.7 1066.4 1076.6 1068.5 1081.6" fill="none" stroke="#EC008C" stroke-width="18" stroke-linecap="butt" stroke-linejoin="round"/>
<path d="M1058 943C1056 942.8 1049.3 943.3 1046 942C1042.7 940.7 1041 936.3 1038 935C1035 933.7 1031.7 935.2 1028 934C1024.3 932.8 1018 929 1016 928" fill="none" stroke="#EC008C" stroke-width="7" stroke-linecap="butt" stroke-linejoin="round"/>
<path d="M1105.5 250.3C1106.3 254.5 1110.9 266.2 1110.5 275.4C1110.1 284.6 1107.3 296.4 1103.1 305.6C1098.9 314.8 1091.8 322.4 1085.5 330.8C1079.2 339.2 1068.8 351.7 1065.5 355.9" fill="none" stroke="#5a0030" stroke-width="1.1" stroke-dasharray="2 2.5 1 2.5" opacity="0.75"/>
<path d="M1085.5 627C1083.4 631.2 1076.2 640.9 1073 652C1069.8 663.1 1067.3 681.3 1066.5 693.7C1065.7 706.1 1067.7 721 1067.9 726.4" fill="none" stroke="#5a0030" stroke-width="1.1" stroke-dasharray="2 2.5 1 2.5" opacity="0.75"/>
<path d="M1090.5 918C1087.2 922.2 1076.3 933.3 1070.5 943C1064.7 952.7 1058.4 964.2 1055.4 976C1052.4 987.8 1051.7 1001.1 1052.5 1013.7C1053.3 1026.3 1059.2 1045.1 1060.5 1051.4" fill="none" stroke="#5a0030" stroke-width="1.1" stroke-dasharray="2 2.5 1 2.5" opacity="0.75"/>
<path d="M1094 535.3C1097 540.4 1106 555.7 1112 566C1118 576.3 1127 591.8 1130 597" fill="none" stroke="#5a0030" stroke-width="1.1" stroke-dasharray="2 2.5 1 2.5" opacity="0.75"/>
</g>
<path d="M760 658C762.1 659.6 769.1 663.2 772.8 667.7C776.5 672.2 778.9 679 782.4 685C785.9 691 790.5 697.9 794 704C797.5 710.1 800.9 714.9 803.6 721.7C806.3 728.5 808.6 739 810 745C811.4 751 812.7 753 812 758C811.3 763 808.7 768.4 806 775C803.3 781.6 798.4 789.7 795.6 797.7C792.8 805.7 789.4 815.4 789 822.9C788.6 830.4 790.7 835.9 793 843C795.3 850.1 801.3 861.8 803 865.6" fill="none" stroke="#000" stroke-width="6.2" stroke-linecap="round" stroke-linejoin="round"/>
<path d="M803 865.6C807.6 867.3 823 873.1 830.8 875.7C838.6 878.3 844.1 879.3 850 881C855.9 882.7 863.3 884.9 866 885.7" fill="none" stroke="#000" stroke-width="4.9399999999999995" stroke-linecap="round" stroke-linejoin="round"/>
<path d="M812 757C813.3 758 817.2 761.1 820 763C822.8 764.9 825.2 766.4 829 768.5C832.8 770.6 837.8 773.8 842.5 775.5C847.2 777.2 851.8 778.8 857.5 778.5C863.2 778.2 873.8 774.8 877 774" fill="none" stroke="#000" stroke-width="4.9399999999999995" stroke-linecap="round" stroke-linejoin="round"/>
<path d="M760 658C762.1 659.6 769.1 663.2 772.8 667.7C776.5 672.2 778.9 679 782.4 685C785.9 691 790.5 697.9 794 704C797.5 710.1 800.9 714.9 803.6 721.7C806.3 728.5 808.6 739 810 745C811.4 751 812.7 753 812 758C811.3 763 808.7 768.4 806 775C803.3 781.6 798.4 789.7 795.6 797.7C792.8 805.7 789.4 815.4 789 822.9C788.6 830.4 790.7 835.9 793 843C795.3 850.1 801.3 861.8 803 865.6" fill="none" stroke="#848484" stroke-width="4.2" stroke-linecap="round" stroke-linejoin="round"/>
<path d="M803 865.6C807.6 867.3 823 873.1 830.8 875.7C838.6 878.3 844.1 879.3 850 881C855.9 882.7 863.3 884.9 866 885.7" fill="none" stroke="#848484" stroke-width="2.94" stroke-linecap="round" stroke-linejoin="round"/>
<path d="M812 757C813.3 758 817.2 761.1 820 763C822.8 764.9 825.2 766.4 829 768.5C832.8 770.6 837.8 773.8 842.5 775.5C847.2 777.2 851.8 778.8 857.5 778.5C863.2 778.2 873.8 774.8 877 774" fill="none" stroke="#848484" stroke-width="2.94" stroke-linecap="round" stroke-linejoin="round"/>
<path d="M800.6 840.5C798.9 843.9 793.5 853.1 790.6 860.6C787.7 868.1 783.9 877.3 783 885.7C782.1 894.1 783.4 903.4 785.5 910.9C787.6 918.4 790.4 926.7 795.6 931C800.9 935.3 813.4 935.6 817 936.5" fill="none" stroke="#000" stroke-width="7.0" stroke-linecap="butt" stroke-linejoin="round"/>
<path d="M795.6 785C796.7 789.2 801.2 800.8 802 810C802.8 819.2 802.5 832.1 800.6 840.5C798.7 848.9 792.3 857.2 790.6 860.6" fill="none" stroke="#000" stroke-width="8.0" stroke-linecap="butt" stroke-linejoin="round"/>
<path d="M800 742C799.2 745 795.7 752.8 795 760C794.3 767.2 794.4 776.7 795.6 785C796.8 793.3 800.9 805.8 802 810" fill="none" stroke="#000" stroke-width="9.2" stroke-linecap="butt" stroke-linejoin="round"/>
<path d="M813 708C812.2 710.8 810.2 719.3 808 725C805.8 730.7 802.2 736.2 800 742C797.8 747.8 795.8 757 795 760" fill="none" stroke="#000" stroke-width="10.6" stroke-linecap="butt" stroke-linejoin="round"/>
<path d="M740 678C743.2 678.8 752.6 682.4 759 683C765.4 683.6 772 682.3 778.5 681.5C785 680.7 792.9 677.9 797.8 678C802.7 678.1 805.5 679.2 808 682C810.5 684.8 812.2 690.7 813 695C813.8 699.3 813.8 703 813 708C812.2 713 808.8 722.2 808 725" fill="none" stroke="#000" stroke-width="12.1" stroke-linecap="butt" stroke-linejoin="round"/>
<path d="M776.6 342.5C775.2 343.4 770.3 345.9 768 348C765.7 350.1 764 351.6 763 355C762 358.4 760.4 364.3 762 368.5C763.6 372.7 768.1 376.1 772.8 380C777.5 383.9 785.2 387.2 790 391.7C794.8 396.2 799.1 401.2 801.7 407C804.3 412.8 804.9 418.3 805.5 426.4C806.1 434.4 805.2 445.7 805.5 455.3C805.8 464.9 805.9 476 807.5 484C809.1 492 813.2 497.5 815 503.5C816.8 509.5 818.2 513.9 818 520C817.8 526.1 815.7 533.3 814 540C812.3 546.7 809.4 553.8 808 560C806.6 566.2 805.8 571.2 805.5 577C805.2 582.8 805.4 589.2 806 595C806.6 600.8 807.5 606 809 612C810.5 618 814 624.7 815 631C816 637.3 816.3 644.5 815 650C813.7 655.5 810 660.3 807 664C804 667.7 798.7 670.7 797 672" fill="none" stroke="#000" stroke-width="9.9" stroke-linecap="butt" stroke-linejoin="round"/>
<path d="M807 412C809.3 411.6 816.8 411.2 821 409.5C825.2 407.8 828.7 404.8 832.5 402C836.3 399.2 839.5 394.5 844 392.5C848.5 390.5 854.5 389.9 859.5 389.8C864.5 389.7 871.6 391.6 874 392" fill="none" stroke="#000" stroke-width="5.8" stroke-linecap="butt" stroke-linejoin="round"/>
<path d="M818 519C820.4 520 827.5 523 832.5 525C837.5 527 842.9 529.4 848 531C853.1 532.6 858.4 534.4 863.4 534.7C868.4 535 875.6 533.3 878 533" fill="none" stroke="#000" stroke-width="5.8" stroke-linecap="butt" stroke-linejoin="round"/>
<path d="M816 642C818.1 643.3 824 647 828.7 650C833.4 653 838.9 657.7 844 660C849.1 662.3 854.7 664 859.5 664C864.3 664 870.8 660.7 873 660" fill="none" stroke="#000" stroke-width="5.8" stroke-linecap="butt" stroke-linejoin="round"/>
<path d="M797 776C800.8 775.8 813.2 775.1 820 774.5C826.8 773.9 831.8 773.3 838 772.5C844.2 771.7 851 769.5 857.5 769.5C864 769.5 873.8 772 877 772.5" fill="none" stroke="#000" stroke-width="5.12" stroke-linecap="butt" stroke-linejoin="round"/>
<path d="M786 891C789.3 890.5 799 889.3 806 888C813 886.7 821.5 884.3 828 883C834.5 881.7 839.5 880.8 845 880C850.5 879.2 858.3 878.3 861 878" fill="none" stroke="#000" stroke-width="5.12" stroke-linecap="butt" stroke-linejoin="round"/>
<path d="M800.6 840.5C798.9 843.9 793.5 853.1 790.6 860.6C787.7 868.1 783.9 877.3 783 885.7C782.1 894.1 783.4 903.4 785.5 910.9C787.6 918.4 790.4 926.7 795.6 931C800.9 935.3 813.4 935.6 817 936.5" fill="none" stroke="#EC008C" stroke-width="4.6" stroke-linecap="butt" stroke-linejoin="round"/>
<path d="M795.6 785C796.7 789.2 801.2 800.8 802 810C802.8 819.2 802.5 832.1 800.6 840.5C798.7 848.9 792.3 857.2 790.6 860.6" fill="none" stroke="#EC008C" stroke-width="5.6" stroke-linecap="butt" stroke-linejoin="round"/>
<path d="M800 742C799.2 745 795.7 752.8 795 760C794.3 767.2 794.4 776.7 795.6 785C796.8 793.3 800.9 805.8 802 810" fill="none" stroke="#EC008C" stroke-width="6.8" stroke-linecap="butt" stroke-linejoin="round"/>
<path d="M813 708C812.2 710.8 810.2 719.3 808 725C805.8 730.7 802.2 736.2 800 742C797.8 747.8 795.8 757 795 760" fill="none" stroke="#EC008C" stroke-width="8.2" stroke-linecap="butt" stroke-linejoin="round"/>
<path d="M740 678C743.2 678.8 752.6 682.4 759 683C765.4 683.6 772 682.3 778.5 681.5C785 680.7 792.9 677.9 797.8 678C802.7 678.1 805.5 679.2 808 682C810.5 684.8 812.2 690.7 813 695C813.8 699.3 813.8 703 813 708C812.2 713 808.8 722.2 808 725" fill="none" stroke="#EC008C" stroke-width="9.7" stroke-linecap="butt" stroke-linejoin="round"/>
<path d="M776.6 342.5C775.2 343.4 770.3 345.9 768 348C765.7 350.1 764 351.6 763 355C762 358.4 760.4 364.3 762 368.5C763.6 372.7 768.1 376.1 772.8 380C777.5 383.9 785.2 387.2 790 391.7C794.8 396.2 799.1 401.2 801.7 407C804.3 412.8 804.9 418.3 805.5 426.4C806.1 434.4 805.2 445.7 805.5 455.3C805.8 464.9 805.9 476 807.5 484C809.1 492 813.2 497.5 815 503.5C816.8 509.5 818.2 513.9 818 520C817.8 526.1 815.7 533.3 814 540C812.3 546.7 809.4 553.8 808 560C806.6 566.2 805.8 571.2 805.5 577C805.2 582.8 805.4 589.2 806 595C806.6 600.8 807.5 606 809 612C810.5 618 814 624.7 815 631C816 637.3 816.3 644.5 815 650C813.7 655.5 810 660.3 807 664C804 667.7 798.7 670.7 797 672" fill="none" stroke="#EC008C" stroke-width="7.5" stroke-linecap="butt" stroke-linejoin="round"/>
<path d="M807 412C809.3 411.6 816.8 411.2 821 409.5C825.2 407.8 828.7 404.8 832.5 402C836.3 399.2 839.5 394.5 844 392.5C848.5 390.5 854.5 389.9 859.5 389.8C864.5 389.7 871.6 391.6 874 392" fill="none" stroke="#EC008C" stroke-width="3.4" stroke-linecap="butt" stroke-linejoin="round"/>
<path d="M818 519C820.4 520 827.5 523 832.5 525C837.5 527 842.9 529.4 848 531C853.1 532.6 858.4 534.4 863.4 534.7C868.4 535 875.6 533.3 878 533" fill="none" stroke="#EC008C" stroke-width="3.4" stroke-linecap="butt" stroke-linejoin="round"/>
<path d="M816 642C818.1 643.3 824 647 828.7 650C833.4 653 838.9 657.7 844 660C849.1 662.3 854.7 664 859.5 664C864.3 664 870.8 660.7 873 660" fill="none" stroke="#EC008C" stroke-width="3.4" stroke-linecap="butt" stroke-linejoin="round"/>
<path d="M797 776C800.8 775.8 813.2 775.1 820 774.5C826.8 773.9 831.8 773.3 838 772.5C844.2 771.7 851 769.5 857.5 769.5C864 769.5 873.8 772 877 772.5" fill="none" stroke="#EC008C" stroke-width="2.72" stroke-linecap="butt" stroke-linejoin="round"/>
<path d="M786 891C789.3 890.5 799 889.3 806 888C813 886.7 821.5 884.3 828 883C834.5 881.7 839.5 880.8 845 880C850.5 879.2 858.3 878.3 861 878" fill="none" stroke="#EC008C" stroke-width="2.72" stroke-linecap="butt" stroke-linejoin="round"/>
<path d="M878 394C876 394.3 869.7 395 866 396C862.3 397 860.6 399.4 855.7 400C850.8 400.6 842.9 399.8 836.4 399.4C829.9 399 820.2 397.8 817 397.5" fill="none" stroke="#000" stroke-width="4.9399999999999995" stroke-linecap="round" stroke-linejoin="round"/>
<path d="M817 397.5C813.8 398.1 802.3 399.1 797.8 401.3C793.3 403.6 791 407.1 790 411C789 414.9 790 420.3 792 424.5C794 428.7 797.5 433.1 801.7 436C805.9 438.9 813.1 438.6 817 441.8C820.9 445 823.8 449.8 824.8 455.3C825.8 460.8 824.8 468.2 822.9 474.6C821 481 816.5 488.1 813.3 493.9C810.1 499.7 805.9 504.4 803.6 509.6C801.4 514.8 799.5 520.2 799.8 525C800.1 529.8 802.6 533.4 805.5 538.6C808.4 543.8 813.5 550.3 817 556C820.5 561.7 824.4 566.9 826.7 573C829 579.1 830.9 586 830.6 592.5C830.3 599 827.7 606 824.8 611.8C821.9 617.5 817.5 621.9 813 627C808.5 632.1 802.6 638.2 797.8 642.7C793 647.2 788.8 651.7 784 654C779.2 656.3 773.7 655.8 769 656.5C764.3 657.2 759.8 657.8 756 658.5C752.2 659.2 748.8 659.4 746 661C743.2 662.6 740.2 666.8 739 668" fill="none" stroke="#000" stroke-width="6.2" stroke-linecap="round" stroke-linejoin="round"/>
<path d="M803 536C804.5 537.2 808.7 541.9 812 543C815.3 544.1 818 543.5 823 542.4C828 541.3 835.3 538.8 842 536.6C848.7 534.5 857.4 530.8 863.4 529.5C869.4 528.2 875.6 529.1 878 529" fill="none" stroke="#000" stroke-width="4.9399999999999995" stroke-linecap="round" stroke-linejoin="round"/>
<path d="M876 654C872.6 654.1 862.3 652.2 855.7 654.5C849.1 656.8 839.6 665.5 836.4 667.7" fill="none" stroke="#000" stroke-width="4.9399999999999995" stroke-linecap="round" stroke-linejoin="round"/>
<path d="M836.4 667.7C833.2 669 822.8 674.4 817 675.4C811.2 676.4 806.2 675.1 801.7 673.5C797.2 671.9 793 668.9 790 665.8C787 662.7 785 656.8 784 655" fill="none" stroke="#000" stroke-width="6.2" stroke-linecap="round" stroke-linejoin="round"/>
<path d="M878 394C876 394.3 869.7 395 866 396C862.3 397 860.6 399.4 855.7 400C850.8 400.6 842.9 399.8 836.4 399.4C829.9 399 820.2 397.8 817 397.5" fill="none" stroke="#848484" stroke-width="2.94" stroke-linecap="round" stroke-linejoin="round"/>
<path d="M817 397.5C813.8 398.1 802.3 399.1 797.8 401.3C793.3 403.6 791 407.1 790 411C789 414.9 790 420.3 792 424.5C794 428.7 797.5 433.1 801.7 436C805.9 438.9 813.1 438.6 817 441.8C820.9 445 823.8 449.8 824.8 455.3C825.8 460.8 824.8 468.2 822.9 474.6C821 481 816.5 488.1 813.3 493.9C810.1 499.7 805.9 504.4 803.6 509.6C801.4 514.8 799.5 520.2 799.8 525C800.1 529.8 802.6 533.4 805.5 538.6C808.4 543.8 813.5 550.3 817 556C820.5 561.7 824.4 566.9 826.7 573C829 579.1 830.9 586 830.6 592.5C830.3 599 827.7 606 824.8 611.8C821.9 617.5 817.5 621.9 813 627C808.5 632.1 802.6 638.2 797.8 642.7C793 647.2 788.8 651.7 784 654C779.2 656.3 773.7 655.8 769 656.5C764.3 657.2 759.8 657.8 756 658.5C752.2 659.2 748.8 659.4 746 661C743.2 662.6 740.2 666.8 739 668" fill="none" stroke="#848484" stroke-width="4.2" stroke-linecap="round" stroke-linejoin="round"/>
<path d="M803 536C804.5 537.2 808.7 541.9 812 543C815.3 544.1 818 543.5 823 542.4C828 541.3 835.3 538.8 842 536.6C848.7 534.5 857.4 530.8 863.4 529.5C869.4 528.2 875.6 529.1 878 529" fill="none" stroke="#848484" stroke-width="2.94" stroke-linecap="round" stroke-linejoin="round"/>
<path d="M876 654C872.6 654.1 862.3 652.2 855.7 654.5C849.1 656.8 839.6 665.5 836.4 667.7" fill="none" stroke="#848484" stroke-width="2.94" stroke-linecap="round" stroke-linejoin="round"/>
<path d="M836.4 667.7C833.2 669 822.8 674.4 817 675.4C811.2 676.4 806.2 675.1 801.7 673.5C797.2 671.9 793 668.9 790 665.8C787 662.7 785 656.8 784 655" fill="none" stroke="#848484" stroke-width="4.2" stroke-linecap="round" stroke-linejoin="round"/>
<path d="M878 394C876 394.3 869.7 395 866 396C862.3 397 860.6 399.4 855.7 400C850.8 400.6 842.9 399.8 836.4 399.4C829.9 399 823.4 397.2 817 397.5C810.6 397.8 802.3 399.1 797.8 401.3C793.3 403.6 791 407.1 790 411C789 414.9 790 420.3 792 424.5C794 428.7 797.5 433.1 801.7 436C805.9 438.9 813.1 438.6 817 441.8C820.9 445 823.8 449.8 824.8 455.3C825.8 460.8 824.8 468.2 822.9 474.6C821 481 816.5 488.1 813.3 493.9C810.1 499.7 805.9 504.4 803.6 509.6C801.4 514.8 799.5 520.2 799.8 525C800.1 529.8 802.6 533.4 805.5 538.6C808.4 543.8 813.5 550.3 817 556C820.5 561.7 824.4 566.9 826.7 573C829 579.1 830.9 586 830.6 592.5C830.3 599 827.7 606 824.8 611.8C821.9 617.5 817.5 621.9 813 627C808.5 632.1 802.6 638.2 797.8 642.7C793 647.2 788.8 651.7 784 654C779.2 656.3 773.7 655.8 769 656.5C764.3 657.2 759.8 657.8 756 658.5C752.2 659.2 748.8 659.4 746 661C743.2 662.6 740.2 666.8 739 668" fill="none" stroke="#1a1a1a" stroke-width="0.9" opacity="0.85"/>
<path d="M803 536C804.5 537.2 808.7 541.9 812 543C815.3 544.1 818 543.5 823 542.4C828 541.3 835.3 538.8 842 536.6C848.7 534.5 857.4 530.8 863.4 529.5C869.4 528.2 875.6 529.1 878 529" fill="none" stroke="#1a1a1a" stroke-width="0.9" opacity="0.85"/>
<path d="M876 654C872.6 654.1 862.3 652.2 855.7 654.5C849.1 656.8 842.9 664.2 836.4 667.7C829.9 671.2 822.8 674.4 817 675.4C811.2 676.4 806.2 675.1 801.7 673.5C797.2 671.9 793 668.9 790 665.8C787 662.7 785 656.8 784 655" fill="none" stroke="#1a1a1a" stroke-width="0.9" opacity="0.85"/>
<path d="M760 658C762.1 659.6 769.1 663.2 772.8 667.7C776.5 672.2 778.9 679 782.4 685C785.9 691 790.5 697.9 794 704C797.5 710.1 800.9 714.9 803.6 721.7C806.3 728.5 808.6 739 810 745C811.4 751 812.7 753 812 758C811.3 763 808.7 768.4 806 775C803.3 781.6 798.4 789.7 795.6 797.7C792.8 805.7 789.4 815.4 789 822.9C788.6 830.4 790.7 835.9 793 843C795.3 850.1 796.7 860.1 803 865.6C809.3 871.1 823 873.1 830.8 875.7C838.6 878.3 844.1 879.3 850 881C855.9 882.7 863.3 884.9 866 885.7" fill="none" stroke="#1a1a1a" stroke-width="0.9" opacity="0.85"/>
<path d="M812 757C813.3 758 817.2 761.1 820 763C822.8 764.9 825.2 766.4 829 768.5C832.8 770.6 837.8 773.8 842.5 775.5C847.2 777.2 851.8 778.8 857.5 778.5C863.2 778.2 873.8 774.8 877 774" fill="none" stroke="#1a1a1a" stroke-width="0.9" opacity="0.85"/>
<path d="M597 572C602.2 576 617.5 588 628 596C638.5 604 649.3 611.8 660 620C670.7 628.2 681.3 637 692 645C702.7 653 716 662.5 724 668C732 673.5 734.2 675.5 740 678C745.8 680.5 755.8 682.2 759 683" fill="none" stroke="#000" stroke-width="14.799999999999999" stroke-linecap="butt" stroke-linejoin="round"/>
<path d="M597 572C602.2 576 617.5 588 628 596C638.5 604 649.3 611.8 660 620C670.7 628.2 681.3 637 692 645C702.7 653 716 662.5 724 668C732 673.5 734.2 675.5 740 678C745.8 680.5 755.8 682.2 759 683" fill="none" stroke="#EC008C" stroke-width="12.2" stroke-linecap="butt" stroke-linejoin="round"/>
<path d="M740 678C743.2 678.8 752.6 682.4 759 683C765.4 683.6 772 682.3 778.5 681.5C785 680.7 794.6 678.6 797.8 678" fill="none" stroke="#EC008C" stroke-width="9.7" />
<path d="M640 618C638.5 617.9 633.4 618.7 631 617.5C628.6 616.3 626.5 614.6 625.5 611C624.5 607.4 625.1 601 625 596C624.9 591 624.2 584.6 625 581C625.8 577.4 627.3 575.7 630 574.5C632.7 573.3 638 573.4 641 574C644 574.6 646.6 575.3 648 578C649.4 580.7 649.2 585.3 649.5 590C649.8 594.7 649.4 600.7 650 606C650.6 611.3 651.3 617.8 653 622C654.7 626.2 658.8 629.5 660 631" fill="none" stroke="#000" stroke-width="7.800000000000001" stroke-linecap="round" stroke-linejoin="round"/>
<path d="M684 654C683.8 650.7 682.5 639 683 634C683.5 629 685 625.8 687 624C689 622.2 692.7 621.5 695 623C697.3 624.5 699.7 628 701 633C702.3 638 701.8 646.3 703 653C704.2 659.7 705.2 668 708 673C710.8 678 718 681.3 720 683" fill="none" stroke="#000" stroke-width="7.800000000000001" stroke-linecap="round" stroke-linejoin="round"/>
<path d="M704 664C704 659.7 703.5 644 704 638C704.5 632 705.2 629.8 707 628C708.8 626.2 712.8 625.5 715 627C717.2 628.5 718.7 632 720 637C721.3 642 721.7 650.3 723 657C724.3 663.7 725.5 672.2 728 677C730.5 681.8 735 686.2 738 686C741 685.8 744.7 677.7 746 676" fill="none" stroke="#000" stroke-width="7.800000000000001" stroke-linecap="round" stroke-linejoin="round"/>
<path d="M640 618C638.5 617.9 633.4 618.7 631 617.5C628.6 616.3 626.5 614.6 625.5 611C624.5 607.4 625.1 601 625 596C624.9 591 624.2 584.6 625 581C625.8 577.4 627.3 575.7 630 574.5C632.7 573.3 638 573.4 641 574C644 574.6 646.6 575.3 648 578C649.4 580.7 649.2 585.3 649.5 590C649.8 594.7 649.4 600.7 650 606C650.6 611.3 651.3 617.8 653 622C654.7 626.2 658.8 629.5 660 631" fill="none" stroke="#848484" stroke-width="5.4" stroke-linecap="round" stroke-linejoin="round"/>
<path d="M684 654C683.8 650.7 682.5 639 683 634C683.5 629 685 625.8 687 624C689 622.2 692.7 621.5 695 623C697.3 624.5 699.7 628 701 633C702.3 638 701.8 646.3 703 653C704.2 659.7 705.2 668 708 673C710.8 678 718 681.3 720 683" fill="none" stroke="#848484" stroke-width="5.4" stroke-linecap="round" stroke-linejoin="round"/>
<path d="M704 664C704 659.7 703.5 644 704 638C704.5 632 705.2 629.8 707 628C708.8 626.2 712.8 625.5 715 627C717.2 628.5 718.7 632 720 637C721.3 642 721.7 650.3 723 657C724.3 663.7 725.5 672.2 728 677C730.5 681.8 735 686.2 738 686C741 685.8 744.7 677.7 746 676" fill="none" stroke="#848484" stroke-width="5.4" stroke-linecap="round" stroke-linejoin="round"/>
<path d="M880.5 391.7C890.9 378.6 895.6 357.1 887.6 359.2C881.2 354 876.6 375.5 880.5 391.7M899 388.8C911.9 375.2 920.5 352 912.4 352.9C906.8 346.9 898.1 370.1 899 388.8M917.6 386.9C932.8 374.6 945.4 352 937.1 351.6C932.5 344.9 920 367.4 917.6 386.9M933.3 385.5C953.2 381 975.6 366.1 968.4 362C967.4 353.9 945 368.8 933.3 385.5M938.2 389.5C950.2 397.9 969.4 401.1 967.3 394.3C971.4 388.6 952.3 385.4 938.2 389.5M883.9 398C884.6 410.6 893.6 424.4 897.2 418.2C904.3 417.4 895.2 403.6 883.9 398M901.5 396.3C908.9 412 926.5 426.6 928.3 418.6C935.9 415.3 918.3 400.7 901.5 396.3M919.2 394.5C928.3 407.3 946.2 417.8 946.7 410.7C952.7 406.8 934.8 396.3 919.2 394.5M862.2 399.6C863.4 399.3 867.5 398.2 869.8 397.5C872 396.9 873.7 395.7 875.4 395.8C877.1 395.9 878.4 397.4 879.9 398C881.3 398.6 882.8 399.2 884.2 399.4C885.6 399.7 886.9 399.8 888.2 399.6C889.5 399.4 890.8 398.9 891.9 398.2C893.1 397.5 894.2 396.5 895.4 395.4C896.5 394.3 897.5 393 898.6 391.7C899.6 390.4 900.7 389 901.8 387.8C902.8 386.6 903.9 385.4 905.1 384.5C906.2 383.6 907.4 382.8 908.6 382.4C909.8 381.9 911.1 381.7 912.5 381.7C913.8 381.8 915.2 382.1 916.7 382.6C918.1 383 919.6 383.8 921.1 384.5C922.6 385.2 924.1 386.1 925.6 386.8C927.1 387.5 928.6 388.2 930 388.7C931.4 389.1 932.8 389.5 934.2 389.5C935.5 389.6 936.9 389.7 938.1 388.9C939.2 388.1 940.1 385.9 941.2 384.8C942.3 383.8 943.6 383.4 944.7 382.5C945.9 381.7 947 380.7 948.2 379.9C949.3 379 951 377.7 951.6 377.3M862.6 401.5C863.9 401.2 868 400.1 870.2 399.4C872.4 398.8 874.3 398.7 875.8 397.7C877.3 396.8 877.9 395.1 879 393.9C880.1 392.8 881.2 391.7 882.4 390.8C883.5 390 884.7 389.4 886 389.1C887.3 388.7 888.6 388.7 889.9 388.8C891.3 389 892.8 389.5 894.2 390C895.7 390.5 897.2 391.3 898.6 392.1C900.1 392.8 901.7 393.7 903.1 394.3C904.6 395 906.1 395.6 907.5 396C908.9 396.4 910.3 396.6 911.6 396.5C912.9 396.4 914.2 396.1 915.4 395.5C916.6 394.9 917.8 394 918.9 393C920 392 921.1 390.7 922.2 389.5C923.2 388.3 924.3 386.8 925.3 385.6C926.4 384.3 927.5 383.1 928.6 382.1C929.7 381.1 930.9 380.2 932.1 379.6C933.3 379 934.5 378.3 935.9 378.6C937.2 378.8 938.9 380.5 940.4 381C941.8 381.5 943.1 381.4 944.5 381.7C945.9 382 947.4 382.4 948.8 382.7C950.2 383 952.3 383.5 953 383.6" fill="none" stroke="#000" stroke-width="2.6" stroke-linecap="round" stroke-linejoin="round"/>
<ellipse cx="881.4" cy="395.6" rx="4" ry="2.5" transform="rotate(-12 881.4 395.6)" fill="#000"/>
<path d="M894.9 528.7C907.5 517.2 915.6 496.3 907.3 497C901.6 490.8 893.5 511.7 894.9 528.7M913.9 528.7C929.1 517.1 941.6 495.1 933.2 494.7C928.5 487.7 916.1 509.7 913.9 528.7M933 529.7C950.3 519.8 966.6 499 958.4 497.4C954.8 489.8 938.5 510.5 933 529.7M949.1 530.9C969.8 529.6 994.8 518.1 988.2 512.8C988.5 504.4 963.6 516 949.1 530.9M953.4 535.7C964.1 546.1 982.9 552.4 981.9 545.2C987 540.1 968.3 533.8 953.4 535.7M897.3 535.6C895.9 548.4 902.9 563.8 907.5 558.1C914.7 558.4 907.8 543.1 897.3 535.6M915.4 536.7C920.3 553.7 935.6 571.2 938.8 563.5C946.9 561.4 931.6 543.8 915.4 536.7M933.4 537.7C940.6 552.1 956.9 565.5 958.6 558.4C965.2 555.5 948.9 542 933.4 537.7M875.2 533.8C876.5 533.6 880.8 533.1 883.1 532.8C885.4 532.6 887.4 531.7 889.1 532C890.8 532.4 891.9 534.1 893.2 535C894.6 535.8 896 536.6 897.4 537.1C898.7 537.6 900.1 537.9 901.4 537.9C902.7 537.9 904.1 537.6 905.4 537.1C906.7 536.6 908 535.7 909.3 534.8C910.5 533.9 911.8 532.7 913.1 531.6C914.4 530.5 915.6 529.2 916.9 528.2C918.2 527.1 919.5 526.1 920.8 525.4C922.1 524.6 923.4 524 924.7 523.8C926 523.5 927.4 523.5 928.7 523.8C930 524 931.4 524.6 932.8 525.3C934.2 526 935.5 527 936.9 527.9C938.3 528.8 939.7 530 941.1 530.9C942.5 531.9 943.9 532.9 945.2 533.5C946.6 534.2 948 534.8 949.3 535.1C950.7 535.3 952 535.7 953.3 535.1C954.6 534.5 955.9 532.4 957.1 531.5C958.4 530.6 959.8 530.4 961.1 529.7C962.4 529 963.7 528.3 964.9 527.6C966.2 526.9 968.2 525.9 968.8 525.6M875.3 535.8C876.6 535.6 880.9 535.1 883.2 534.8C885.5 534.6 887.6 534.7 889.2 534C890.8 533.3 891.7 531.7 893 530.7C894.3 529.7 895.6 528.8 896.9 528.1C898.2 527.5 899.5 527.1 900.8 526.9C902.2 526.8 903.5 526.9 904.9 527.3C906.2 527.7 907.6 528.4 909 529.2C910.3 529.9 911.7 531 913.1 532C914.5 532.9 915.9 534.1 917.3 535C918.7 535.9 920 536.8 921.4 537.4C922.8 538 924.1 538.4 925.5 538.5C926.8 538.7 928.1 538.5 929.5 538.1C930.8 537.7 932.1 537 933.4 536.2C934.6 535.3 935.9 534.2 937.2 533.1C938.5 532.1 939.7 530.8 941 529.7C942.3 528.6 943.6 527.5 944.9 526.7C946.2 525.8 947.5 525.1 948.8 524.7C950.1 524.3 951.4 523.8 952.8 524.3C954.1 524.8 955.6 526.7 956.9 527.5C958.3 528.2 959.6 528.3 961 528.8C962.4 529.3 963.7 530 965.1 530.5C966.5 531.1 968.5 531.9 969.2 532.1" fill="none" stroke="#000" stroke-width="2.6" stroke-linecap="round" stroke-linejoin="round"/>
<ellipse cx="895.1" cy="532.7" rx="4" ry="2.5" transform="rotate(-3 895.1 532.7)" fill="#000"/>
<path d="M896.1 650.2C909.6 639.8 919.6 619.7 911.2 619.7C906.1 613 896.2 633.1 896.1 650.2M915.1 651.8C931.2 641.6 945.5 620.8 937.2 619.6C933.2 612.3 918.9 633.1 915.1 651.8M934 654.5C952.1 646.1 970.1 626.9 962.1 624.5C959.2 616.6 941.2 635.9 934 654.5M949.9 657.1C970.7 657.6 996.5 648.3 990.5 642.5C991.5 634.1 965.6 643.4 949.9 657.1M953.8 662.2C963.6 673.6 981.7 681.4 981.4 674.2C986.9 669.5 968.8 661.6 953.8 662.2M897.9 657.3C895.4 669.9 901 685.8 906.1 680.6C913.3 681.5 907.7 665.6 897.9 657.3M915.8 659.9C919.2 677.2 933 696.1 936.8 688.6C945.1 687.2 931.3 668.4 915.8 659.9M933.7 662.5C939.6 677.4 954.7 692.2 956.9 685.3C963.8 683 948.7 668.1 933.7 662.5M876 653.5C877.3 653.4 881.7 653.4 884 653.3C886.4 653.2 888.4 652.5 890 653C891.7 653.5 892.6 655.3 893.9 656.2C895.2 657.2 896.5 658.1 897.8 658.7C899.2 659.3 900.5 659.8 901.8 659.9C903.1 660 904.5 659.8 905.8 659.4C907.2 659 908.5 658.3 909.9 657.5C911.3 656.7 912.6 655.6 914 654.6C915.4 653.6 916.7 652.5 918.1 651.6C919.5 650.6 920.8 649.7 922.2 649.1C923.5 648.5 924.9 648 926.2 647.9C927.6 647.7 928.9 647.8 930.2 648.2C931.5 648.6 932.9 649.3 934.2 650.1C935.5 650.9 936.8 652 938.1 653C939.4 654.1 940.7 655.3 941.9 656.4C943.2 657.5 944.5 658.6 945.8 659.4C947.2 660.2 948.5 660.9 949.8 661.2C951.1 661.6 952.4 662.1 953.8 661.6C955.1 661.1 956.5 659.1 957.9 658.4C959.3 657.6 960.6 657.5 961.9 656.9C963.3 656.4 964.7 655.7 966 655.1C967.4 654.6 969.4 653.8 970.1 653.5M875.9 655.5C877.3 655.4 881.6 655.4 884 655.3C886.3 655.2 888.3 655.5 890 655C891.7 654.4 892.7 652.9 894.1 652C895.4 651.1 896.8 650.3 898.2 649.8C899.5 649.3 900.8 648.9 902.2 648.9C903.5 648.9 904.8 649.2 906.2 649.7C907.5 650.1 908.8 651 910.1 651.9C911.4 652.7 912.7 653.9 914 655C915.3 656.1 916.6 657.3 917.9 658.3C919.2 659.4 920.5 660.4 921.8 661.1C923.1 661.8 924.4 662.4 925.7 662.6C927 662.9 928.4 662.8 929.7 662.5C931.1 662.3 932.4 661.7 933.8 661C935.1 660.2 936.5 659.2 937.9 658.3C939.2 657.3 940.6 656.1 942 655.2C943.4 654.2 944.7 653.2 946.1 652.5C947.4 651.8 948.8 651.2 950.1 650.9C951.5 650.6 952.8 650.3 954.1 650.8C955.5 651.4 956.7 653.5 958 654.3C959.3 655.2 960.7 655.4 962 656.1C963.3 656.7 964.6 657.4 965.9 658.1C967.2 658.8 969.2 659.7 969.8 660.1" fill="none" stroke="#000" stroke-width="2.6" stroke-linecap="round" stroke-linejoin="round"/>
<ellipse cx="896" cy="654.2" rx="4" ry="2.5" transform="rotate(2 896 654.2)" fill="#000"/>
<path d="M881.6 772.1C894.1 761.8 902.9 742.4 894.9 742.7C889.9 736.5 881.1 756 881.6 772.1M899.6 773.1C914.6 762.8 927.5 742.6 919.6 741.8C915.5 734.9 902.6 755.2 899.6 773.1M917.7 775C934.6 766.4 951.1 747.5 943.4 745.5C940.3 738.2 923.9 757.1 917.7 775M932.9 776.9C952.6 776.7 976.9 767 970.9 761.7C971.6 753.8 947.4 763.4 932.9 776.9M936.7 781.6C946.4 792.1 963.9 799 963.3 792.1C968.4 787.5 950.9 780.6 936.7 781.6M883.5 778.8C881.6 790.9 887.4 805.8 892 800.6C898.9 801.3 893.1 786.4 883.5 778.8M900.6 780.7C904.4 797.1 918.1 814.5 921.5 807.3C929.3 805.7 915.6 788.3 900.6 780.7M917.7 782.6C923.8 796.6 938.6 810.1 940.5 803.5C946.9 801 932.1 787.5 917.7 782.6M862.6 776C863.9 775.9 868 775.6 870.2 775.5C872.4 775.3 874.3 774.6 875.9 775C877.5 775.4 878.4 777.1 879.7 778C881 778.8 882.2 779.7 883.5 780.2C884.8 780.7 886 781.1 887.3 781.2C888.6 781.2 889.8 781 891.1 780.6C892.4 780.2 893.6 779.4 894.9 778.6C896.2 777.8 897.4 776.8 898.7 775.8C900 774.8 901.2 773.6 902.5 772.7C903.8 771.8 905 770.9 906.3 770.2C907.6 769.6 908.8 769.1 910.1 768.9C911.4 768.7 912.6 768.8 913.9 769.1C915.2 769.4 916.4 770.1 917.7 770.8C919 771.5 920.2 772.5 921.5 773.5C922.8 774.4 924 775.6 925.3 776.5C926.6 777.5 927.8 778.5 929.1 779.2C930.4 779.9 931.6 780.6 932.9 780.9C934.2 781.2 935.4 781.6 936.7 781.1C938 780.6 939.2 778.6 940.5 777.9C941.8 777.1 943 776.9 944.3 776.4C945.6 775.8 946.8 775.1 948.1 774.5C949.4 773.9 951.3 773.1 951.9 772.8M862.6 777.9C863.9 777.8 868 777.5 870.2 777.4C872.4 777.2 874.3 777.5 875.9 776.9C877.5 776.3 878.4 774.8 879.7 773.9C881 773.1 882.2 772.2 883.5 771.7C884.8 771.2 886 770.8 887.3 770.7C888.6 770.7 889.8 770.9 891.1 771.3C892.4 771.7 893.6 772.5 894.9 773.3C896.2 774.1 897.4 775.1 898.7 776.1C900 777.1 901.2 778.3 902.5 779.2C903.8 780.1 905 781 906.3 781.7C907.6 782.3 908.8 782.8 910.1 783C911.4 783.2 912.6 783.1 913.9 782.8C915.2 782.5 916.4 781.8 917.7 781.1C919 780.4 920.2 779.4 921.5 778.4C922.8 777.5 924 776.3 925.3 775.4C926.6 774.4 927.8 773.4 929.1 772.7C930.4 772 931.6 771.3 932.9 771C934.2 770.7 935.4 770.3 936.7 770.8C938 771.3 939.2 773.3 940.5 774C941.8 774.8 943 775 944.3 775.5C945.6 776.1 946.8 776.8 948.1 777.4C949.4 778 951.3 778.8 951.9 779.1" fill="none" stroke="#000" stroke-width="2.6" stroke-linecap="round" stroke-linejoin="round"/>
<ellipse cx="881.6" cy="776" rx="4" ry="2.5" transform="rotate(0 881.6 776)" fill="#000"/>
<path d="M876.7 883.7C895.4 876.3 913.3 856.7 903.8 854C900.2 844.8 882.3 864.4 876.7 883.7M897.7 891.7C919.3 885.3 942.3 866.4 933.3 862.3C931.1 852.7 908.1 871.7 897.7 891.7M918.3 900.9C941.6 897.3 968.2 881.3 959.9 876C959.1 866.1 932.5 882.1 918.3 900.9M935.5 909C958.9 916.3 991.2 914.1 986.2 905.6C990.1 896.5 957.8 898.6 935.5 909M938.2 916C945.6 932.1 963.7 947 965.6 938.6C973.4 935.1 955.4 920.3 938.2 916M876.4 892.3C869.5 905.8 870.7 925.6 878.1 921.4C886 924.7 884.9 904.9 876.4 892.3M895.9 901.1C894.1 921.9 903.6 947.7 910.4 940.5C920.2 941.6 910.7 915.8 895.9 901.1M915.4 909.9C917.2 928.7 929.5 950.4 934.3 943.3C942.8 942.9 930.6 921.1 915.4 909.9M852.8 880.9C854.4 881.3 859.3 882.6 862 883.2C864.7 883.9 867.2 883.8 868.9 884.9C870.6 886 871.1 888.3 872.3 889.8C873.4 891.3 874.6 892.8 875.9 893.9C877.2 895 878.5 895.9 880 896.5C881.5 897.1 883.1 897.3 884.7 897.3C886.4 897.3 888.2 896.9 890 896.4C891.8 896 893.7 895.2 895.5 894.5C897.4 893.8 899.4 893 901.2 892.4C903.1 891.8 904.9 891.2 906.6 890.9C908.4 890.6 910.1 890.5 911.6 890.8C913.2 891.1 914.7 891.7 916.1 892.5C917.4 893.3 918.7 894.6 919.9 895.9C921.1 897.2 922.2 898.9 923.4 900.5C924.5 902.2 925.5 904 926.7 905.6C927.8 907.2 928.9 908.9 930.1 910.3C931.4 911.6 932.6 912.8 934 913.7C935.4 914.5 936.7 915.5 938.4 915.4C940.1 915.2 942.3 913.5 944.1 913C945.9 912.6 947.5 912.9 949.2 912.7C950.9 912.5 952.7 912.2 954.4 912C956.1 911.8 958.7 911.5 959.5 911.4M852.1 883.1C853.6 883.5 858.6 884.8 861.3 885.5C863.9 886.1 866.1 887.2 868.2 887.1C870.3 887 872 885.6 873.8 885C875.6 884.5 877.5 884 879.2 883.9C880.9 883.7 882.5 883.8 884 884.2C885.5 884.6 886.9 885.3 888.3 886.3C889.6 887.3 890.8 888.7 892 890.1C893.2 891.5 894.3 893.3 895.4 894.9C896.5 896.6 897.6 898.4 898.7 900C899.9 901.6 901 903.2 902.3 904.4C903.5 905.6 904.8 906.7 906.3 907.4C907.7 908.1 909.2 908.5 910.8 908.6C912.4 908.7 914.2 908.5 915.9 908.1C917.7 907.8 919.6 907.1 921.5 906.4C923.3 905.8 925.3 904.9 927.1 904.2C929 903.6 930.9 902.9 932.6 902.5C934.4 902.2 936.2 901.9 937.8 902C939.4 902.2 941 902.2 942.3 903.3C943.6 904.3 944.4 907.1 945.6 908.5C946.8 909.9 948.2 910.6 949.5 911.7C950.8 912.9 952 914.2 953.3 915.4C954.6 916.5 956.5 918.3 957.1 918.8" fill="none" stroke="#000" stroke-width="2.6" stroke-linecap="round" stroke-linejoin="round"/>
<ellipse cx="875.3" cy="888.2" rx="4" ry="2.5" transform="rotate(18 875.3 888.2)" fill="#000"/>
<text x="676.6" y="87.8" font-size="54" textLength="200.5" lengthAdjust="spacingAndGlyphs">Placenta</text>
<text x="1018.5" y="51.7" font-size="54" textLength="179.5" lengthAdjust="spacingAndGlyphs">Uterine</text>
<text x="1021" y="110" font-size="54" textLength="94" lengthAdjust="spacingAndGlyphs">wall</text>
<text x="483" y="162.5" font-size="54" textLength="86" lengthAdjust="spacingAndGlyphs">Villi</text>
<text x="295.5" y="222.5" font-size="54" textLength="268.6" lengthAdjust="spacingAndGlyphs">Intervillous</text>
<text x="298.5" y="277.5" font-size="54" textLength="135.6" lengthAdjust="spacingAndGlyphs">space</text>
<text x="166.5" y="375.5" font-size="54" textLength="224.8" lengthAdjust="spacingAndGlyphs">Umbilical</text>
<text x="168.5" y="433.8" font-size="54" textLength="107.8" lengthAdjust="spacingAndGlyphs">cord</text>
<text x="8.2" y="855.5" font-size="54" textLength="217.8" lengthAdjust="spacingAndGlyphs">Amniotic</text>
<text x="7.3" y="912.5" font-size="54" textLength="77.7" lengthAdjust="spacingAndGlyphs">sac</text>
<text x="110.8" y="1008.2" font-size="54" textLength="216.5" lengthAdjust="spacingAndGlyphs">Amniotic</text>
<text x="111.3" y="1066.5" font-size="54" textLength="108.3" lengthAdjust="spacingAndGlyphs">fluid</text>
<text x="394.2" y="1121.3" font-size="54" textLength="193.2" lengthAdjust="spacingAndGlyphs">Chorion</text>
<text x="640.7" y="1174.2" font-size="54" textLength="189" lengthAdjust="spacingAndGlyphs">Amnion</text>
<path d="M695.8 185V153.5H1007.5V185" fill="none" stroke="#000" stroke-width="2.7" />
<line x1="779" y1="95" x2="850" y2="152.5" stroke="#000" stroke-width="2.2"/>
<line x1="1044" y1="118" x2="1044" y2="219" stroke="#000" stroke-width="2.2"/>
<line x1="573.3" y1="165.8" x2="921" y2="334" stroke="#000" stroke-width="2.2"/>
<line x1="573.3" y1="165.8" x2="899" y2="347" stroke="#000" stroke-width="2.2"/>
<line x1="465" y1="270" x2="852.5" y2="460" stroke="#000" stroke-width="2.2"/>
<line x1="290" y1="432" x2="605" y2="597" stroke="#000" stroke-width="2.2"/>
<line x1="207.7" y1="807" x2="278" y2="754" stroke="#000" stroke-width="2.2"/>
<line x1="303" y1="955.7" x2="395" y2="862" stroke="#000" stroke-width="2.2"/>
<line x1="464" y1="982.5" x2="486.6" y2="1069.6" stroke="#000" stroke-width="2.2"/>
<line x1="605" y1="976" x2="681" y2="1120.6" stroke="#000" stroke-width="2.2"/>
</svg>
</body></html>
